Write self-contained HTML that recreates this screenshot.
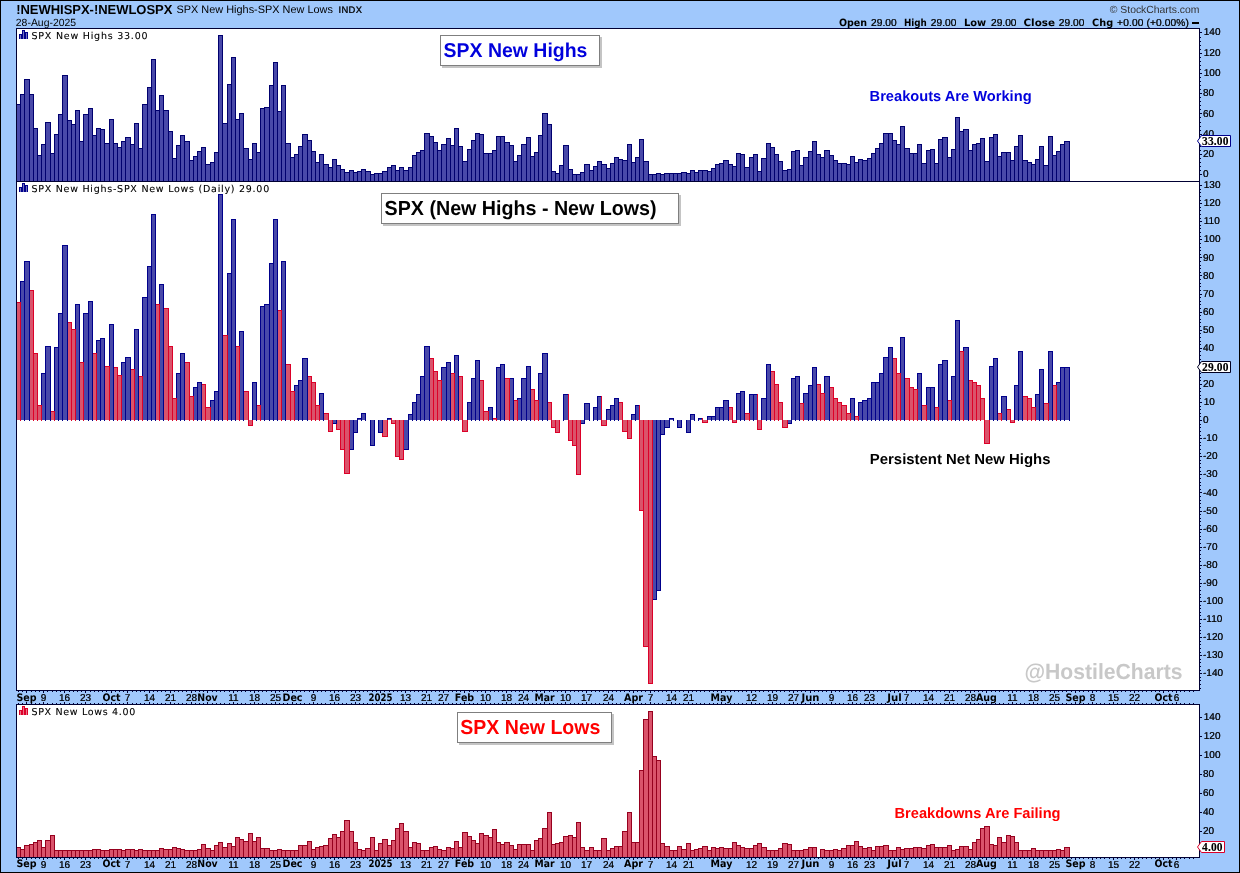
<!DOCTYPE html>
<html lang="en"><head><meta charset="utf-8"><title>SPX New Highs - New Lows</title>
<style>html,body{margin:0;padding:0;background:#fff}body{width:1240px;height:873px;overflow:hidden}svg{display:block}text{white-space:pre}</style>
</head><body>
<svg width="1240" height="873" viewBox="0 0 1240 873" shape-rendering="crispEdges">
<defs><filter id="dl" x="-5%" y="-20%" width="110%" height="140%" color-interpolation-filters="sRGB"><feComponentTransfer><feFuncA type="gamma" amplitude="1" exponent="0.8" offset="0"/></feComponentTransfer></filter><filter id="dk" x="-5%" y="-20%" width="110%" height="140%" color-interpolation-filters="sRGB"><feComponentTransfer><feFuncA type="gamma" amplitude="1" exponent="0.55" offset="0"/></feComponentTransfer></filter></defs>
<rect x="0" y="0" width="1240" height="873" fill="#000"/>
<rect x="1" y="1" width="1238" height="871" fill="#a0c8fc"/>
<rect x="16" y="28" width="1184" height="663" fill="#000033"/>
<rect x="17" y="29" width="1182" height="152" fill="#fff"/>
<rect x="17" y="182" width="1182" height="508" fill="#fff"/>
<rect x="16" y="704" width="1184" height="154" fill="#000033"/>
<rect x="17" y="705" width="1182" height="152" fill="#fff"/>
<g><rect x="1064" y="141" width="6" height="40" fill="#00006e"/><rect x="1065" y="142" width="4" height="39" fill="#4949a9"/><rect x="1060" y="144" width="5" height="37" fill="#00006e"/><rect x="1061" y="145" width="3" height="36" fill="#4949a9"/><rect x="1056" y="151" width="5" height="30" fill="#00006e"/><rect x="1057" y="152" width="3" height="29" fill="#4949a9"/><rect x="1052" y="155" width="5" height="26" fill="#00006e"/><rect x="1053" y="156" width="3" height="25" fill="#4949a9"/><rect x="1048" y="136" width="5" height="45" fill="#00006e"/><rect x="1049" y="137" width="3" height="44" fill="#4949a9"/><rect x="1043" y="165" width="6" height="16" fill="#00006e"/><rect x="1044" y="166" width="4" height="15" fill="#4949a9"/><rect x="1039" y="146" width="5" height="35" fill="#00006e"/><rect x="1040" y="147" width="3" height="34" fill="#4949a9"/><rect x="1035" y="159" width="5" height="22" fill="#00006e"/><rect x="1036" y="160" width="3" height="21" fill="#4949a9"/><rect x="1031" y="164" width="5" height="17" fill="#00006e"/><rect x="1032" y="165" width="3" height="16" fill="#4949a9"/><rect x="1027" y="162" width="5" height="19" fill="#00006e"/><rect x="1028" y="163" width="3" height="18" fill="#4949a9"/><rect x="1022" y="160" width="6" height="21" fill="#00006e"/><rect x="1023" y="161" width="4" height="20" fill="#4949a9"/><rect x="1018" y="135" width="5" height="46" fill="#00006e"/><rect x="1019" y="136" width="3" height="45" fill="#4949a9"/><rect x="1014" y="146" width="5" height="35" fill="#00006e"/><rect x="1015" y="147" width="3" height="34" fill="#4949a9"/><rect x="1010" y="160" width="5" height="21" fill="#00006e"/><rect x="1011" y="161" width="3" height="20" fill="#4949a9"/><rect x="1006" y="152" width="5" height="29" fill="#00006e"/><rect x="1007" y="153" width="3" height="28" fill="#4949a9"/><rect x="1001" y="152" width="6" height="29" fill="#00006e"/><rect x="1002" y="153" width="4" height="28" fill="#4949a9"/><rect x="997" y="156" width="5" height="25" fill="#00006e"/><rect x="998" y="157" width="3" height="24" fill="#4949a9"/><rect x="993" y="134" width="5" height="47" fill="#00006e"/><rect x="994" y="135" width="3" height="46" fill="#4949a9"/><rect x="989" y="137" width="5" height="44" fill="#00006e"/><rect x="990" y="138" width="3" height="43" fill="#4949a9"/><rect x="984" y="161" width="6" height="20" fill="#00006e"/><rect x="985" y="162" width="4" height="19" fill="#4949a9"/><rect x="980" y="138" width="5" height="43" fill="#00006e"/><rect x="981" y="139" width="3" height="42" fill="#4949a9"/><rect x="976" y="143" width="5" height="38" fill="#00006e"/><rect x="977" y="144" width="3" height="37" fill="#4949a9"/><rect x="972" y="144" width="5" height="37" fill="#00006e"/><rect x="973" y="145" width="3" height="36" fill="#4949a9"/><rect x="968" y="150" width="5" height="31" fill="#00006e"/><rect x="969" y="151" width="3" height="30" fill="#4949a9"/><rect x="963" y="129" width="6" height="52" fill="#00006e"/><rect x="964" y="130" width="4" height="51" fill="#4949a9"/><rect x="959" y="131" width="5" height="50" fill="#00006e"/><rect x="960" y="132" width="3" height="49" fill="#4949a9"/><rect x="955" y="117" width="5" height="64" fill="#00006e"/><rect x="956" y="118" width="3" height="63" fill="#4949a9"/><rect x="951" y="149" width="5" height="32" fill="#00006e"/><rect x="952" y="150" width="3" height="31" fill="#4949a9"/><rect x="947" y="157" width="5" height="24" fill="#00006e"/><rect x="948" y="158" width="3" height="23" fill="#4949a9"/><rect x="942" y="137" width="6" height="44" fill="#00006e"/><rect x="943" y="138" width="4" height="43" fill="#4949a9"/><rect x="938" y="139" width="5" height="42" fill="#00006e"/><rect x="939" y="140" width="3" height="41" fill="#4949a9"/><rect x="934" y="163" width="5" height="18" fill="#00006e"/><rect x="935" y="164" width="3" height="17" fill="#4949a9"/><rect x="930" y="149" width="5" height="32" fill="#00006e"/><rect x="931" y="150" width="3" height="31" fill="#4949a9"/><rect x="926" y="150" width="5" height="31" fill="#00006e"/><rect x="927" y="151" width="3" height="30" fill="#4949a9"/><rect x="921" y="163" width="6" height="18" fill="#00006e"/><rect x="922" y="164" width="4" height="17" fill="#4949a9"/><rect x="917" y="144" width="5" height="37" fill="#00006e"/><rect x="918" y="145" width="3" height="36" fill="#4949a9"/><rect x="913" y="153" width="5" height="28" fill="#00006e"/><rect x="914" y="154" width="3" height="27" fill="#4949a9"/><rect x="909" y="153" width="5" height="28" fill="#00006e"/><rect x="910" y="154" width="3" height="27" fill="#4949a9"/><rect x="904" y="148" width="6" height="33" fill="#00006e"/><rect x="905" y="149" width="4" height="32" fill="#4949a9"/><rect x="900" y="126" width="5" height="55" fill="#00006e"/><rect x="901" y="127" width="3" height="54" fill="#4949a9"/><rect x="896" y="144" width="5" height="37" fill="#00006e"/><rect x="897" y="145" width="3" height="36" fill="#4949a9"/><rect x="892" y="140" width="5" height="41" fill="#00006e"/><rect x="893" y="141" width="3" height="40" fill="#4949a9"/><rect x="888" y="133" width="5" height="48" fill="#00006e"/><rect x="889" y="134" width="3" height="47" fill="#4949a9"/><rect x="883" y="133" width="6" height="48" fill="#00006e"/><rect x="884" y="134" width="4" height="47" fill="#4949a9"/><rect x="879" y="143" width="5" height="38" fill="#00006e"/><rect x="880" y="144" width="3" height="37" fill="#4949a9"/><rect x="875" y="148" width="5" height="33" fill="#00006e"/><rect x="876" y="149" width="3" height="32" fill="#4949a9"/><rect x="871" y="153" width="5" height="28" fill="#00006e"/><rect x="872" y="154" width="3" height="27" fill="#4949a9"/><rect x="867" y="158" width="5" height="23" fill="#00006e"/><rect x="868" y="159" width="3" height="22" fill="#4949a9"/><rect x="862" y="160" width="6" height="21" fill="#00006e"/><rect x="863" y="161" width="4" height="20" fill="#4949a9"/><rect x="858" y="159" width="5" height="22" fill="#00006e"/><rect x="859" y="160" width="3" height="21" fill="#4949a9"/><rect x="854" y="162" width="5" height="19" fill="#00006e"/><rect x="855" y="163" width="3" height="18" fill="#4949a9"/><rect x="850" y="156" width="5" height="25" fill="#00006e"/><rect x="851" y="157" width="3" height="24" fill="#4949a9"/><rect x="846" y="164" width="5" height="17" fill="#00006e"/><rect x="847" y="165" width="3" height="16" fill="#4949a9"/><rect x="841" y="163" width="6" height="18" fill="#00006e"/><rect x="842" y="164" width="4" height="17" fill="#4949a9"/><rect x="837" y="163" width="5" height="18" fill="#00006e"/><rect x="838" y="164" width="3" height="17" fill="#4949a9"/><rect x="833" y="160" width="5" height="21" fill="#00006e"/><rect x="834" y="161" width="3" height="20" fill="#4949a9"/><rect x="829" y="155" width="5" height="26" fill="#00006e"/><rect x="830" y="156" width="3" height="25" fill="#4949a9"/><rect x="824" y="150" width="6" height="31" fill="#00006e"/><rect x="825" y="151" width="4" height="30" fill="#4949a9"/><rect x="820" y="157" width="5" height="24" fill="#00006e"/><rect x="821" y="158" width="3" height="23" fill="#4949a9"/><rect x="816" y="154" width="5" height="27" fill="#00006e"/><rect x="817" y="155" width="3" height="26" fill="#4949a9"/><rect x="812" y="141" width="5" height="40" fill="#00006e"/><rect x="813" y="142" width="3" height="39" fill="#4949a9"/><rect x="808" y="151" width="5" height="30" fill="#00006e"/><rect x="809" y="152" width="3" height="29" fill="#4949a9"/><rect x="803" y="157" width="6" height="24" fill="#00006e"/><rect x="804" y="158" width="4" height="23" fill="#4949a9"/><rect x="799" y="165" width="5" height="16" fill="#00006e"/><rect x="800" y="166" width="3" height="15" fill="#4949a9"/><rect x="795" y="150" width="5" height="31" fill="#00006e"/><rect x="796" y="151" width="3" height="30" fill="#4949a9"/><rect x="791" y="151" width="5" height="30" fill="#00006e"/><rect x="792" y="152" width="3" height="29" fill="#4949a9"/><rect x="787" y="169" width="5" height="12" fill="#00006e"/><rect x="788" y="170" width="3" height="11" fill="#4949a9"/><rect x="782" y="170" width="6" height="11" fill="#00006e"/><rect x="783" y="171" width="4" height="10" fill="#4949a9"/><rect x="778" y="161" width="5" height="20" fill="#00006e"/><rect x="779" y="162" width="3" height="19" fill="#4949a9"/><rect x="774" y="154" width="5" height="27" fill="#00006e"/><rect x="775" y="155" width="3" height="26" fill="#4949a9"/><rect x="770" y="147" width="5" height="34" fill="#00006e"/><rect x="771" y="148" width="3" height="33" fill="#4949a9"/><rect x="766" y="143" width="5" height="38" fill="#00006e"/><rect x="767" y="144" width="3" height="37" fill="#4949a9"/><rect x="761" y="158" width="6" height="23" fill="#00006e"/><rect x="762" y="159" width="4" height="22" fill="#4949a9"/><rect x="757" y="171" width="5" height="10" fill="#00006e"/><rect x="758" y="172" width="3" height="9" fill="#4949a9"/><rect x="753" y="154" width="5" height="27" fill="#00006e"/><rect x="754" y="155" width="3" height="26" fill="#4949a9"/><rect x="749" y="157" width="5" height="24" fill="#00006e"/><rect x="750" y="158" width="3" height="23" fill="#4949a9"/><rect x="744" y="167" width="6" height="14" fill="#00006e"/><rect x="745" y="168" width="4" height="13" fill="#4949a9"/><rect x="740" y="154" width="5" height="27" fill="#00006e"/><rect x="741" y="155" width="3" height="26" fill="#4949a9"/><rect x="736" y="153" width="5" height="28" fill="#00006e"/><rect x="737" y="154" width="3" height="27" fill="#4949a9"/><rect x="732" y="166" width="5" height="15" fill="#00006e"/><rect x="733" y="167" width="3" height="14" fill="#4949a9"/><rect x="728" y="164" width="5" height="17" fill="#00006e"/><rect x="729" y="165" width="3" height="16" fill="#4949a9"/><rect x="723" y="160" width="6" height="21" fill="#00006e"/><rect x="724" y="161" width="4" height="20" fill="#4949a9"/><rect x="719" y="163" width="5" height="18" fill="#00006e"/><rect x="720" y="164" width="3" height="17" fill="#4949a9"/><rect x="715" y="164" width="5" height="17" fill="#00006e"/><rect x="716" y="165" width="3" height="16" fill="#4949a9"/><rect x="711" y="168" width="5" height="13" fill="#00006e"/><rect x="712" y="169" width="3" height="12" fill="#4949a9"/><rect x="707" y="171" width="5" height="10" fill="#00006e"/><rect x="708" y="172" width="3" height="9" fill="#4949a9"/><rect x="702" y="170" width="6" height="11" fill="#00006e"/><rect x="703" y="171" width="4" height="10" fill="#4949a9"/><rect x="698" y="170" width="5" height="11" fill="#00006e"/><rect x="699" y="171" width="3" height="10" fill="#4949a9"/><rect x="694" y="172" width="5" height="9" fill="#00006e"/><rect x="695" y="173" width="3" height="8" fill="#4949a9"/><rect x="690" y="170" width="5" height="11" fill="#00006e"/><rect x="691" y="171" width="3" height="10" fill="#4949a9"/><rect x="686" y="173" width="5" height="8" fill="#00006e"/><rect x="687" y="174" width="3" height="7" fill="#4949a9"/><rect x="681" y="172" width="6" height="9" fill="#00006e"/><rect x="682" y="173" width="4" height="8" fill="#4949a9"/><rect x="677" y="173" width="5" height="8" fill="#00006e"/><rect x="678" y="174" width="3" height="7" fill="#4949a9"/><rect x="673" y="173" width="5" height="8" fill="#00006e"/><rect x="674" y="174" width="3" height="7" fill="#4949a9"/><rect x="669" y="173" width="5" height="8" fill="#00006e"/><rect x="670" y="174" width="3" height="7" fill="#4949a9"/><rect x="664" y="173" width="6" height="8" fill="#00006e"/><rect x="665" y="174" width="4" height="7" fill="#4949a9"/><rect x="660" y="174" width="5" height="7" fill="#00006e"/><rect x="661" y="175" width="3" height="6" fill="#4949a9"/><rect x="656" y="173" width="5" height="8" fill="#00006e"/><rect x="657" y="174" width="3" height="7" fill="#4949a9"/><rect x="652" y="174" width="5" height="7" fill="#00006e"/><rect x="653" y="175" width="3" height="6" fill="#4949a9"/><rect x="648" y="174" width="5" height="7" fill="#00006e"/><rect x="649" y="175" width="3" height="6" fill="#4949a9"/><rect x="643" y="161" width="6" height="20" fill="#00006e"/><rect x="644" y="162" width="4" height="19" fill="#4949a9"/><rect x="639" y="139" width="5" height="42" fill="#00006e"/><rect x="640" y="140" width="3" height="41" fill="#4949a9"/><rect x="635" y="157" width="5" height="24" fill="#00006e"/><rect x="636" y="158" width="3" height="23" fill="#4949a9"/><rect x="631" y="162" width="5" height="19" fill="#00006e"/><rect x="632" y="163" width="3" height="18" fill="#4949a9"/><rect x="627" y="144" width="5" height="37" fill="#00006e"/><rect x="628" y="145" width="3" height="36" fill="#4949a9"/><rect x="622" y="160" width="6" height="21" fill="#00006e"/><rect x="623" y="161" width="4" height="20" fill="#4949a9"/><rect x="618" y="159" width="5" height="22" fill="#00006e"/><rect x="619" y="160" width="3" height="21" fill="#4949a9"/><rect x="614" y="157" width="5" height="24" fill="#00006e"/><rect x="615" y="158" width="3" height="23" fill="#4949a9"/><rect x="610" y="163" width="5" height="18" fill="#00006e"/><rect x="611" y="164" width="3" height="17" fill="#4949a9"/><rect x="606" y="168" width="5" height="13" fill="#00006e"/><rect x="607" y="169" width="3" height="12" fill="#4949a9"/><rect x="601" y="164" width="6" height="17" fill="#00006e"/><rect x="602" y="165" width="4" height="16" fill="#4949a9"/><rect x="597" y="161" width="5" height="20" fill="#00006e"/><rect x="598" y="162" width="3" height="19" fill="#4949a9"/><rect x="593" y="166" width="5" height="15" fill="#00006e"/><rect x="594" y="167" width="3" height="14" fill="#4949a9"/><rect x="589" y="170" width="5" height="11" fill="#00006e"/><rect x="590" y="171" width="3" height="10" fill="#4949a9"/><rect x="584" y="164" width="6" height="17" fill="#00006e"/><rect x="585" y="165" width="4" height="16" fill="#4949a9"/><rect x="580" y="172" width="5" height="9" fill="#00006e"/><rect x="581" y="173" width="3" height="8" fill="#4949a9"/><rect x="576" y="174" width="5" height="7" fill="#00006e"/><rect x="577" y="175" width="3" height="6" fill="#4949a9"/><rect x="572" y="174" width="5" height="7" fill="#00006e"/><rect x="573" y="175" width="3" height="6" fill="#4949a9"/><rect x="568" y="169" width="5" height="12" fill="#00006e"/><rect x="569" y="170" width="3" height="11" fill="#4949a9"/><rect x="563" y="145" width="6" height="36" fill="#00006e"/><rect x="564" y="146" width="4" height="35" fill="#4949a9"/><rect x="559" y="165" width="5" height="16" fill="#00006e"/><rect x="560" y="166" width="3" height="15" fill="#4949a9"/><rect x="555" y="173" width="5" height="8" fill="#00006e"/><rect x="556" y="174" width="3" height="7" fill="#4949a9"/><rect x="551" y="171" width="5" height="10" fill="#00006e"/><rect x="552" y="172" width="3" height="9" fill="#4949a9"/><rect x="547" y="124" width="5" height="57" fill="#00006e"/><rect x="548" y="125" width="3" height="56" fill="#4949a9"/><rect x="542" y="113" width="6" height="68" fill="#00006e"/><rect x="543" y="114" width="4" height="67" fill="#4949a9"/><rect x="538" y="135" width="5" height="46" fill="#00006e"/><rect x="539" y="136" width="3" height="45" fill="#4949a9"/><rect x="534" y="152" width="5" height="29" fill="#00006e"/><rect x="535" y="153" width="3" height="28" fill="#4949a9"/><rect x="530" y="156" width="5" height="25" fill="#00006e"/><rect x="531" y="157" width="3" height="24" fill="#4949a9"/><rect x="526" y="137" width="5" height="44" fill="#00006e"/><rect x="527" y="138" width="3" height="43" fill="#4949a9"/><rect x="521" y="144" width="6" height="37" fill="#00006e"/><rect x="522" y="145" width="4" height="36" fill="#4949a9"/><rect x="517" y="155" width="5" height="26" fill="#00006e"/><rect x="518" y="156" width="3" height="25" fill="#4949a9"/><rect x="513" y="161" width="5" height="20" fill="#00006e"/><rect x="514" y="162" width="3" height="19" fill="#4949a9"/><rect x="509" y="145" width="5" height="36" fill="#00006e"/><rect x="510" y="146" width="3" height="35" fill="#4949a9"/><rect x="504" y="142" width="6" height="39" fill="#00006e"/><rect x="505" y="143" width="4" height="38" fill="#4949a9"/><rect x="500" y="136" width="5" height="45" fill="#00006e"/><rect x="501" y="137" width="3" height="44" fill="#4949a9"/><rect x="496" y="136" width="5" height="45" fill="#00006e"/><rect x="497" y="137" width="3" height="44" fill="#4949a9"/><rect x="492" y="150" width="5" height="31" fill="#00006e"/><rect x="493" y="151" width="3" height="30" fill="#4949a9"/><rect x="488" y="153" width="5" height="28" fill="#00006e"/><rect x="489" y="154" width="3" height="27" fill="#4949a9"/><rect x="483" y="153" width="6" height="28" fill="#00006e"/><rect x="484" y="154" width="4" height="27" fill="#4949a9"/><rect x="479" y="134" width="5" height="47" fill="#00006e"/><rect x="480" y="135" width="3" height="46" fill="#4949a9"/><rect x="475" y="133" width="5" height="48" fill="#00006e"/><rect x="476" y="134" width="3" height="47" fill="#4949a9"/><rect x="471" y="140" width="5" height="41" fill="#00006e"/><rect x="472" y="141" width="3" height="40" fill="#4949a9"/><rect x="467" y="149" width="5" height="32" fill="#00006e"/><rect x="468" y="150" width="3" height="31" fill="#4949a9"/><rect x="462" y="161" width="6" height="20" fill="#00006e"/><rect x="463" y="162" width="4" height="19" fill="#4949a9"/><rect x="458" y="146" width="5" height="35" fill="#00006e"/><rect x="459" y="147" width="3" height="34" fill="#4949a9"/><rect x="454" y="128" width="5" height="53" fill="#00006e"/><rect x="455" y="129" width="3" height="52" fill="#4949a9"/><rect x="450" y="145" width="5" height="36" fill="#00006e"/><rect x="451" y="146" width="3" height="35" fill="#4949a9"/><rect x="446" y="138" width="5" height="43" fill="#00006e"/><rect x="447" y="139" width="3" height="42" fill="#4949a9"/><rect x="441" y="144" width="6" height="37" fill="#00006e"/><rect x="442" y="145" width="4" height="36" fill="#4949a9"/><rect x="437" y="150" width="5" height="31" fill="#00006e"/><rect x="438" y="151" width="3" height="30" fill="#4949a9"/><rect x="433" y="142" width="5" height="39" fill="#00006e"/><rect x="434" y="143" width="3" height="38" fill="#4949a9"/><rect x="429" y="136" width="5" height="45" fill="#00006e"/><rect x="430" y="137" width="3" height="44" fill="#4949a9"/><rect x="424" y="133" width="6" height="48" fill="#00006e"/><rect x="425" y="134" width="4" height="47" fill="#4949a9"/><rect x="420" y="150" width="5" height="31" fill="#00006e"/><rect x="421" y="151" width="3" height="30" fill="#4949a9"/><rect x="416" y="152" width="5" height="29" fill="#00006e"/><rect x="417" y="153" width="3" height="28" fill="#4949a9"/><rect x="412" y="155" width="5" height="26" fill="#00006e"/><rect x="413" y="156" width="3" height="25" fill="#4949a9"/><rect x="408" y="167" width="5" height="14" fill="#00006e"/><rect x="409" y="168" width="3" height="13" fill="#4949a9"/><rect x="403" y="170" width="6" height="11" fill="#00006e"/><rect x="404" y="171" width="4" height="10" fill="#4949a9"/><rect x="399" y="167" width="5" height="14" fill="#00006e"/><rect x="400" y="168" width="3" height="13" fill="#4949a9"/><rect x="395" y="170" width="5" height="11" fill="#00006e"/><rect x="396" y="171" width="3" height="10" fill="#4949a9"/><rect x="391" y="165" width="5" height="16" fill="#00006e"/><rect x="392" y="166" width="3" height="15" fill="#4949a9"/><rect x="387" y="167" width="5" height="14" fill="#00006e"/><rect x="388" y="168" width="3" height="13" fill="#4949a9"/><rect x="382" y="171" width="6" height="10" fill="#00006e"/><rect x="383" y="172" width="4" height="9" fill="#4949a9"/><rect x="378" y="173" width="5" height="8" fill="#00006e"/><rect x="379" y="174" width="3" height="7" fill="#4949a9"/><rect x="374" y="173" width="5" height="8" fill="#00006e"/><rect x="375" y="174" width="3" height="7" fill="#4949a9"/><rect x="370" y="174" width="5" height="7" fill="#00006e"/><rect x="371" y="175" width="3" height="6" fill="#4949a9"/><rect x="365" y="171" width="6" height="10" fill="#00006e"/><rect x="366" y="172" width="4" height="9" fill="#4949a9"/><rect x="361" y="169" width="5" height="12" fill="#00006e"/><rect x="362" y="170" width="3" height="11" fill="#4949a9"/><rect x="357" y="171" width="5" height="10" fill="#00006e"/><rect x="358" y="172" width="3" height="9" fill="#4949a9"/><rect x="353" y="172" width="5" height="9" fill="#00006e"/><rect x="354" y="173" width="3" height="8" fill="#4949a9"/><rect x="349" y="170" width="5" height="11" fill="#00006e"/><rect x="350" y="171" width="3" height="10" fill="#4949a9"/><rect x="344" y="172" width="6" height="9" fill="#00006e"/><rect x="345" y="173" width="4" height="8" fill="#4949a9"/><rect x="340" y="169" width="5" height="12" fill="#00006e"/><rect x="341" y="170" width="3" height="11" fill="#4949a9"/><rect x="336" y="165" width="5" height="16" fill="#00006e"/><rect x="337" y="166" width="3" height="15" fill="#4949a9"/><rect x="332" y="159" width="5" height="22" fill="#00006e"/><rect x="333" y="160" width="3" height="21" fill="#4949a9"/><rect x="328" y="167" width="5" height="14" fill="#00006e"/><rect x="329" y="168" width="3" height="13" fill="#4949a9"/><rect x="323" y="164" width="6" height="17" fill="#00006e"/><rect x="324" y="165" width="4" height="16" fill="#4949a9"/><rect x="319" y="154" width="5" height="27" fill="#00006e"/><rect x="320" y="155" width="3" height="26" fill="#4949a9"/><rect x="315" y="162" width="5" height="19" fill="#00006e"/><rect x="316" y="163" width="3" height="18" fill="#4949a9"/><rect x="311" y="151" width="5" height="30" fill="#00006e"/><rect x="312" y="152" width="3" height="29" fill="#4949a9"/><rect x="307" y="140" width="5" height="41" fill="#00006e"/><rect x="308" y="141" width="3" height="40" fill="#4949a9"/><rect x="302" y="134" width="6" height="47" fill="#00006e"/><rect x="303" y="135" width="4" height="46" fill="#4949a9"/><rect x="298" y="146" width="5" height="35" fill="#00006e"/><rect x="299" y="147" width="3" height="34" fill="#4949a9"/><rect x="294" y="154" width="5" height="27" fill="#00006e"/><rect x="295" y="155" width="3" height="26" fill="#4949a9"/><rect x="290" y="157" width="5" height="24" fill="#00006e"/><rect x="291" y="158" width="3" height="23" fill="#4949a9"/><rect x="285" y="143" width="6" height="38" fill="#00006e"/><rect x="286" y="144" width="4" height="37" fill="#4949a9"/><rect x="281" y="85" width="5" height="96" fill="#00006e"/><rect x="282" y="86" width="3" height="95" fill="#4949a9"/><rect x="277" y="111" width="5" height="70" fill="#00006e"/><rect x="278" y="112" width="3" height="69" fill="#4949a9"/><rect x="273" y="62" width="5" height="119" fill="#00006e"/><rect x="274" y="63" width="3" height="118" fill="#4949a9"/><rect x="269" y="85" width="5" height="96" fill="#00006e"/><rect x="270" y="86" width="3" height="95" fill="#4949a9"/><rect x="264" y="107" width="6" height="74" fill="#00006e"/><rect x="265" y="108" width="4" height="73" fill="#4949a9"/><rect x="260" y="108" width="5" height="73" fill="#00006e"/><rect x="261" y="109" width="3" height="72" fill="#4949a9"/><rect x="256" y="152" width="5" height="29" fill="#00006e"/><rect x="257" y="153" width="3" height="28" fill="#4949a9"/><rect x="252" y="143" width="5" height="38" fill="#00006e"/><rect x="253" y="144" width="3" height="37" fill="#4949a9"/><rect x="248" y="159" width="5" height="22" fill="#00006e"/><rect x="249" y="160" width="3" height="21" fill="#4949a9"/><rect x="243" y="148" width="6" height="33" fill="#00006e"/><rect x="244" y="149" width="4" height="32" fill="#4949a9"/><rect x="239" y="113" width="5" height="68" fill="#00006e"/><rect x="240" y="114" width="3" height="67" fill="#4949a9"/><rect x="235" y="119" width="5" height="62" fill="#00006e"/><rect x="236" y="120" width="3" height="61" fill="#4949a9"/><rect x="231" y="57" width="5" height="124" fill="#00006e"/><rect x="232" y="58" width="3" height="123" fill="#4949a9"/><rect x="227" y="84" width="5" height="97" fill="#00006e"/><rect x="228" y="85" width="3" height="96" fill="#4949a9"/><rect x="222" y="123" width="6" height="58" fill="#00006e"/><rect x="223" y="124" width="4" height="57" fill="#4949a9"/><rect x="218" y="35" width="5" height="146" fill="#00006e"/><rect x="219" y="36" width="3" height="145" fill="#4949a9"/><rect x="214" y="152" width="5" height="29" fill="#00006e"/><rect x="215" y="153" width="3" height="28" fill="#4949a9"/><rect x="210" y="162" width="5" height="19" fill="#00006e"/><rect x="211" y="163" width="3" height="18" fill="#4949a9"/><rect x="205" y="164" width="6" height="17" fill="#00006e"/><rect x="206" y="165" width="4" height="16" fill="#4949a9"/><rect x="201" y="147" width="5" height="34" fill="#00006e"/><rect x="202" y="148" width="3" height="33" fill="#4949a9"/><rect x="197" y="151" width="5" height="30" fill="#00006e"/><rect x="198" y="152" width="3" height="29" fill="#4949a9"/><rect x="193" y="156" width="5" height="25" fill="#00006e"/><rect x="194" y="157" width="3" height="24" fill="#4949a9"/><rect x="189" y="160" width="5" height="21" fill="#00006e"/><rect x="190" y="161" width="3" height="20" fill="#4949a9"/><rect x="184" y="141" width="6" height="40" fill="#00006e"/><rect x="185" y="142" width="4" height="39" fill="#4949a9"/><rect x="180" y="135" width="5" height="46" fill="#00006e"/><rect x="181" y="136" width="3" height="45" fill="#4949a9"/><rect x="176" y="145" width="5" height="36" fill="#00006e"/><rect x="177" y="146" width="3" height="35" fill="#4949a9"/><rect x="172" y="158" width="5" height="23" fill="#00006e"/><rect x="173" y="159" width="3" height="22" fill="#4949a9"/><rect x="168" y="131" width="5" height="50" fill="#00006e"/><rect x="169" y="132" width="3" height="49" fill="#4949a9"/><rect x="163" y="110" width="6" height="71" fill="#00006e"/><rect x="164" y="111" width="4" height="70" fill="#4949a9"/><rect x="159" y="95" width="5" height="86" fill="#00006e"/><rect x="160" y="96" width="3" height="85" fill="#4949a9"/><rect x="155" y="110" width="5" height="71" fill="#00006e"/><rect x="156" y="111" width="3" height="70" fill="#4949a9"/><rect x="151" y="59" width="5" height="122" fill="#00006e"/><rect x="152" y="60" width="3" height="121" fill="#4949a9"/><rect x="147" y="87" width="5" height="94" fill="#00006e"/><rect x="148" y="88" width="3" height="93" fill="#4949a9"/><rect x="142" y="104" width="6" height="77" fill="#00006e"/><rect x="143" y="105" width="4" height="76" fill="#4949a9"/><rect x="138" y="148" width="5" height="33" fill="#00006e"/><rect x="139" y="149" width="3" height="32" fill="#4949a9"/><rect x="134" y="123" width="5" height="58" fill="#00006e"/><rect x="135" y="124" width="3" height="57" fill="#4949a9"/><rect x="130" y="144" width="5" height="37" fill="#00006e"/><rect x="131" y="145" width="3" height="36" fill="#4949a9"/><rect x="125" y="137" width="6" height="44" fill="#00006e"/><rect x="126" y="138" width="4" height="43" fill="#4949a9"/><rect x="121" y="141" width="5" height="40" fill="#00006e"/><rect x="122" y="142" width="3" height="39" fill="#4949a9"/><rect x="117" y="147" width="5" height="34" fill="#00006e"/><rect x="118" y="148" width="3" height="33" fill="#4949a9"/><rect x="113" y="143" width="5" height="38" fill="#00006e"/><rect x="114" y="144" width="3" height="37" fill="#4949a9"/><rect x="109" y="119" width="5" height="62" fill="#00006e"/><rect x="110" y="120" width="3" height="61" fill="#4949a9"/><rect x="104" y="143" width="6" height="38" fill="#00006e"/><rect x="105" y="144" width="4" height="37" fill="#4949a9"/><rect x="100" y="129" width="5" height="52" fill="#00006e"/><rect x="101" y="130" width="3" height="51" fill="#4949a9"/><rect x="96" y="128" width="5" height="53" fill="#00006e"/><rect x="97" y="129" width="3" height="52" fill="#4949a9"/><rect x="92" y="135" width="5" height="46" fill="#00006e"/><rect x="93" y="136" width="3" height="45" fill="#4949a9"/><rect x="88" y="108" width="5" height="73" fill="#00006e"/><rect x="89" y="109" width="3" height="72" fill="#4949a9"/><rect x="83" y="114" width="6" height="67" fill="#00006e"/><rect x="84" y="115" width="4" height="66" fill="#4949a9"/><rect x="79" y="141" width="5" height="40" fill="#00006e"/><rect x="80" y="142" width="3" height="39" fill="#4949a9"/><rect x="75" y="110" width="5" height="71" fill="#00006e"/><rect x="76" y="111" width="3" height="70" fill="#4949a9"/><rect x="71" y="124" width="5" height="57" fill="#00006e"/><rect x="72" y="125" width="3" height="56" fill="#4949a9"/><rect x="67" y="120" width="5" height="61" fill="#00006e"/><rect x="68" y="121" width="3" height="60" fill="#4949a9"/><rect x="62" y="75" width="6" height="106" fill="#00006e"/><rect x="63" y="76" width="4" height="105" fill="#4949a9"/><rect x="58" y="114" width="5" height="67" fill="#00006e"/><rect x="59" y="115" width="3" height="66" fill="#4949a9"/><rect x="54" y="134" width="5" height="47" fill="#00006e"/><rect x="55" y="135" width="3" height="46" fill="#4949a9"/><rect x="50" y="153" width="5" height="28" fill="#00006e"/><rect x="51" y="154" width="3" height="27" fill="#4949a9"/><rect x="45" y="122" width="6" height="59" fill="#00006e"/><rect x="46" y="123" width="4" height="58" fill="#4949a9"/><rect x="41" y="144" width="5" height="37" fill="#00006e"/><rect x="42" y="145" width="3" height="36" fill="#4949a9"/><rect x="37" y="155" width="5" height="26" fill="#00006e"/><rect x="38" y="156" width="3" height="25" fill="#4949a9"/><rect x="33" y="128" width="5" height="53" fill="#00006e"/><rect x="34" y="129" width="3" height="52" fill="#4949a9"/><rect x="29" y="94" width="5" height="87" fill="#00006e"/><rect x="30" y="95" width="3" height="86" fill="#4949a9"/><rect x="24" y="79" width="6" height="102" fill="#00006e"/><rect x="25" y="80" width="4" height="101" fill="#4949a9"/><rect x="20" y="94" width="5" height="87" fill="#00006e"/><rect x="21" y="95" width="3" height="86" fill="#4949a9"/><rect x="16" y="104" width="5" height="77" fill="#00006e"/><rect x="17" y="105" width="3" height="76" fill="#4949a9"/></g>
<g><rect x="1064" y="847" width="6" height="10" fill="#96001e"/><rect x="1065" y="848" width="4" height="9" fill="#da536b"/><rect x="1060" y="850" width="5" height="7" fill="#96001e"/><rect x="1061" y="851" width="3" height="6" fill="#da536b"/><rect x="1056" y="849" width="5" height="8" fill="#96001e"/><rect x="1057" y="850" width="3" height="7" fill="#da536b"/><rect x="1052" y="850" width="5" height="7" fill="#96001e"/><rect x="1053" y="851" width="3" height="6" fill="#da536b"/><rect x="1048" y="850" width="5" height="7" fill="#96001e"/><rect x="1049" y="851" width="3" height="6" fill="#da536b"/><rect x="1043" y="850" width="6" height="7" fill="#96001e"/><rect x="1044" y="851" width="4" height="6" fill="#da536b"/><rect x="1039" y="850" width="5" height="7" fill="#96001e"/><rect x="1040" y="851" width="3" height="6" fill="#da536b"/><rect x="1035" y="850" width="5" height="7" fill="#96001e"/><rect x="1036" y="851" width="3" height="6" fill="#da536b"/><rect x="1031" y="848" width="5" height="9" fill="#96001e"/><rect x="1032" y="849" width="3" height="8" fill="#da536b"/><rect x="1027" y="850" width="5" height="7" fill="#96001e"/><rect x="1028" y="851" width="3" height="6" fill="#da536b"/><rect x="1022" y="850" width="6" height="7" fill="#96001e"/><rect x="1023" y="851" width="4" height="6" fill="#da536b"/><rect x="1018" y="850" width="5" height="7" fill="#96001e"/><rect x="1019" y="851" width="3" height="6" fill="#da536b"/><rect x="1014" y="842" width="5" height="15" fill="#96001e"/><rect x="1015" y="843" width="3" height="14" fill="#da536b"/><rect x="1010" y="836" width="5" height="21" fill="#96001e"/><rect x="1011" y="837" width="3" height="20" fill="#da536b"/><rect x="1006" y="835" width="5" height="22" fill="#96001e"/><rect x="1007" y="836" width="3" height="21" fill="#da536b"/><rect x="1001" y="842" width="6" height="15" fill="#96001e"/><rect x="1002" y="843" width="4" height="14" fill="#da536b"/><rect x="997" y="837" width="5" height="20" fill="#96001e"/><rect x="998" y="838" width="3" height="19" fill="#da536b"/><rect x="993" y="845" width="5" height="12" fill="#96001e"/><rect x="994" y="846" width="3" height="11" fill="#da536b"/><rect x="989" y="844" width="5" height="13" fill="#96001e"/><rect x="990" y="845" width="3" height="12" fill="#da536b"/><rect x="984" y="826" width="6" height="31" fill="#96001e"/><rect x="985" y="827" width="4" height="30" fill="#da536b"/><rect x="980" y="828" width="5" height="29" fill="#96001e"/><rect x="981" y="829" width="3" height="28" fill="#da536b"/><rect x="976" y="839" width="5" height="18" fill="#96001e"/><rect x="977" y="840" width="3" height="17" fill="#da536b"/><rect x="972" y="842" width="5" height="15" fill="#96001e"/><rect x="973" y="843" width="3" height="14" fill="#da536b"/><rect x="968" y="849" width="5" height="8" fill="#96001e"/><rect x="969" y="850" width="3" height="7" fill="#da536b"/><rect x="963" y="846" width="6" height="11" fill="#96001e"/><rect x="964" y="847" width="4" height="10" fill="#da536b"/><rect x="959" y="846" width="5" height="11" fill="#96001e"/><rect x="960" y="847" width="3" height="10" fill="#da536b"/><rect x="955" y="849" width="5" height="8" fill="#96001e"/><rect x="956" y="850" width="3" height="7" fill="#da536b"/><rect x="951" y="850" width="5" height="7" fill="#96001e"/><rect x="952" y="851" width="3" height="6" fill="#da536b"/><rect x="947" y="845" width="5" height="12" fill="#96001e"/><rect x="948" y="846" width="3" height="11" fill="#da536b"/><rect x="942" y="847" width="6" height="10" fill="#96001e"/><rect x="943" y="848" width="4" height="9" fill="#da536b"/><rect x="938" y="847" width="5" height="10" fill="#96001e"/><rect x="939" y="848" width="3" height="9" fill="#da536b"/><rect x="934" y="847" width="5" height="10" fill="#96001e"/><rect x="935" y="848" width="3" height="9" fill="#da536b"/><rect x="930" y="844" width="5" height="13" fill="#96001e"/><rect x="931" y="845" width="3" height="12" fill="#da536b"/><rect x="926" y="845" width="5" height="12" fill="#96001e"/><rect x="927" y="846" width="3" height="11" fill="#da536b"/><rect x="921" y="848" width="6" height="9" fill="#96001e"/><rect x="922" y="849" width="4" height="8" fill="#da536b"/><rect x="917" y="847" width="5" height="10" fill="#96001e"/><rect x="918" y="848" width="3" height="9" fill="#da536b"/><rect x="913" y="847" width="5" height="10" fill="#96001e"/><rect x="914" y="848" width="3" height="9" fill="#da536b"/><rect x="909" y="848" width="5" height="9" fill="#96001e"/><rect x="910" y="849" width="3" height="8" fill="#da536b"/><rect x="904" y="848" width="6" height="9" fill="#96001e"/><rect x="905" y="849" width="4" height="8" fill="#da536b"/><rect x="900" y="849" width="5" height="8" fill="#96001e"/><rect x="901" y="850" width="3" height="7" fill="#da536b"/><rect x="896" y="847" width="5" height="10" fill="#96001e"/><rect x="897" y="848" width="3" height="9" fill="#da536b"/><rect x="892" y="850" width="5" height="7" fill="#96001e"/><rect x="893" y="851" width="3" height="6" fill="#da536b"/><rect x="888" y="850" width="5" height="7" fill="#96001e"/><rect x="889" y="851" width="3" height="6" fill="#da536b"/><rect x="883" y="845" width="6" height="12" fill="#96001e"/><rect x="884" y="846" width="4" height="11" fill="#da536b"/><rect x="879" y="846" width="5" height="11" fill="#96001e"/><rect x="880" y="847" width="3" height="10" fill="#da536b"/><rect x="875" y="846" width="5" height="11" fill="#96001e"/><rect x="876" y="847" width="3" height="10" fill="#da536b"/><rect x="871" y="850" width="5" height="7" fill="#96001e"/><rect x="872" y="851" width="3" height="6" fill="#da536b"/><rect x="867" y="847" width="5" height="10" fill="#96001e"/><rect x="868" y="848" width="3" height="9" fill="#da536b"/><rect x="862" y="848" width="6" height="9" fill="#96001e"/><rect x="863" y="849" width="4" height="8" fill="#da536b"/><rect x="858" y="846" width="5" height="11" fill="#96001e"/><rect x="859" y="847" width="3" height="10" fill="#da536b"/><rect x="854" y="841" width="5" height="16" fill="#96001e"/><rect x="855" y="842" width="3" height="15" fill="#da536b"/><rect x="850" y="845" width="5" height="12" fill="#96001e"/><rect x="851" y="846" width="3" height="11" fill="#da536b"/><rect x="846" y="845" width="5" height="12" fill="#96001e"/><rect x="847" y="846" width="3" height="11" fill="#da536b"/><rect x="841" y="848" width="6" height="9" fill="#96001e"/><rect x="842" y="849" width="4" height="8" fill="#da536b"/><rect x="837" y="850" width="5" height="7" fill="#96001e"/><rect x="838" y="851" width="3" height="6" fill="#da536b"/><rect x="833" y="849" width="5" height="8" fill="#96001e"/><rect x="834" y="850" width="3" height="7" fill="#da536b"/><rect x="829" y="850" width="5" height="7" fill="#96001e"/><rect x="830" y="851" width="3" height="6" fill="#da536b"/><rect x="824" y="850" width="6" height="7" fill="#96001e"/><rect x="825" y="851" width="4" height="6" fill="#da536b"/><rect x="820" y="849" width="5" height="8" fill="#96001e"/><rect x="821" y="850" width="3" height="7" fill="#da536b"/><rect x="812" y="847" width="5" height="10" fill="#96001e"/><rect x="813" y="848" width="3" height="9" fill="#da536b"/><rect x="808" y="847" width="5" height="10" fill="#96001e"/><rect x="809" y="848" width="3" height="9" fill="#da536b"/><rect x="803" y="849" width="6" height="8" fill="#96001e"/><rect x="804" y="850" width="4" height="7" fill="#da536b"/><rect x="799" y="850" width="5" height="7" fill="#96001e"/><rect x="800" y="851" width="3" height="6" fill="#da536b"/><rect x="795" y="850" width="5" height="7" fill="#96001e"/><rect x="796" y="851" width="3" height="6" fill="#da536b"/><rect x="791" y="850" width="5" height="7" fill="#96001e"/><rect x="792" y="851" width="3" height="6" fill="#da536b"/><rect x="787" y="844" width="5" height="13" fill="#96001e"/><rect x="788" y="845" width="3" height="12" fill="#da536b"/><rect x="782" y="843" width="6" height="14" fill="#96001e"/><rect x="783" y="844" width="4" height="13" fill="#da536b"/><rect x="778" y="848" width="5" height="9" fill="#96001e"/><rect x="779" y="849" width="3" height="8" fill="#da536b"/><rect x="774" y="850" width="5" height="7" fill="#96001e"/><rect x="775" y="851" width="3" height="6" fill="#da536b"/><rect x="770" y="850" width="5" height="7" fill="#96001e"/><rect x="771" y="851" width="3" height="6" fill="#da536b"/><rect x="766" y="850" width="5" height="7" fill="#96001e"/><rect x="767" y="851" width="3" height="6" fill="#da536b"/><rect x="761" y="847" width="6" height="10" fill="#96001e"/><rect x="762" y="848" width="4" height="9" fill="#da536b"/><rect x="757" y="843" width="5" height="14" fill="#96001e"/><rect x="758" y="844" width="3" height="13" fill="#da536b"/><rect x="753" y="845" width="5" height="12" fill="#96001e"/><rect x="754" y="846" width="3" height="11" fill="#da536b"/><rect x="749" y="848" width="5" height="9" fill="#96001e"/><rect x="750" y="849" width="3" height="8" fill="#da536b"/><rect x="744" y="848" width="6" height="9" fill="#96001e"/><rect x="745" y="849" width="4" height="8" fill="#da536b"/><rect x="740" y="847" width="5" height="10" fill="#96001e"/><rect x="741" y="848" width="3" height="9" fill="#da536b"/><rect x="736" y="845" width="5" height="12" fill="#96001e"/><rect x="737" y="846" width="3" height="11" fill="#da536b"/><rect x="732" y="842" width="5" height="15" fill="#96001e"/><rect x="733" y="843" width="3" height="14" fill="#da536b"/><rect x="728" y="848" width="5" height="9" fill="#96001e"/><rect x="729" y="849" width="3" height="8" fill="#da536b"/><rect x="723" y="848" width="6" height="9" fill="#96001e"/><rect x="724" y="849" width="4" height="8" fill="#da536b"/><rect x="719" y="847" width="5" height="10" fill="#96001e"/><rect x="720" y="848" width="3" height="9" fill="#da536b"/><rect x="715" y="848" width="5" height="9" fill="#96001e"/><rect x="716" y="849" width="3" height="8" fill="#da536b"/><rect x="711" y="847" width="5" height="10" fill="#96001e"/><rect x="712" y="848" width="3" height="9" fill="#da536b"/><rect x="707" y="850" width="5" height="7" fill="#96001e"/><rect x="708" y="851" width="3" height="6" fill="#da536b"/><rect x="702" y="846" width="6" height="11" fill="#96001e"/><rect x="703" y="847" width="4" height="10" fill="#da536b"/><rect x="698" y="848" width="5" height="9" fill="#96001e"/><rect x="699" y="849" width="3" height="8" fill="#da536b"/><rect x="694" y="849" width="5" height="8" fill="#96001e"/><rect x="695" y="850" width="3" height="7" fill="#da536b"/><rect x="690" y="850" width="5" height="7" fill="#96001e"/><rect x="691" y="851" width="3" height="6" fill="#da536b"/><rect x="686" y="843" width="5" height="14" fill="#96001e"/><rect x="687" y="844" width="3" height="13" fill="#da536b"/><rect x="681" y="849" width="6" height="8" fill="#96001e"/><rect x="682" y="850" width="4" height="7" fill="#da536b"/><rect x="677" y="846" width="5" height="11" fill="#96001e"/><rect x="678" y="847" width="3" height="10" fill="#da536b"/><rect x="673" y="850" width="5" height="7" fill="#96001e"/><rect x="674" y="851" width="3" height="6" fill="#da536b"/><rect x="669" y="850" width="5" height="7" fill="#96001e"/><rect x="670" y="851" width="3" height="6" fill="#da536b"/><rect x="664" y="846" width="6" height="11" fill="#96001e"/><rect x="665" y="847" width="4" height="10" fill="#da536b"/><rect x="660" y="843" width="5" height="14" fill="#96001e"/><rect x="661" y="844" width="3" height="13" fill="#da536b"/><rect x="656" y="760" width="5" height="97" fill="#96001e"/><rect x="657" y="761" width="3" height="96" fill="#da536b"/><rect x="652" y="756" width="5" height="101" fill="#96001e"/><rect x="653" y="757" width="3" height="100" fill="#da536b"/><rect x="648" y="711" width="5" height="146" fill="#96001e"/><rect x="649" y="712" width="3" height="145" fill="#da536b"/><rect x="643" y="719" width="6" height="138" fill="#96001e"/><rect x="644" y="720" width="4" height="137" fill="#da536b"/><rect x="639" y="770" width="5" height="87" fill="#96001e"/><rect x="640" y="771" width="3" height="86" fill="#da536b"/><rect x="635" y="842" width="5" height="15" fill="#96001e"/><rect x="636" y="843" width="3" height="14" fill="#da536b"/><rect x="631" y="842" width="5" height="15" fill="#96001e"/><rect x="632" y="843" width="3" height="14" fill="#da536b"/><rect x="627" y="812" width="5" height="45" fill="#96001e"/><rect x="628" y="813" width="3" height="44" fill="#da536b"/><rect x="622" y="831" width="6" height="26" fill="#96001e"/><rect x="623" y="832" width="4" height="25" fill="#da536b"/><rect x="618" y="846" width="5" height="11" fill="#96001e"/><rect x="619" y="847" width="3" height="10" fill="#da536b"/><rect x="614" y="846" width="5" height="11" fill="#96001e"/><rect x="615" y="847" width="3" height="10" fill="#da536b"/><rect x="610" y="848" width="5" height="9" fill="#96001e"/><rect x="611" y="849" width="3" height="8" fill="#da536b"/><rect x="606" y="850" width="5" height="7" fill="#96001e"/><rect x="607" y="851" width="3" height="6" fill="#da536b"/><rect x="601" y="838" width="6" height="19" fill="#96001e"/><rect x="602" y="839" width="4" height="18" fill="#da536b"/><rect x="597" y="850" width="5" height="7" fill="#96001e"/><rect x="598" y="851" width="3" height="6" fill="#da536b"/><rect x="593" y="850" width="5" height="7" fill="#96001e"/><rect x="594" y="851" width="3" height="6" fill="#da536b"/><rect x="589" y="847" width="5" height="10" fill="#96001e"/><rect x="590" y="848" width="3" height="9" fill="#da536b"/><rect x="584" y="850" width="6" height="7" fill="#96001e"/><rect x="585" y="851" width="4" height="6" fill="#da536b"/><rect x="580" y="847" width="5" height="10" fill="#96001e"/><rect x="581" y="848" width="3" height="9" fill="#da536b"/><rect x="576" y="822" width="5" height="35" fill="#96001e"/><rect x="577" y="823" width="3" height="34" fill="#da536b"/><rect x="572" y="837" width="5" height="20" fill="#96001e"/><rect x="573" y="838" width="3" height="19" fill="#da536b"/><rect x="568" y="835" width="5" height="22" fill="#96001e"/><rect x="569" y="836" width="3" height="21" fill="#da536b"/><rect x="563" y="836" width="6" height="21" fill="#96001e"/><rect x="564" y="837" width="4" height="20" fill="#da536b"/><rect x="559" y="842" width="5" height="15" fill="#96001e"/><rect x="560" y="843" width="3" height="14" fill="#da536b"/><rect x="555" y="843" width="5" height="14" fill="#96001e"/><rect x="556" y="844" width="3" height="13" fill="#da536b"/><rect x="551" y="844" width="5" height="13" fill="#96001e"/><rect x="552" y="845" width="3" height="12" fill="#da536b"/><rect x="547" y="812" width="5" height="45" fill="#96001e"/><rect x="548" y="813" width="3" height="44" fill="#da536b"/><rect x="542" y="828" width="6" height="29" fill="#96001e"/><rect x="543" y="829" width="4" height="28" fill="#da536b"/><rect x="538" y="838" width="5" height="19" fill="#96001e"/><rect x="539" y="839" width="3" height="18" fill="#da536b"/><rect x="534" y="840" width="5" height="17" fill="#96001e"/><rect x="535" y="841" width="3" height="16" fill="#da536b"/><rect x="530" y="850" width="5" height="7" fill="#96001e"/><rect x="531" y="851" width="3" height="6" fill="#da536b"/><rect x="526" y="844" width="5" height="13" fill="#96001e"/><rect x="527" y="845" width="3" height="12" fill="#da536b"/><rect x="521" y="844" width="6" height="13" fill="#96001e"/><rect x="522" y="845" width="4" height="12" fill="#da536b"/><rect x="517" y="844" width="5" height="13" fill="#96001e"/><rect x="518" y="845" width="3" height="12" fill="#da536b"/><rect x="513" y="849" width="5" height="8" fill="#96001e"/><rect x="514" y="850" width="3" height="7" fill="#da536b"/><rect x="509" y="845" width="5" height="12" fill="#96001e"/><rect x="510" y="846" width="3" height="11" fill="#da536b"/><rect x="504" y="842" width="6" height="15" fill="#96001e"/><rect x="505" y="843" width="4" height="14" fill="#da536b"/><rect x="500" y="844" width="5" height="13" fill="#96001e"/><rect x="501" y="845" width="3" height="12" fill="#da536b"/><rect x="496" y="842" width="5" height="15" fill="#96001e"/><rect x="497" y="843" width="3" height="14" fill="#da536b"/><rect x="492" y="829" width="5" height="28" fill="#96001e"/><rect x="493" y="830" width="3" height="27" fill="#da536b"/><rect x="488" y="837" width="5" height="20" fill="#96001e"/><rect x="489" y="838" width="3" height="19" fill="#da536b"/><rect x="483" y="835" width="6" height="22" fill="#96001e"/><rect x="484" y="836" width="4" height="21" fill="#da536b"/><rect x="479" y="833" width="5" height="24" fill="#96001e"/><rect x="480" y="834" width="3" height="23" fill="#da536b"/><rect x="475" y="843" width="5" height="14" fill="#96001e"/><rect x="476" y="844" width="3" height="13" fill="#da536b"/><rect x="471" y="840" width="5" height="17" fill="#96001e"/><rect x="472" y="841" width="3" height="16" fill="#da536b"/><rect x="467" y="836" width="5" height="21" fill="#96001e"/><rect x="468" y="837" width="3" height="20" fill="#da536b"/><rect x="462" y="832" width="6" height="25" fill="#96001e"/><rect x="463" y="833" width="4" height="24" fill="#da536b"/><rect x="458" y="847" width="5" height="10" fill="#96001e"/><rect x="459" y="848" width="3" height="9" fill="#da536b"/><rect x="454" y="841" width="5" height="16" fill="#96001e"/><rect x="455" y="842" width="3" height="15" fill="#da536b"/><rect x="450" y="848" width="5" height="9" fill="#96001e"/><rect x="451" y="849" width="3" height="8" fill="#da536b"/><rect x="446" y="847" width="5" height="10" fill="#96001e"/><rect x="447" y="848" width="3" height="9" fill="#da536b"/><rect x="441" y="850" width="6" height="7" fill="#96001e"/><rect x="442" y="851" width="4" height="6" fill="#da536b"/><rect x="437" y="849" width="5" height="8" fill="#96001e"/><rect x="438" y="850" width="3" height="7" fill="#da536b"/><rect x="433" y="846" width="5" height="11" fill="#96001e"/><rect x="434" y="847" width="3" height="10" fill="#da536b"/><rect x="429" y="847" width="5" height="10" fill="#96001e"/><rect x="430" y="848" width="3" height="9" fill="#da536b"/><rect x="424" y="850" width="6" height="7" fill="#96001e"/><rect x="425" y="851" width="4" height="6" fill="#da536b"/><rect x="420" y="850" width="5" height="7" fill="#96001e"/><rect x="421" y="851" width="3" height="6" fill="#da536b"/><rect x="416" y="843" width="5" height="14" fill="#96001e"/><rect x="417" y="844" width="3" height="13" fill="#da536b"/><rect x="412" y="842" width="5" height="15" fill="#96001e"/><rect x="413" y="843" width="3" height="14" fill="#da536b"/><rect x="408" y="847" width="5" height="10" fill="#96001e"/><rect x="409" y="848" width="3" height="9" fill="#da536b"/><rect x="403" y="831" width="6" height="26" fill="#96001e"/><rect x="404" y="832" width="4" height="25" fill="#da536b"/><rect x="399" y="823" width="5" height="34" fill="#96001e"/><rect x="400" y="824" width="3" height="33" fill="#da536b"/><rect x="395" y="828" width="5" height="29" fill="#96001e"/><rect x="396" y="829" width="3" height="28" fill="#da536b"/><rect x="391" y="840" width="5" height="17" fill="#96001e"/><rect x="392" y="841" width="3" height="16" fill="#da536b"/><rect x="387" y="845" width="5" height="12" fill="#96001e"/><rect x="388" y="846" width="3" height="11" fill="#da536b"/><rect x="382" y="839" width="6" height="18" fill="#96001e"/><rect x="383" y="840" width="4" height="17" fill="#da536b"/><rect x="378" y="843" width="5" height="14" fill="#96001e"/><rect x="379" y="844" width="3" height="13" fill="#da536b"/><rect x="374" y="850" width="5" height="7" fill="#96001e"/><rect x="375" y="851" width="3" height="6" fill="#da536b"/><rect x="370" y="837" width="5" height="20" fill="#96001e"/><rect x="371" y="838" width="3" height="19" fill="#da536b"/><rect x="365" y="848" width="6" height="9" fill="#96001e"/><rect x="366" y="849" width="4" height="8" fill="#da536b"/><rect x="361" y="850" width="5" height="7" fill="#96001e"/><rect x="362" y="851" width="3" height="6" fill="#da536b"/><rect x="357" y="849" width="5" height="8" fill="#96001e"/><rect x="358" y="850" width="3" height="7" fill="#da536b"/><rect x="353" y="842" width="5" height="15" fill="#96001e"/><rect x="354" y="843" width="3" height="14" fill="#da536b"/><rect x="349" y="831" width="5" height="26" fill="#96001e"/><rect x="350" y="832" width="3" height="25" fill="#da536b"/><rect x="344" y="820" width="6" height="37" fill="#96001e"/><rect x="345" y="821" width="4" height="36" fill="#da536b"/><rect x="340" y="831" width="5" height="26" fill="#96001e"/><rect x="341" y="832" width="3" height="25" fill="#da536b"/><rect x="336" y="837" width="5" height="20" fill="#96001e"/><rect x="337" y="838" width="3" height="19" fill="#da536b"/><rect x="332" y="834" width="5" height="23" fill="#96001e"/><rect x="333" y="835" width="3" height="22" fill="#da536b"/><rect x="328" y="838" width="5" height="19" fill="#96001e"/><rect x="329" y="839" width="3" height="18" fill="#da536b"/><rect x="323" y="845" width="6" height="12" fill="#96001e"/><rect x="324" y="846" width="4" height="11" fill="#da536b"/><rect x="319" y="846" width="5" height="11" fill="#96001e"/><rect x="320" y="847" width="3" height="10" fill="#da536b"/><rect x="315" y="847" width="5" height="10" fill="#96001e"/><rect x="316" y="848" width="3" height="9" fill="#da536b"/><rect x="311" y="849" width="5" height="8" fill="#96001e"/><rect x="312" y="850" width="3" height="7" fill="#da536b"/><rect x="307" y="841" width="5" height="16" fill="#96001e"/><rect x="308" y="842" width="3" height="15" fill="#da536b"/><rect x="302" y="845" width="6" height="12" fill="#96001e"/><rect x="303" y="846" width="4" height="11" fill="#da536b"/><rect x="298" y="845" width="5" height="12" fill="#96001e"/><rect x="299" y="846" width="3" height="11" fill="#da536b"/><rect x="294" y="850" width="5" height="7" fill="#96001e"/><rect x="295" y="851" width="3" height="6" fill="#da536b"/><rect x="290" y="850" width="5" height="7" fill="#96001e"/><rect x="291" y="851" width="3" height="6" fill="#da536b"/><rect x="285" y="850" width="6" height="7" fill="#96001e"/><rect x="286" y="851" width="4" height="6" fill="#da536b"/><rect x="281" y="850" width="5" height="7" fill="#96001e"/><rect x="282" y="851" width="3" height="6" fill="#da536b"/><rect x="277" y="849" width="5" height="8" fill="#96001e"/><rect x="278" y="850" width="3" height="7" fill="#da536b"/><rect x="273" y="850" width="5" height="7" fill="#96001e"/><rect x="274" y="851" width="3" height="6" fill="#da536b"/><rect x="269" y="850" width="5" height="7" fill="#96001e"/><rect x="270" y="851" width="3" height="6" fill="#da536b"/><rect x="264" y="848" width="6" height="9" fill="#96001e"/><rect x="265" y="849" width="4" height="8" fill="#da536b"/><rect x="260" y="848" width="5" height="9" fill="#96001e"/><rect x="261" y="849" width="3" height="8" fill="#da536b"/><rect x="256" y="837" width="5" height="20" fill="#96001e"/><rect x="257" y="838" width="3" height="19" fill="#da536b"/><rect x="252" y="841" width="5" height="16" fill="#96001e"/><rect x="253" y="842" width="3" height="15" fill="#da536b"/><rect x="248" y="833" width="5" height="24" fill="#96001e"/><rect x="249" y="834" width="3" height="23" fill="#da536b"/><rect x="243" y="841" width="6" height="16" fill="#96001e"/><rect x="244" y="842" width="4" height="15" fill="#da536b"/><rect x="239" y="839" width="5" height="18" fill="#96001e"/><rect x="240" y="840" width="3" height="17" fill="#da536b"/><rect x="235" y="837" width="5" height="20" fill="#96001e"/><rect x="236" y="838" width="3" height="19" fill="#da536b"/><rect x="231" y="846" width="5" height="11" fill="#96001e"/><rect x="232" y="847" width="3" height="10" fill="#da536b"/><rect x="227" y="843" width="5" height="14" fill="#96001e"/><rect x="228" y="844" width="3" height="13" fill="#da536b"/><rect x="222" y="847" width="6" height="10" fill="#96001e"/><rect x="223" y="848" width="4" height="9" fill="#da536b"/><rect x="218" y="842" width="5" height="15" fill="#96001e"/><rect x="219" y="843" width="3" height="14" fill="#da536b"/><rect x="214" y="845" width="5" height="12" fill="#96001e"/><rect x="215" y="846" width="3" height="11" fill="#da536b"/><rect x="210" y="850" width="5" height="7" fill="#96001e"/><rect x="211" y="851" width="3" height="6" fill="#da536b"/><rect x="205" y="848" width="6" height="9" fill="#96001e"/><rect x="206" y="849" width="4" height="8" fill="#da536b"/><rect x="201" y="844" width="5" height="13" fill="#96001e"/><rect x="202" y="845" width="3" height="12" fill="#da536b"/><rect x="197" y="849" width="5" height="8" fill="#96001e"/><rect x="198" y="850" width="3" height="7" fill="#da536b"/><rect x="193" y="850" width="5" height="7" fill="#96001e"/><rect x="194" y="851" width="3" height="6" fill="#da536b"/><rect x="189" y="850" width="5" height="7" fill="#96001e"/><rect x="190" y="851" width="3" height="6" fill="#da536b"/><rect x="184" y="850" width="6" height="7" fill="#96001e"/><rect x="185" y="851" width="4" height="6" fill="#da536b"/><rect x="180" y="849" width="5" height="8" fill="#96001e"/><rect x="181" y="850" width="3" height="7" fill="#da536b"/><rect x="176" y="848" width="5" height="9" fill="#96001e"/><rect x="177" y="849" width="3" height="8" fill="#da536b"/><rect x="172" y="847" width="5" height="10" fill="#96001e"/><rect x="173" y="848" width="3" height="9" fill="#da536b"/><rect x="168" y="849" width="5" height="8" fill="#96001e"/><rect x="169" y="850" width="3" height="7" fill="#da536b"/><rect x="163" y="849" width="6" height="8" fill="#96001e"/><rect x="164" y="850" width="4" height="7" fill="#da536b"/><rect x="159" y="848" width="5" height="9" fill="#96001e"/><rect x="160" y="849" width="3" height="8" fill="#da536b"/><rect x="155" y="850" width="5" height="7" fill="#96001e"/><rect x="156" y="851" width="3" height="6" fill="#da536b"/><rect x="151" y="850" width="5" height="7" fill="#96001e"/><rect x="152" y="851" width="3" height="6" fill="#da536b"/><rect x="147" y="850" width="5" height="7" fill="#96001e"/><rect x="148" y="851" width="3" height="6" fill="#da536b"/><rect x="142" y="850" width="6" height="7" fill="#96001e"/><rect x="143" y="851" width="4" height="6" fill="#da536b"/><rect x="138" y="849" width="5" height="8" fill="#96001e"/><rect x="139" y="850" width="3" height="7" fill="#da536b"/><rect x="134" y="850" width="5" height="7" fill="#96001e"/><rect x="135" y="851" width="3" height="6" fill="#da536b"/><rect x="130" y="849" width="5" height="8" fill="#96001e"/><rect x="131" y="850" width="3" height="7" fill="#da536b"/><rect x="125" y="849" width="6" height="8" fill="#96001e"/><rect x="126" y="850" width="4" height="7" fill="#da536b"/><rect x="121" y="850" width="5" height="7" fill="#96001e"/><rect x="122" y="851" width="3" height="6" fill="#da536b"/><rect x="117" y="849" width="5" height="8" fill="#96001e"/><rect x="118" y="850" width="3" height="7" fill="#da536b"/><rect x="113" y="849" width="5" height="8" fill="#96001e"/><rect x="114" y="850" width="3" height="7" fill="#da536b"/><rect x="109" y="849" width="5" height="8" fill="#96001e"/><rect x="110" y="850" width="3" height="7" fill="#da536b"/><rect x="104" y="850" width="6" height="7" fill="#96001e"/><rect x="105" y="851" width="4" height="6" fill="#da536b"/><rect x="100" y="850" width="5" height="7" fill="#96001e"/><rect x="101" y="851" width="3" height="6" fill="#da536b"/><rect x="96" y="849" width="5" height="8" fill="#96001e"/><rect x="97" y="850" width="3" height="7" fill="#da536b"/><rect x="92" y="849" width="5" height="8" fill="#96001e"/><rect x="93" y="850" width="3" height="7" fill="#da536b"/><rect x="88" y="850" width="5" height="7" fill="#96001e"/><rect x="89" y="851" width="3" height="6" fill="#da536b"/><rect x="83" y="850" width="6" height="7" fill="#96001e"/><rect x="84" y="851" width="4" height="6" fill="#da536b"/><rect x="79" y="850" width="5" height="7" fill="#96001e"/><rect x="80" y="851" width="3" height="6" fill="#da536b"/><rect x="75" y="850" width="5" height="7" fill="#96001e"/><rect x="76" y="851" width="3" height="6" fill="#da536b"/><rect x="71" y="850" width="5" height="7" fill="#96001e"/><rect x="72" y="851" width="3" height="6" fill="#da536b"/><rect x="67" y="850" width="5" height="7" fill="#96001e"/><rect x="68" y="851" width="3" height="6" fill="#da536b"/><rect x="62" y="850" width="6" height="7" fill="#96001e"/><rect x="63" y="851" width="4" height="6" fill="#da536b"/><rect x="58" y="850" width="5" height="7" fill="#96001e"/><rect x="59" y="851" width="3" height="6" fill="#da536b"/><rect x="54" y="850" width="5" height="7" fill="#96001e"/><rect x="55" y="851" width="3" height="6" fill="#da536b"/><rect x="50" y="835" width="5" height="22" fill="#96001e"/><rect x="51" y="836" width="3" height="21" fill="#da536b"/><rect x="45" y="840" width="6" height="17" fill="#96001e"/><rect x="46" y="841" width="4" height="16" fill="#da536b"/><rect x="41" y="847" width="5" height="10" fill="#96001e"/><rect x="42" y="848" width="3" height="9" fill="#da536b"/><rect x="37" y="840" width="5" height="17" fill="#96001e"/><rect x="38" y="841" width="3" height="16" fill="#da536b"/><rect x="33" y="842" width="5" height="15" fill="#96001e"/><rect x="34" y="843" width="3" height="14" fill="#da536b"/><rect x="29" y="844" width="5" height="13" fill="#96001e"/><rect x="30" y="845" width="3" height="12" fill="#da536b"/><rect x="24" y="845" width="6" height="12" fill="#96001e"/><rect x="25" y="846" width="4" height="11" fill="#da536b"/><rect x="20" y="849" width="5" height="8" fill="#96001e"/><rect x="21" y="850" width="3" height="7" fill="#da536b"/><rect x="16" y="847" width="5" height="10" fill="#96001e"/><rect x="17" y="848" width="3" height="9" fill="#da536b"/></g>
<g><rect x="1064" y="367" width="6" height="54" fill="#00008b"/><rect x="1065" y="368" width="4" height="52" fill="#4949a9"/><rect x="1065" y="420" width="4" height="1" fill="#fff"/><rect x="1060" y="367" width="5" height="54" fill="#00008b"/><rect x="1061" y="368" width="3" height="52" fill="#4949a9"/><rect x="1061" y="420" width="3" height="1" fill="#fff"/><rect x="1056" y="382" width="5" height="39" fill="#00008b"/><rect x="1057" y="383" width="3" height="37" fill="#4949a9"/><rect x="1057" y="420" width="3" height="1" fill="#fff"/><rect x="1052" y="385" width="5" height="36" fill="#dc0028"/><rect x="1053" y="386" width="3" height="34" fill="#da536b"/><rect x="1053" y="420" width="3" height="1" fill="#fff"/><rect x="1048" y="351" width="5" height="70" fill="#00008b"/><rect x="1049" y="352" width="3" height="68" fill="#4949a9"/><rect x="1049" y="420" width="3" height="1" fill="#fff"/><rect x="1043" y="403" width="6" height="18" fill="#dc0028"/><rect x="1044" y="404" width="4" height="16" fill="#da536b"/><rect x="1044" y="420" width="4" height="1" fill="#fff"/><rect x="1039" y="369" width="5" height="52" fill="#00008b"/><rect x="1040" y="370" width="3" height="50" fill="#4949a9"/><rect x="1040" y="420" width="3" height="1" fill="#fff"/><rect x="1035" y="394" width="5" height="27" fill="#00008b"/><rect x="1036" y="395" width="3" height="25" fill="#4949a9"/><rect x="1036" y="420" width="3" height="1" fill="#fff"/><rect x="1031" y="407" width="5" height="14" fill="#dc0028"/><rect x="1032" y="408" width="3" height="12" fill="#da536b"/><rect x="1032" y="420" width="3" height="1" fill="#fff"/><rect x="1027" y="398" width="5" height="23" fill="#dc0028"/><rect x="1028" y="399" width="3" height="21" fill="#da536b"/><rect x="1028" y="420" width="3" height="1" fill="#fff"/><rect x="1022" y="396" width="6" height="25" fill="#dc0028"/><rect x="1023" y="397" width="4" height="23" fill="#da536b"/><rect x="1023" y="420" width="4" height="1" fill="#fff"/><rect x="1018" y="351" width="5" height="70" fill="#00008b"/><rect x="1019" y="352" width="3" height="68" fill="#4949a9"/><rect x="1019" y="420" width="3" height="1" fill="#fff"/><rect x="1014" y="385" width="5" height="36" fill="#00008b"/><rect x="1015" y="386" width="3" height="34" fill="#4949a9"/><rect x="1015" y="420" width="3" height="1" fill="#fff"/><rect x="1010" y="420" width="5" height="3" fill="#dc0028"/><rect x="1011" y="420" width="3" height="2" fill="#da536b"/><rect x="1006" y="409" width="5" height="12" fill="#dc0028"/><rect x="1007" y="410" width="3" height="10" fill="#da536b"/><rect x="1007" y="420" width="3" height="1" fill="#fff"/><rect x="1001" y="396" width="6" height="25" fill="#00008b"/><rect x="1002" y="397" width="4" height="23" fill="#4949a9"/><rect x="1002" y="420" width="4" height="1" fill="#fff"/><rect x="997" y="413" width="5" height="8" fill="#dc0028"/><rect x="998" y="414" width="3" height="6" fill="#da536b"/><rect x="998" y="420" width="3" height="1" fill="#fff"/><rect x="993" y="358" width="5" height="63" fill="#00008b"/><rect x="994" y="359" width="3" height="61" fill="#4949a9"/><rect x="994" y="420" width="3" height="1" fill="#fff"/><rect x="989" y="366" width="5" height="55" fill="#00008b"/><rect x="990" y="367" width="3" height="53" fill="#4949a9"/><rect x="990" y="420" width="3" height="1" fill="#fff"/><rect x="984" y="420" width="6" height="24" fill="#dc0028"/><rect x="985" y="420" width="4" height="23" fill="#da536b"/><rect x="980" y="398" width="5" height="23" fill="#dc0028"/><rect x="981" y="399" width="3" height="21" fill="#da536b"/><rect x="981" y="420" width="3" height="1" fill="#fff"/><rect x="976" y="385" width="5" height="36" fill="#dc0028"/><rect x="977" y="386" width="3" height="34" fill="#da536b"/><rect x="977" y="420" width="3" height="1" fill="#fff"/><rect x="972" y="382" width="5" height="39" fill="#dc0028"/><rect x="973" y="383" width="3" height="37" fill="#da536b"/><rect x="973" y="420" width="3" height="1" fill="#fff"/><rect x="968" y="380" width="5" height="41" fill="#dc0028"/><rect x="969" y="381" width="3" height="39" fill="#da536b"/><rect x="969" y="420" width="3" height="1" fill="#fff"/><rect x="963" y="347" width="6" height="74" fill="#00008b"/><rect x="964" y="348" width="4" height="72" fill="#4949a9"/><rect x="964" y="420" width="4" height="1" fill="#fff"/><rect x="959" y="351" width="5" height="70" fill="#dc0028"/><rect x="960" y="352" width="3" height="68" fill="#da536b"/><rect x="960" y="420" width="3" height="1" fill="#fff"/><rect x="955" y="320" width="5" height="101" fill="#00008b"/><rect x="956" y="321" width="3" height="99" fill="#4949a9"/><rect x="956" y="420" width="3" height="1" fill="#fff"/><rect x="951" y="376" width="5" height="45" fill="#00008b"/><rect x="952" y="377" width="3" height="43" fill="#4949a9"/><rect x="952" y="420" width="3" height="1" fill="#fff"/><rect x="947" y="400" width="5" height="21" fill="#dc0028"/><rect x="948" y="401" width="3" height="19" fill="#da536b"/><rect x="948" y="420" width="3" height="1" fill="#fff"/><rect x="942" y="360" width="6" height="61" fill="#00008b"/><rect x="943" y="361" width="4" height="59" fill="#4949a9"/><rect x="943" y="420" width="4" height="1" fill="#fff"/><rect x="938" y="364" width="5" height="57" fill="#00008b"/><rect x="939" y="365" width="3" height="55" fill="#4949a9"/><rect x="939" y="420" width="3" height="1" fill="#fff"/><rect x="934" y="407" width="5" height="14" fill="#dc0028"/><rect x="935" y="408" width="3" height="12" fill="#da536b"/><rect x="935" y="420" width="3" height="1" fill="#fff"/><rect x="930" y="387" width="5" height="34" fill="#00008b"/><rect x="931" y="388" width="3" height="32" fill="#4949a9"/><rect x="931" y="420" width="3" height="1" fill="#fff"/><rect x="926" y="387" width="5" height="34" fill="#00008b"/><rect x="927" y="388" width="3" height="32" fill="#4949a9"/><rect x="927" y="420" width="3" height="1" fill="#fff"/><rect x="921" y="405" width="6" height="16" fill="#dc0028"/><rect x="922" y="406" width="4" height="14" fill="#da536b"/><rect x="922" y="420" width="4" height="1" fill="#fff"/><rect x="917" y="373" width="5" height="48" fill="#00008b"/><rect x="918" y="374" width="3" height="46" fill="#4949a9"/><rect x="918" y="420" width="3" height="1" fill="#fff"/><rect x="913" y="389" width="5" height="32" fill="#dc0028"/><rect x="914" y="390" width="3" height="30" fill="#da536b"/><rect x="914" y="420" width="3" height="1" fill="#fff"/><rect x="909" y="387" width="5" height="34" fill="#dc0028"/><rect x="910" y="388" width="3" height="32" fill="#da536b"/><rect x="910" y="420" width="3" height="1" fill="#fff"/><rect x="904" y="378" width="6" height="43" fill="#dc0028"/><rect x="905" y="379" width="4" height="41" fill="#da536b"/><rect x="905" y="420" width="4" height="1" fill="#fff"/><rect x="900" y="337" width="5" height="84" fill="#00008b"/><rect x="901" y="338" width="3" height="82" fill="#4949a9"/><rect x="901" y="420" width="3" height="1" fill="#fff"/><rect x="896" y="373" width="5" height="48" fill="#dc0028"/><rect x="897" y="374" width="3" height="46" fill="#da536b"/><rect x="897" y="420" width="3" height="1" fill="#fff"/><rect x="892" y="358" width="5" height="63" fill="#dc0028"/><rect x="893" y="359" width="3" height="61" fill="#da536b"/><rect x="893" y="420" width="3" height="1" fill="#fff"/><rect x="888" y="347" width="5" height="74" fill="#00008b"/><rect x="889" y="348" width="3" height="72" fill="#4949a9"/><rect x="889" y="420" width="3" height="1" fill="#fff"/><rect x="883" y="357" width="6" height="64" fill="#00008b"/><rect x="884" y="358" width="4" height="62" fill="#4949a9"/><rect x="884" y="420" width="4" height="1" fill="#fff"/><rect x="879" y="373" width="5" height="48" fill="#00008b"/><rect x="880" y="374" width="3" height="46" fill="#4949a9"/><rect x="880" y="420" width="3" height="1" fill="#fff"/><rect x="875" y="382" width="5" height="39" fill="#00008b"/><rect x="876" y="383" width="3" height="37" fill="#4949a9"/><rect x="876" y="420" width="3" height="1" fill="#fff"/><rect x="871" y="382" width="5" height="39" fill="#00008b"/><rect x="872" y="383" width="3" height="37" fill="#4949a9"/><rect x="872" y="420" width="3" height="1" fill="#fff"/><rect x="867" y="398" width="5" height="23" fill="#00008b"/><rect x="868" y="399" width="3" height="21" fill="#4949a9"/><rect x="868" y="420" width="3" height="1" fill="#fff"/><rect x="862" y="400" width="6" height="21" fill="#00008b"/><rect x="863" y="401" width="4" height="19" fill="#4949a9"/><rect x="863" y="420" width="4" height="1" fill="#fff"/><rect x="858" y="402" width="5" height="19" fill="#00008b"/><rect x="859" y="403" width="3" height="17" fill="#4949a9"/><rect x="859" y="420" width="3" height="1" fill="#fff"/><rect x="854" y="416" width="5" height="5" fill="#dc0028"/><rect x="855" y="417" width="3" height="3" fill="#da536b"/><rect x="855" y="420" width="3" height="1" fill="#fff"/><rect x="850" y="398" width="5" height="23" fill="#00008b"/><rect x="851" y="399" width="3" height="21" fill="#4949a9"/><rect x="851" y="420" width="3" height="1" fill="#fff"/><rect x="846" y="413" width="5" height="8" fill="#dc0028"/><rect x="847" y="414" width="3" height="6" fill="#da536b"/><rect x="847" y="420" width="3" height="1" fill="#fff"/><rect x="841" y="405" width="6" height="16" fill="#dc0028"/><rect x="842" y="406" width="4" height="14" fill="#da536b"/><rect x="842" y="420" width="4" height="1" fill="#fff"/><rect x="837" y="402" width="5" height="19" fill="#dc0028"/><rect x="838" y="403" width="3" height="17" fill="#da536b"/><rect x="838" y="420" width="3" height="1" fill="#fff"/><rect x="833" y="398" width="5" height="23" fill="#dc0028"/><rect x="834" y="399" width="3" height="21" fill="#da536b"/><rect x="834" y="420" width="3" height="1" fill="#fff"/><rect x="829" y="387" width="5" height="34" fill="#dc0028"/><rect x="830" y="388" width="3" height="32" fill="#da536b"/><rect x="830" y="420" width="3" height="1" fill="#fff"/><rect x="824" y="376" width="6" height="45" fill="#00008b"/><rect x="825" y="377" width="4" height="43" fill="#4949a9"/><rect x="825" y="420" width="4" height="1" fill="#fff"/><rect x="820" y="393" width="5" height="28" fill="#dc0028"/><rect x="821" y="394" width="3" height="26" fill="#da536b"/><rect x="821" y="420" width="3" height="1" fill="#fff"/><rect x="816" y="384" width="5" height="37" fill="#dc0028"/><rect x="817" y="385" width="3" height="35" fill="#da536b"/><rect x="817" y="420" width="3" height="1" fill="#fff"/><rect x="812" y="367" width="5" height="54" fill="#00008b"/><rect x="813" y="368" width="3" height="52" fill="#4949a9"/><rect x="813" y="420" width="3" height="1" fill="#fff"/><rect x="808" y="385" width="5" height="36" fill="#00008b"/><rect x="809" y="386" width="3" height="34" fill="#4949a9"/><rect x="809" y="420" width="3" height="1" fill="#fff"/><rect x="803" y="393" width="6" height="28" fill="#00008b"/><rect x="804" y="394" width="4" height="26" fill="#4949a9"/><rect x="804" y="420" width="4" height="1" fill="#fff"/><rect x="799" y="403" width="5" height="18" fill="#dc0028"/><rect x="800" y="404" width="3" height="16" fill="#da536b"/><rect x="800" y="420" width="3" height="1" fill="#fff"/><rect x="795" y="376" width="5" height="45" fill="#00008b"/><rect x="796" y="377" width="3" height="43" fill="#4949a9"/><rect x="796" y="420" width="3" height="1" fill="#fff"/><rect x="791" y="378" width="5" height="43" fill="#00008b"/><rect x="792" y="379" width="3" height="41" fill="#4949a9"/><rect x="792" y="420" width="3" height="1" fill="#fff"/><rect x="787" y="420" width="5" height="4" fill="#00008b"/><rect x="788" y="420" width="3" height="3" fill="#4949a9"/><rect x="782" y="420" width="6" height="8" fill="#dc0028"/><rect x="783" y="420" width="4" height="7" fill="#da536b"/><rect x="778" y="402" width="5" height="19" fill="#dc0028"/><rect x="779" y="403" width="3" height="17" fill="#da536b"/><rect x="779" y="420" width="3" height="1" fill="#fff"/><rect x="774" y="384" width="5" height="37" fill="#dc0028"/><rect x="775" y="385" width="3" height="35" fill="#da536b"/><rect x="775" y="420" width="3" height="1" fill="#fff"/><rect x="770" y="371" width="5" height="50" fill="#dc0028"/><rect x="771" y="372" width="3" height="48" fill="#da536b"/><rect x="771" y="420" width="3" height="1" fill="#fff"/><rect x="766" y="364" width="5" height="57" fill="#00008b"/><rect x="767" y="365" width="3" height="55" fill="#4949a9"/><rect x="767" y="420" width="3" height="1" fill="#fff"/><rect x="761" y="398" width="6" height="23" fill="#00008b"/><rect x="762" y="399" width="4" height="21" fill="#4949a9"/><rect x="762" y="420" width="4" height="1" fill="#fff"/><rect x="757" y="420" width="5" height="10" fill="#dc0028"/><rect x="758" y="420" width="3" height="9" fill="#da536b"/><rect x="753" y="394" width="5" height="27" fill="#00008b"/><rect x="754" y="395" width="3" height="25" fill="#4949a9"/><rect x="754" y="420" width="3" height="1" fill="#fff"/><rect x="749" y="394" width="5" height="27" fill="#00008b"/><rect x="750" y="395" width="3" height="25" fill="#4949a9"/><rect x="750" y="420" width="3" height="1" fill="#fff"/><rect x="744" y="413" width="6" height="8" fill="#dc0028"/><rect x="745" y="414" width="4" height="6" fill="#da536b"/><rect x="745" y="420" width="4" height="1" fill="#fff"/><rect x="740" y="391" width="5" height="30" fill="#00008b"/><rect x="741" y="392" width="3" height="28" fill="#4949a9"/><rect x="741" y="420" width="3" height="1" fill="#fff"/><rect x="736" y="393" width="5" height="28" fill="#00008b"/><rect x="737" y="394" width="3" height="26" fill="#4949a9"/><rect x="737" y="420" width="3" height="1" fill="#fff"/><rect x="732" y="420" width="5" height="3" fill="#dc0028"/><rect x="733" y="420" width="3" height="2" fill="#da536b"/><rect x="728" y="407" width="5" height="14" fill="#dc0028"/><rect x="729" y="408" width="3" height="12" fill="#da536b"/><rect x="729" y="420" width="3" height="1" fill="#fff"/><rect x="723" y="400" width="6" height="21" fill="#00008b"/><rect x="724" y="401" width="4" height="19" fill="#4949a9"/><rect x="724" y="420" width="4" height="1" fill="#fff"/><rect x="719" y="407" width="5" height="14" fill="#00008b"/><rect x="720" y="408" width="3" height="12" fill="#4949a9"/><rect x="720" y="420" width="3" height="1" fill="#fff"/><rect x="715" y="407" width="5" height="14" fill="#00008b"/><rect x="716" y="408" width="3" height="12" fill="#4949a9"/><rect x="716" y="420" width="3" height="1" fill="#fff"/><rect x="711" y="416" width="5" height="5" fill="#00008b"/><rect x="712" y="417" width="3" height="3" fill="#4949a9"/><rect x="712" y="420" width="3" height="1" fill="#fff"/><rect x="707" y="416" width="5" height="5" fill="#00008b"/><rect x="708" y="417" width="3" height="3" fill="#4949a9"/><rect x="708" y="420" width="3" height="1" fill="#fff"/><rect x="702" y="420" width="6" height="3" fill="#dc0028"/><rect x="703" y="420" width="4" height="2" fill="#da536b"/><rect x="698" y="418" width="5" height="3" fill="#00008b"/><rect x="699" y="419" width="3" height="1" fill="#4949a9"/><rect x="699" y="420" width="3" height="1" fill="#fff"/><rect x="690" y="414" width="5" height="7" fill="#00008b"/><rect x="691" y="415" width="3" height="5" fill="#4949a9"/><rect x="691" y="420" width="3" height="1" fill="#fff"/><rect x="686" y="420" width="5" height="13" fill="#00008b"/><rect x="687" y="420" width="3" height="12" fill="#4949a9"/><rect x="677" y="420" width="5" height="8" fill="#00008b"/><rect x="678" y="420" width="3" height="7" fill="#4949a9"/><rect x="669" y="418" width="5" height="3" fill="#00008b"/><rect x="670" y="419" width="3" height="1" fill="#4949a9"/><rect x="670" y="420" width="3" height="1" fill="#fff"/><rect x="664" y="420" width="6" height="8" fill="#00008b"/><rect x="665" y="420" width="4" height="7" fill="#4949a9"/><rect x="660" y="420" width="5" height="15" fill="#00008b"/><rect x="661" y="420" width="3" height="14" fill="#4949a9"/><rect x="656" y="420" width="5" height="171" fill="#00008b"/><rect x="657" y="420" width="3" height="170" fill="#4949a9"/><rect x="652" y="420" width="5" height="180" fill="#00008b"/><rect x="653" y="420" width="3" height="179" fill="#4949a9"/><rect x="648" y="420" width="5" height="264" fill="#dc0028"/><rect x="649" y="420" width="3" height="263" fill="#da536b"/><rect x="643" y="420" width="6" height="227" fill="#dc0028"/><rect x="644" y="420" width="4" height="226" fill="#da536b"/><rect x="639" y="420" width="5" height="91" fill="#dc0028"/><rect x="640" y="420" width="3" height="90" fill="#da536b"/><rect x="635" y="405" width="5" height="16" fill="#00008b"/><rect x="636" y="406" width="3" height="14" fill="#4949a9"/><rect x="636" y="420" width="3" height="1" fill="#fff"/><rect x="631" y="414" width="5" height="7" fill="#00008b"/><rect x="632" y="415" width="3" height="5" fill="#4949a9"/><rect x="632" y="420" width="3" height="1" fill="#fff"/><rect x="627" y="420" width="5" height="19" fill="#dc0028"/><rect x="628" y="420" width="3" height="18" fill="#da536b"/><rect x="622" y="420" width="6" height="12" fill="#dc0028"/><rect x="623" y="420" width="4" height="11" fill="#da536b"/><rect x="618" y="402" width="5" height="19" fill="#dc0028"/><rect x="619" y="403" width="3" height="17" fill="#da536b"/><rect x="619" y="420" width="3" height="1" fill="#fff"/><rect x="614" y="398" width="5" height="23" fill="#00008b"/><rect x="615" y="399" width="3" height="21" fill="#4949a9"/><rect x="615" y="420" width="3" height="1" fill="#fff"/><rect x="610" y="405" width="5" height="16" fill="#00008b"/><rect x="611" y="406" width="3" height="14" fill="#4949a9"/><rect x="611" y="420" width="3" height="1" fill="#fff"/><rect x="606" y="409" width="5" height="12" fill="#00008b"/><rect x="607" y="410" width="3" height="10" fill="#4949a9"/><rect x="607" y="420" width="3" height="1" fill="#fff"/><rect x="601" y="420" width="6" height="6" fill="#dc0028"/><rect x="602" y="420" width="4" height="5" fill="#da536b"/><rect x="597" y="396" width="5" height="25" fill="#00008b"/><rect x="598" y="397" width="3" height="23" fill="#4949a9"/><rect x="598" y="420" width="3" height="1" fill="#fff"/><rect x="593" y="407" width="5" height="14" fill="#00008b"/><rect x="594" y="408" width="3" height="12" fill="#4949a9"/><rect x="594" y="420" width="3" height="1" fill="#fff"/><rect x="584" y="403" width="6" height="18" fill="#00008b"/><rect x="585" y="404" width="4" height="16" fill="#4949a9"/><rect x="585" y="420" width="4" height="1" fill="#fff"/><rect x="580" y="420" width="5" height="4" fill="#00008b"/><rect x="581" y="420" width="3" height="3" fill="#4949a9"/><rect x="576" y="420" width="5" height="55" fill="#dc0028"/><rect x="577" y="420" width="3" height="54" fill="#da536b"/><rect x="572" y="420" width="5" height="26" fill="#dc0028"/><rect x="573" y="420" width="3" height="25" fill="#da536b"/><rect x="568" y="420" width="5" height="21" fill="#dc0028"/><rect x="569" y="420" width="3" height="20" fill="#da536b"/><rect x="563" y="394" width="6" height="27" fill="#00008b"/><rect x="564" y="395" width="4" height="25" fill="#4949a9"/><rect x="564" y="420" width="4" height="1" fill="#fff"/><rect x="555" y="420" width="5" height="13" fill="#dc0028"/><rect x="556" y="420" width="3" height="12" fill="#da536b"/><rect x="551" y="420" width="5" height="8" fill="#dc0028"/><rect x="552" y="420" width="3" height="7" fill="#da536b"/><rect x="547" y="402" width="5" height="19" fill="#dc0028"/><rect x="548" y="403" width="3" height="17" fill="#da536b"/><rect x="548" y="420" width="3" height="1" fill="#fff"/><rect x="542" y="353" width="6" height="68" fill="#00008b"/><rect x="543" y="354" width="4" height="66" fill="#4949a9"/><rect x="543" y="420" width="4" height="1" fill="#fff"/><rect x="538" y="373" width="5" height="48" fill="#00008b"/><rect x="539" y="374" width="3" height="46" fill="#4949a9"/><rect x="539" y="420" width="3" height="1" fill="#fff"/><rect x="534" y="400" width="5" height="21" fill="#dc0028"/><rect x="535" y="401" width="3" height="19" fill="#da536b"/><rect x="535" y="420" width="3" height="1" fill="#fff"/><rect x="530" y="389" width="5" height="32" fill="#dc0028"/><rect x="531" y="390" width="3" height="30" fill="#da536b"/><rect x="531" y="420" width="3" height="1" fill="#fff"/><rect x="526" y="366" width="5" height="55" fill="#00008b"/><rect x="527" y="367" width="3" height="53" fill="#4949a9"/><rect x="527" y="420" width="3" height="1" fill="#fff"/><rect x="521" y="378" width="6" height="43" fill="#00008b"/><rect x="522" y="379" width="4" height="41" fill="#4949a9"/><rect x="522" y="420" width="4" height="1" fill="#fff"/><rect x="517" y="398" width="5" height="23" fill="#00008b"/><rect x="518" y="399" width="3" height="21" fill="#4949a9"/><rect x="518" y="420" width="3" height="1" fill="#fff"/><rect x="513" y="400" width="5" height="21" fill="#dc0028"/><rect x="514" y="401" width="3" height="19" fill="#da536b"/><rect x="514" y="420" width="3" height="1" fill="#fff"/><rect x="509" y="378" width="5" height="43" fill="#00008b"/><rect x="510" y="379" width="3" height="41" fill="#4949a9"/><rect x="510" y="420" width="3" height="1" fill="#fff"/><rect x="504" y="378" width="6" height="43" fill="#dc0028"/><rect x="505" y="379" width="4" height="41" fill="#da536b"/><rect x="505" y="420" width="4" height="1" fill="#fff"/><rect x="500" y="364" width="5" height="57" fill="#00008b"/><rect x="501" y="365" width="3" height="55" fill="#4949a9"/><rect x="501" y="420" width="3" height="1" fill="#fff"/><rect x="496" y="367" width="5" height="54" fill="#00008b"/><rect x="497" y="368" width="3" height="52" fill="#4949a9"/><rect x="497" y="420" width="3" height="1" fill="#fff"/><rect x="492" y="418" width="5" height="3" fill="#dc0028"/><rect x="493" y="419" width="3" height="1" fill="#da536b"/><rect x="493" y="420" width="3" height="1" fill="#fff"/><rect x="488" y="407" width="5" height="14" fill="#00008b"/><rect x="489" y="408" width="3" height="12" fill="#4949a9"/><rect x="489" y="420" width="3" height="1" fill="#fff"/><rect x="483" y="411" width="6" height="10" fill="#dc0028"/><rect x="484" y="412" width="4" height="8" fill="#da536b"/><rect x="484" y="420" width="4" height="1" fill="#fff"/><rect x="479" y="380" width="5" height="41" fill="#dc0028"/><rect x="480" y="381" width="3" height="39" fill="#da536b"/><rect x="480" y="420" width="3" height="1" fill="#fff"/><rect x="475" y="360" width="5" height="61" fill="#00008b"/><rect x="476" y="361" width="3" height="59" fill="#4949a9"/><rect x="476" y="420" width="3" height="1" fill="#fff"/><rect x="471" y="378" width="5" height="43" fill="#00008b"/><rect x="472" y="379" width="3" height="41" fill="#4949a9"/><rect x="472" y="420" width="3" height="1" fill="#fff"/><rect x="467" y="402" width="5" height="19" fill="#00008b"/><rect x="468" y="403" width="3" height="17" fill="#4949a9"/><rect x="468" y="420" width="3" height="1" fill="#fff"/><rect x="462" y="420" width="6" height="12" fill="#dc0028"/><rect x="463" y="420" width="4" height="11" fill="#da536b"/><rect x="458" y="376" width="5" height="45" fill="#dc0028"/><rect x="459" y="377" width="3" height="43" fill="#da536b"/><rect x="459" y="420" width="3" height="1" fill="#fff"/><rect x="454" y="355" width="5" height="66" fill="#00008b"/><rect x="455" y="356" width="3" height="64" fill="#4949a9"/><rect x="455" y="420" width="3" height="1" fill="#fff"/><rect x="450" y="373" width="5" height="48" fill="#dc0028"/><rect x="451" y="374" width="3" height="46" fill="#da536b"/><rect x="451" y="420" width="3" height="1" fill="#fff"/><rect x="446" y="362" width="5" height="59" fill="#00008b"/><rect x="447" y="363" width="3" height="57" fill="#4949a9"/><rect x="447" y="420" width="3" height="1" fill="#fff"/><rect x="441" y="367" width="6" height="54" fill="#00008b"/><rect x="442" y="368" width="4" height="52" fill="#4949a9"/><rect x="442" y="420" width="4" height="1" fill="#fff"/><rect x="437" y="380" width="5" height="41" fill="#dc0028"/><rect x="438" y="381" width="3" height="39" fill="#da536b"/><rect x="438" y="420" width="3" height="1" fill="#fff"/><rect x="433" y="371" width="5" height="50" fill="#dc0028"/><rect x="434" y="372" width="3" height="48" fill="#da536b"/><rect x="434" y="420" width="3" height="1" fill="#fff"/><rect x="429" y="358" width="5" height="63" fill="#dc0028"/><rect x="430" y="359" width="3" height="61" fill="#da536b"/><rect x="430" y="420" width="3" height="1" fill="#fff"/><rect x="424" y="346" width="6" height="75" fill="#00008b"/><rect x="425" y="347" width="4" height="73" fill="#4949a9"/><rect x="425" y="420" width="4" height="1" fill="#fff"/><rect x="420" y="376" width="5" height="45" fill="#00008b"/><rect x="421" y="377" width="3" height="43" fill="#4949a9"/><rect x="421" y="420" width="3" height="1" fill="#fff"/><rect x="416" y="394" width="5" height="27" fill="#00008b"/><rect x="417" y="395" width="3" height="25" fill="#4949a9"/><rect x="417" y="420" width="3" height="1" fill="#fff"/><rect x="412" y="402" width="5" height="19" fill="#00008b"/><rect x="413" y="403" width="3" height="17" fill="#4949a9"/><rect x="413" y="420" width="3" height="1" fill="#fff"/><rect x="408" y="414" width="5" height="7" fill="#00008b"/><rect x="409" y="415" width="3" height="5" fill="#4949a9"/><rect x="409" y="420" width="3" height="1" fill="#fff"/><rect x="403" y="420" width="6" height="30" fill="#00008b"/><rect x="404" y="420" width="4" height="29" fill="#4949a9"/><rect x="399" y="420" width="5" height="40" fill="#dc0028"/><rect x="400" y="420" width="3" height="39" fill="#da536b"/><rect x="395" y="420" width="5" height="37" fill="#dc0028"/><rect x="396" y="420" width="3" height="36" fill="#da536b"/><rect x="391" y="420" width="5" height="4" fill="#dc0028"/><rect x="392" y="420" width="3" height="3" fill="#da536b"/><rect x="387" y="418" width="5" height="3" fill="#00008b"/><rect x="388" y="419" width="3" height="1" fill="#4949a9"/><rect x="388" y="420" width="3" height="1" fill="#fff"/><rect x="382" y="420" width="6" height="17" fill="#dc0028"/><rect x="383" y="420" width="4" height="16" fill="#da536b"/><rect x="378" y="420" width="5" height="13" fill="#00008b"/><rect x="379" y="420" width="3" height="12" fill="#4949a9"/><rect x="370" y="420" width="5" height="26" fill="#00008b"/><rect x="371" y="420" width="3" height="25" fill="#4949a9"/><rect x="361" y="413" width="5" height="8" fill="#00008b"/><rect x="362" y="414" width="3" height="6" fill="#4949a9"/><rect x="362" y="420" width="3" height="1" fill="#fff"/><rect x="357" y="418" width="5" height="3" fill="#00008b"/><rect x="358" y="419" width="3" height="1" fill="#4949a9"/><rect x="358" y="420" width="3" height="1" fill="#fff"/><rect x="353" y="420" width="5" height="13" fill="#00008b"/><rect x="354" y="420" width="3" height="12" fill="#4949a9"/><rect x="349" y="420" width="5" height="30" fill="#00008b"/><rect x="350" y="420" width="3" height="29" fill="#4949a9"/><rect x="344" y="420" width="6" height="54" fill="#dc0028"/><rect x="345" y="420" width="4" height="53" fill="#da536b"/><rect x="340" y="420" width="5" height="30" fill="#dc0028"/><rect x="341" y="420" width="3" height="29" fill="#da536b"/><rect x="336" y="420" width="5" height="10" fill="#dc0028"/><rect x="337" y="420" width="3" height="9" fill="#da536b"/><rect x="332" y="420" width="5" height="4" fill="#00008b"/><rect x="333" y="420" width="3" height="3" fill="#4949a9"/><rect x="328" y="420" width="5" height="12" fill="#dc0028"/><rect x="329" y="420" width="3" height="11" fill="#da536b"/><rect x="323" y="413" width="6" height="8" fill="#dc0028"/><rect x="324" y="414" width="4" height="6" fill="#da536b"/><rect x="324" y="420" width="4" height="1" fill="#fff"/><rect x="319" y="393" width="5" height="28" fill="#00008b"/><rect x="320" y="394" width="3" height="26" fill="#4949a9"/><rect x="320" y="420" width="3" height="1" fill="#fff"/><rect x="315" y="405" width="5" height="16" fill="#dc0028"/><rect x="316" y="406" width="3" height="14" fill="#da536b"/><rect x="316" y="420" width="3" height="1" fill="#fff"/><rect x="311" y="382" width="5" height="39" fill="#dc0028"/><rect x="312" y="383" width="3" height="37" fill="#da536b"/><rect x="312" y="420" width="3" height="1" fill="#fff"/><rect x="307" y="376" width="5" height="45" fill="#dc0028"/><rect x="308" y="377" width="3" height="43" fill="#da536b"/><rect x="308" y="420" width="3" height="1" fill="#fff"/><rect x="302" y="358" width="6" height="63" fill="#00008b"/><rect x="303" y="359" width="4" height="61" fill="#4949a9"/><rect x="303" y="420" width="4" height="1" fill="#fff"/><rect x="298" y="380" width="5" height="41" fill="#00008b"/><rect x="299" y="381" width="3" height="39" fill="#4949a9"/><rect x="299" y="420" width="3" height="1" fill="#fff"/><rect x="294" y="385" width="5" height="36" fill="#00008b"/><rect x="295" y="386" width="3" height="34" fill="#4949a9"/><rect x="295" y="420" width="3" height="1" fill="#fff"/><rect x="290" y="391" width="5" height="30" fill="#dc0028"/><rect x="291" y="392" width="3" height="28" fill="#da536b"/><rect x="291" y="420" width="3" height="1" fill="#fff"/><rect x="285" y="364" width="6" height="57" fill="#dc0028"/><rect x="286" y="365" width="4" height="55" fill="#da536b"/><rect x="286" y="420" width="4" height="1" fill="#fff"/><rect x="281" y="261" width="5" height="160" fill="#00008b"/><rect x="282" y="262" width="3" height="158" fill="#4949a9"/><rect x="282" y="420" width="3" height="1" fill="#fff"/><rect x="277" y="310" width="5" height="111" fill="#dc0028"/><rect x="278" y="311" width="3" height="109" fill="#da536b"/><rect x="278" y="420" width="3" height="1" fill="#fff"/><rect x="273" y="219" width="5" height="202" fill="#00008b"/><rect x="274" y="220" width="3" height="200" fill="#4949a9"/><rect x="274" y="420" width="3" height="1" fill="#fff"/><rect x="269" y="263" width="5" height="158" fill="#00008b"/><rect x="270" y="264" width="3" height="156" fill="#4949a9"/><rect x="270" y="420" width="3" height="1" fill="#fff"/><rect x="264" y="304" width="6" height="117" fill="#00008b"/><rect x="265" y="305" width="4" height="115" fill="#4949a9"/><rect x="265" y="420" width="4" height="1" fill="#fff"/><rect x="260" y="306" width="5" height="115" fill="#00008b"/><rect x="261" y="307" width="3" height="113" fill="#4949a9"/><rect x="261" y="420" width="3" height="1" fill="#fff"/><rect x="256" y="405" width="5" height="16" fill="#dc0028"/><rect x="257" y="406" width="3" height="14" fill="#da536b"/><rect x="257" y="420" width="3" height="1" fill="#fff"/><rect x="252" y="382" width="5" height="39" fill="#00008b"/><rect x="253" y="383" width="3" height="37" fill="#4949a9"/><rect x="253" y="420" width="3" height="1" fill="#fff"/><rect x="248" y="420" width="5" height="6" fill="#dc0028"/><rect x="249" y="420" width="3" height="5" fill="#da536b"/><rect x="243" y="391" width="6" height="30" fill="#dc0028"/><rect x="244" y="392" width="4" height="28" fill="#da536b"/><rect x="244" y="420" width="4" height="1" fill="#fff"/><rect x="239" y="331" width="5" height="90" fill="#00008b"/><rect x="240" y="332" width="3" height="88" fill="#4949a9"/><rect x="240" y="420" width="3" height="1" fill="#fff"/><rect x="235" y="346" width="5" height="75" fill="#dc0028"/><rect x="236" y="347" width="3" height="73" fill="#da536b"/><rect x="236" y="420" width="3" height="1" fill="#fff"/><rect x="231" y="219" width="5" height="202" fill="#00008b"/><rect x="232" y="220" width="3" height="200" fill="#4949a9"/><rect x="232" y="420" width="3" height="1" fill="#fff"/><rect x="227" y="273" width="5" height="148" fill="#00008b"/><rect x="228" y="274" width="3" height="146" fill="#4949a9"/><rect x="228" y="420" width="3" height="1" fill="#fff"/><rect x="222" y="335" width="6" height="86" fill="#dc0028"/><rect x="223" y="336" width="4" height="84" fill="#da536b"/><rect x="223" y="420" width="4" height="1" fill="#fff"/><rect x="218" y="194" width="5" height="227" fill="#00008b"/><rect x="219" y="195" width="3" height="225" fill="#4949a9"/><rect x="219" y="420" width="3" height="1" fill="#fff"/><rect x="214" y="391" width="5" height="30" fill="#00008b"/><rect x="215" y="392" width="3" height="28" fill="#4949a9"/><rect x="215" y="420" width="3" height="1" fill="#fff"/><rect x="210" y="400" width="5" height="21" fill="#00008b"/><rect x="211" y="401" width="3" height="19" fill="#4949a9"/><rect x="211" y="420" width="3" height="1" fill="#fff"/><rect x="205" y="407" width="6" height="14" fill="#dc0028"/><rect x="206" y="408" width="4" height="12" fill="#da536b"/><rect x="206" y="420" width="4" height="1" fill="#fff"/><rect x="201" y="384" width="5" height="37" fill="#dc0028"/><rect x="202" y="385" width="3" height="35" fill="#da536b"/><rect x="202" y="420" width="3" height="1" fill="#fff"/><rect x="197" y="382" width="5" height="39" fill="#00008b"/><rect x="198" y="383" width="3" height="37" fill="#4949a9"/><rect x="198" y="420" width="3" height="1" fill="#fff"/><rect x="193" y="387" width="5" height="34" fill="#00008b"/><rect x="194" y="388" width="3" height="32" fill="#4949a9"/><rect x="194" y="420" width="3" height="1" fill="#fff"/><rect x="189" y="396" width="5" height="25" fill="#dc0028"/><rect x="190" y="397" width="3" height="23" fill="#da536b"/><rect x="190" y="420" width="3" height="1" fill="#fff"/><rect x="184" y="362" width="6" height="59" fill="#dc0028"/><rect x="185" y="363" width="4" height="57" fill="#da536b"/><rect x="185" y="420" width="4" height="1" fill="#fff"/><rect x="180" y="353" width="5" height="68" fill="#00008b"/><rect x="181" y="354" width="3" height="66" fill="#4949a9"/><rect x="181" y="420" width="3" height="1" fill="#fff"/><rect x="176" y="373" width="5" height="48" fill="#00008b"/><rect x="177" y="374" width="3" height="46" fill="#4949a9"/><rect x="177" y="420" width="3" height="1" fill="#fff"/><rect x="172" y="398" width="5" height="23" fill="#dc0028"/><rect x="173" y="399" width="3" height="21" fill="#da536b"/><rect x="173" y="420" width="3" height="1" fill="#fff"/><rect x="168" y="346" width="5" height="75" fill="#dc0028"/><rect x="169" y="347" width="3" height="73" fill="#da536b"/><rect x="169" y="420" width="3" height="1" fill="#fff"/><rect x="163" y="308" width="6" height="113" fill="#dc0028"/><rect x="164" y="309" width="4" height="111" fill="#da536b"/><rect x="164" y="420" width="4" height="1" fill="#fff"/><rect x="159" y="284" width="5" height="137" fill="#00008b"/><rect x="160" y="285" width="3" height="135" fill="#4949a9"/><rect x="160" y="420" width="3" height="1" fill="#fff"/><rect x="155" y="304" width="5" height="117" fill="#dc0028"/><rect x="156" y="305" width="3" height="115" fill="#da536b"/><rect x="156" y="420" width="3" height="1" fill="#fff"/><rect x="151" y="214" width="5" height="207" fill="#00008b"/><rect x="152" y="215" width="3" height="205" fill="#4949a9"/><rect x="152" y="420" width="3" height="1" fill="#fff"/><rect x="147" y="266" width="5" height="155" fill="#00008b"/><rect x="148" y="267" width="3" height="153" fill="#4949a9"/><rect x="148" y="420" width="3" height="1" fill="#fff"/><rect x="142" y="297" width="6" height="124" fill="#00008b"/><rect x="143" y="298" width="4" height="122" fill="#4949a9"/><rect x="143" y="420" width="4" height="1" fill="#fff"/><rect x="138" y="376" width="5" height="45" fill="#dc0028"/><rect x="139" y="377" width="3" height="43" fill="#da536b"/><rect x="139" y="420" width="3" height="1" fill="#fff"/><rect x="134" y="329" width="5" height="92" fill="#00008b"/><rect x="135" y="330" width="3" height="90" fill="#4949a9"/><rect x="135" y="420" width="3" height="1" fill="#fff"/><rect x="130" y="369" width="5" height="52" fill="#dc0028"/><rect x="131" y="370" width="3" height="50" fill="#da536b"/><rect x="131" y="420" width="3" height="1" fill="#fff"/><rect x="125" y="357" width="6" height="64" fill="#00008b"/><rect x="126" y="358" width="4" height="62" fill="#4949a9"/><rect x="126" y="420" width="4" height="1" fill="#fff"/><rect x="121" y="362" width="5" height="59" fill="#00008b"/><rect x="122" y="363" width="3" height="57" fill="#4949a9"/><rect x="122" y="420" width="3" height="1" fill="#fff"/><rect x="117" y="375" width="5" height="46" fill="#dc0028"/><rect x="118" y="376" width="3" height="44" fill="#da536b"/><rect x="118" y="420" width="3" height="1" fill="#fff"/><rect x="113" y="367" width="5" height="54" fill="#dc0028"/><rect x="114" y="368" width="3" height="52" fill="#da536b"/><rect x="114" y="420" width="3" height="1" fill="#fff"/><rect x="109" y="324" width="5" height="97" fill="#00008b"/><rect x="110" y="325" width="3" height="95" fill="#4949a9"/><rect x="110" y="420" width="3" height="1" fill="#fff"/><rect x="104" y="366" width="6" height="55" fill="#dc0028"/><rect x="105" y="367" width="4" height="53" fill="#da536b"/><rect x="105" y="420" width="4" height="1" fill="#fff"/><rect x="100" y="338" width="5" height="83" fill="#00008b"/><rect x="101" y="339" width="3" height="81" fill="#4949a9"/><rect x="101" y="420" width="3" height="1" fill="#fff"/><rect x="96" y="340" width="5" height="81" fill="#00008b"/><rect x="97" y="341" width="3" height="79" fill="#4949a9"/><rect x="97" y="420" width="3" height="1" fill="#fff"/><rect x="92" y="353" width="5" height="68" fill="#dc0028"/><rect x="93" y="354" width="3" height="66" fill="#da536b"/><rect x="93" y="420" width="3" height="1" fill="#fff"/><rect x="88" y="301" width="5" height="120" fill="#00008b"/><rect x="89" y="302" width="3" height="118" fill="#4949a9"/><rect x="89" y="420" width="3" height="1" fill="#fff"/><rect x="83" y="313" width="6" height="108" fill="#00008b"/><rect x="84" y="314" width="4" height="106" fill="#4949a9"/><rect x="84" y="420" width="4" height="1" fill="#fff"/><rect x="79" y="362" width="5" height="59" fill="#dc0028"/><rect x="80" y="363" width="3" height="57" fill="#da536b"/><rect x="80" y="420" width="3" height="1" fill="#fff"/><rect x="75" y="304" width="5" height="117" fill="#00008b"/><rect x="76" y="305" width="3" height="115" fill="#4949a9"/><rect x="76" y="420" width="3" height="1" fill="#fff"/><rect x="71" y="329" width="5" height="92" fill="#dc0028"/><rect x="72" y="330" width="3" height="90" fill="#da536b"/><rect x="72" y="420" width="3" height="1" fill="#fff"/><rect x="67" y="322" width="5" height="99" fill="#dc0028"/><rect x="68" y="323" width="3" height="97" fill="#da536b"/><rect x="68" y="420" width="3" height="1" fill="#fff"/><rect x="62" y="245" width="6" height="176" fill="#00008b"/><rect x="63" y="246" width="4" height="174" fill="#4949a9"/><rect x="63" y="420" width="4" height="1" fill="#fff"/><rect x="58" y="313" width="5" height="108" fill="#00008b"/><rect x="59" y="314" width="3" height="106" fill="#4949a9"/><rect x="59" y="420" width="3" height="1" fill="#fff"/><rect x="54" y="347" width="5" height="74" fill="#00008b"/><rect x="55" y="348" width="3" height="72" fill="#4949a9"/><rect x="55" y="420" width="3" height="1" fill="#fff"/><rect x="50" y="411" width="5" height="10" fill="#dc0028"/><rect x="51" y="412" width="3" height="8" fill="#da536b"/><rect x="51" y="420" width="3" height="1" fill="#fff"/><rect x="45" y="346" width="6" height="75" fill="#00008b"/><rect x="46" y="347" width="4" height="73" fill="#4949a9"/><rect x="46" y="420" width="4" height="1" fill="#fff"/><rect x="41" y="373" width="5" height="48" fill="#00008b"/><rect x="42" y="374" width="3" height="46" fill="#4949a9"/><rect x="42" y="420" width="3" height="1" fill="#fff"/><rect x="37" y="405" width="5" height="16" fill="#dc0028"/><rect x="38" y="406" width="3" height="14" fill="#da536b"/><rect x="38" y="420" width="3" height="1" fill="#fff"/><rect x="33" y="353" width="5" height="68" fill="#dc0028"/><rect x="34" y="354" width="3" height="66" fill="#da536b"/><rect x="34" y="420" width="3" height="1" fill="#fff"/><rect x="29" y="290" width="5" height="131" fill="#dc0028"/><rect x="30" y="291" width="3" height="129" fill="#da536b"/><rect x="30" y="420" width="3" height="1" fill="#fff"/><rect x="24" y="261" width="6" height="160" fill="#00008b"/><rect x="25" y="262" width="4" height="158" fill="#4949a9"/><rect x="25" y="420" width="4" height="1" fill="#fff"/><rect x="20" y="281" width="5" height="140" fill="#00008b"/><rect x="21" y="282" width="3" height="138" fill="#4949a9"/><rect x="21" y="420" width="3" height="1" fill="#fff"/><rect x="16" y="302" width="5" height="119" fill="#dc0028"/><rect x="17" y="303" width="3" height="117" fill="#da536b"/><rect x="17" y="420" width="3" height="1" fill="#fff"/><rect x="248" y="391" width="1" height="30" fill="#dc0028"/><rect x="328" y="413" width="1" height="8" fill="#dc0028"/><rect x="391" y="418" width="1" height="3" fill="#dc0028"/><rect x="462" y="376" width="1" height="45" fill="#dc0028"/><rect x="551" y="402" width="1" height="19" fill="#dc0028"/><rect x="568" y="394" width="1" height="27" fill="#dc0028"/><rect x="601" y="396" width="1" height="25" fill="#dc0028"/><rect x="622" y="402" width="1" height="19" fill="#dc0028"/><rect x="639" y="405" width="1" height="16" fill="#dc0028"/><rect x="702" y="418" width="1" height="3" fill="#dc0028"/><rect x="732" y="407" width="1" height="14" fill="#dc0028"/><rect x="757" y="394" width="1" height="27" fill="#dc0028"/><rect x="782" y="402" width="1" height="19" fill="#dc0028"/><rect x="984" y="398" width="1" height="23" fill="#dc0028"/><rect x="1010" y="409" width="1" height="12" fill="#dc0028"/></g>
<rect x="16" y="28" width="1" height="663" fill="#000033"/>
<rect x="16" y="704" width="1" height="154" fill="#000033"/>
<g text-rendering="geometricPrecision">
<g><rect x="1200" y="174" width="2" height="1" fill="#000033"/><rect x="1200" y="170" width="1" height="1" fill="#000033"/><rect x="1200" y="166" width="1" height="1" fill="#000033"/><rect x="1200" y="162" width="1" height="1" fill="#000033"/><rect x="1200" y="158" width="1" height="1" fill="#000033"/><rect x="1200" y="154" width="2" height="1" fill="#000033"/><rect x="1200" y="150" width="1" height="1" fill="#000033"/><rect x="1200" y="146" width="1" height="1" fill="#000033"/><rect x="1200" y="142" width="1" height="1" fill="#000033"/><rect x="1200" y="138" width="1" height="1" fill="#000033"/><rect x="1200" y="134" width="2" height="1" fill="#000033"/><rect x="1200" y="130" width="1" height="1" fill="#000033"/><rect x="1200" y="126" width="1" height="1" fill="#000033"/><rect x="1200" y="122" width="1" height="1" fill="#000033"/><rect x="1200" y="117" width="1" height="1" fill="#000033"/><rect x="1200" y="113" width="2" height="1" fill="#000033"/><rect x="1200" y="109" width="1" height="1" fill="#000033"/><rect x="1200" y="105" width="1" height="1" fill="#000033"/><rect x="1200" y="101" width="1" height="1" fill="#000033"/><rect x="1200" y="97" width="1" height="1" fill="#000033"/><rect x="1200" y="93" width="2" height="1" fill="#000033"/><rect x="1200" y="89" width="1" height="1" fill="#000033"/><rect x="1200" y="85" width="1" height="1" fill="#000033"/><rect x="1200" y="81" width="1" height="1" fill="#000033"/><rect x="1200" y="77" width="1" height="1" fill="#000033"/><rect x="1200" y="73" width="2" height="1" fill="#000033"/><rect x="1200" y="69" width="1" height="1" fill="#000033"/><rect x="1200" y="65" width="1" height="1" fill="#000033"/><rect x="1200" y="61" width="1" height="1" fill="#000033"/><rect x="1200" y="57" width="1" height="1" fill="#000033"/><rect x="1200" y="53" width="2" height="1" fill="#000033"/><rect x="1200" y="49" width="1" height="1" fill="#000033"/><rect x="1200" y="45" width="1" height="1" fill="#000033"/><rect x="1200" y="41" width="1" height="1" fill="#000033"/><rect x="1200" y="37" width="1" height="1" fill="#000033"/></g>
<text x="1203.0" y="177.0" font-family="'Liberation Sans',Arial,sans-serif" font-size="10" font-weight="normal" fill="#000" text-anchor="start" filter="url(#dk)">0</text>
<text x="1203.0" y="156.8" font-family="'Liberation Sans',Arial,sans-serif" font-size="10" font-weight="normal" fill="#000" text-anchor="start" filter="url(#dk)">20</text>
<text x="1203.0" y="136.7" font-family="'Liberation Sans',Arial,sans-serif" font-size="10" font-weight="normal" fill="#000" text-anchor="start" filter="url(#dk)">40</text>
<text x="1203.0" y="116.5" font-family="'Liberation Sans',Arial,sans-serif" font-size="10" font-weight="normal" fill="#000" text-anchor="start" filter="url(#dk)">60</text>
<text x="1203.0" y="96.4" font-family="'Liberation Sans',Arial,sans-serif" font-size="10" font-weight="normal" fill="#000" text-anchor="start" filter="url(#dk)">80</text>
<text x="1203.8" y="76.2" font-family="'Liberation Sans',Arial,sans-serif" font-size="10" font-weight="normal" fill="#000" text-anchor="start" filter="url(#dk)">100</text>
<text x="1203.8" y="56.1" font-family="'Liberation Sans',Arial,sans-serif" font-size="10" font-weight="normal" fill="#000" text-anchor="start" filter="url(#dk)">120</text>
<rect x="1200" y="32" width="2" height="1" fill="#000033"/>
<text x="1203.8" y="35.2" font-family="'Liberation Sans',Arial,sans-serif" font-size="10" font-weight="normal" fill="#000" text-anchor="start" filter="url(#dk)">140</text>
<g><rect x="1200" y="688" width="1" height="1" fill="#000033"/><rect x="1200" y="684" width="1" height="1" fill="#000033"/><rect x="1200" y="680" width="1" height="1" fill="#000033"/><rect x="1200" y="677" width="1" height="1" fill="#000033"/><rect x="1200" y="673" width="2" height="1" fill="#000033"/><rect x="1200" y="670" width="1" height="1" fill="#000033"/><rect x="1200" y="666" width="1" height="1" fill="#000033"/><rect x="1200" y="662" width="1" height="1" fill="#000033"/><rect x="1200" y="659" width="1" height="1" fill="#000033"/><rect x="1200" y="655" width="2" height="1" fill="#000033"/><rect x="1200" y="652" width="1" height="1" fill="#000033"/><rect x="1200" y="648" width="1" height="1" fill="#000033"/><rect x="1200" y="644" width="1" height="1" fill="#000033"/><rect x="1200" y="641" width="1" height="1" fill="#000033"/><rect x="1200" y="637" width="2" height="1" fill="#000033"/><rect x="1200" y="633" width="1" height="1" fill="#000033"/><rect x="1200" y="630" width="1" height="1" fill="#000033"/><rect x="1200" y="626" width="1" height="1" fill="#000033"/><rect x="1200" y="623" width="1" height="1" fill="#000033"/><rect x="1200" y="619" width="2" height="1" fill="#000033"/><rect x="1200" y="615" width="1" height="1" fill="#000033"/><rect x="1200" y="612" width="1" height="1" fill="#000033"/><rect x="1200" y="608" width="1" height="1" fill="#000033"/><rect x="1200" y="605" width="1" height="1" fill="#000033"/><rect x="1200" y="601" width="2" height="1" fill="#000033"/><rect x="1200" y="597" width="1" height="1" fill="#000033"/><rect x="1200" y="594" width="1" height="1" fill="#000033"/><rect x="1200" y="590" width="1" height="1" fill="#000033"/><rect x="1200" y="586" width="1" height="1" fill="#000033"/><rect x="1200" y="583" width="2" height="1" fill="#000033"/><rect x="1200" y="579" width="1" height="1" fill="#000033"/><rect x="1200" y="576" width="1" height="1" fill="#000033"/><rect x="1200" y="572" width="1" height="1" fill="#000033"/><rect x="1200" y="568" width="1" height="1" fill="#000033"/><rect x="1200" y="565" width="2" height="1" fill="#000033"/><rect x="1200" y="561" width="1" height="1" fill="#000033"/><rect x="1200" y="558" width="1" height="1" fill="#000033"/><rect x="1200" y="554" width="1" height="1" fill="#000033"/><rect x="1200" y="550" width="1" height="1" fill="#000033"/><rect x="1200" y="547" width="2" height="1" fill="#000033"/><rect x="1200" y="543" width="1" height="1" fill="#000033"/><rect x="1200" y="539" width="1" height="1" fill="#000033"/><rect x="1200" y="536" width="1" height="1" fill="#000033"/><rect x="1200" y="532" width="1" height="1" fill="#000033"/><rect x="1200" y="529" width="2" height="1" fill="#000033"/><rect x="1200" y="525" width="1" height="1" fill="#000033"/><rect x="1200" y="521" width="1" height="1" fill="#000033"/><rect x="1200" y="518" width="1" height="1" fill="#000033"/><rect x="1200" y="514" width="1" height="1" fill="#000033"/><rect x="1200" y="511" width="2" height="1" fill="#000033"/><rect x="1200" y="507" width="1" height="1" fill="#000033"/><rect x="1200" y="503" width="1" height="1" fill="#000033"/><rect x="1200" y="500" width="1" height="1" fill="#000033"/><rect x="1200" y="496" width="1" height="1" fill="#000033"/><rect x="1200" y="492" width="2" height="1" fill="#000033"/><rect x="1200" y="489" width="1" height="1" fill="#000033"/><rect x="1200" y="485" width="1" height="1" fill="#000033"/><rect x="1200" y="482" width="1" height="1" fill="#000033"/><rect x="1200" y="478" width="1" height="1" fill="#000033"/><rect x="1200" y="474" width="2" height="1" fill="#000033"/><rect x="1200" y="471" width="1" height="1" fill="#000033"/><rect x="1200" y="467" width="1" height="1" fill="#000033"/><rect x="1200" y="463" width="1" height="1" fill="#000033"/><rect x="1200" y="460" width="1" height="1" fill="#000033"/><rect x="1200" y="456" width="2" height="1" fill="#000033"/><rect x="1200" y="453" width="1" height="1" fill="#000033"/><rect x="1200" y="449" width="1" height="1" fill="#000033"/><rect x="1200" y="445" width="1" height="1" fill="#000033"/><rect x="1200" y="442" width="1" height="1" fill="#000033"/><rect x="1200" y="438" width="2" height="1" fill="#000033"/><rect x="1200" y="435" width="1" height="1" fill="#000033"/><rect x="1200" y="431" width="1" height="1" fill="#000033"/><rect x="1200" y="427" width="1" height="1" fill="#000033"/><rect x="1200" y="424" width="1" height="1" fill="#000033"/><rect x="1200" y="420" width="2" height="1" fill="#000033"/><rect x="1200" y="416" width="1" height="1" fill="#000033"/><rect x="1200" y="413" width="1" height="1" fill="#000033"/><rect x="1200" y="409" width="1" height="1" fill="#000033"/><rect x="1200" y="406" width="1" height="1" fill="#000033"/><rect x="1200" y="402" width="2" height="1" fill="#000033"/><rect x="1200" y="398" width="1" height="1" fill="#000033"/><rect x="1200" y="395" width="1" height="1" fill="#000033"/><rect x="1200" y="391" width="1" height="1" fill="#000033"/><rect x="1200" y="388" width="1" height="1" fill="#000033"/><rect x="1200" y="384" width="2" height="1" fill="#000033"/><rect x="1200" y="380" width="1" height="1" fill="#000033"/><rect x="1200" y="377" width="1" height="1" fill="#000033"/><rect x="1200" y="373" width="1" height="1" fill="#000033"/><rect x="1200" y="369" width="1" height="1" fill="#000033"/><rect x="1200" y="366" width="2" height="1" fill="#000033"/><rect x="1200" y="362" width="1" height="1" fill="#000033"/><rect x="1200" y="359" width="1" height="1" fill="#000033"/><rect x="1200" y="355" width="1" height="1" fill="#000033"/><rect x="1200" y="351" width="1" height="1" fill="#000033"/><rect x="1200" y="348" width="2" height="1" fill="#000033"/><rect x="1200" y="344" width="1" height="1" fill="#000033"/><rect x="1200" y="341" width="1" height="1" fill="#000033"/><rect x="1200" y="337" width="1" height="1" fill="#000033"/><rect x="1200" y="333" width="1" height="1" fill="#000033"/><rect x="1200" y="330" width="2" height="1" fill="#000033"/><rect x="1200" y="326" width="1" height="1" fill="#000033"/><rect x="1200" y="322" width="1" height="1" fill="#000033"/><rect x="1200" y="319" width="1" height="1" fill="#000033"/><rect x="1200" y="315" width="1" height="1" fill="#000033"/><rect x="1200" y="312" width="2" height="1" fill="#000033"/><rect x="1200" y="308" width="1" height="1" fill="#000033"/><rect x="1200" y="304" width="1" height="1" fill="#000033"/><rect x="1200" y="301" width="1" height="1" fill="#000033"/><rect x="1200" y="297" width="1" height="1" fill="#000033"/><rect x="1200" y="294" width="2" height="1" fill="#000033"/><rect x="1200" y="290" width="1" height="1" fill="#000033"/><rect x="1200" y="286" width="1" height="1" fill="#000033"/><rect x="1200" y="283" width="1" height="1" fill="#000033"/><rect x="1200" y="279" width="1" height="1" fill="#000033"/><rect x="1200" y="275" width="2" height="1" fill="#000033"/><rect x="1200" y="272" width="1" height="1" fill="#000033"/><rect x="1200" y="268" width="1" height="1" fill="#000033"/><rect x="1200" y="265" width="1" height="1" fill="#000033"/><rect x="1200" y="261" width="1" height="1" fill="#000033"/><rect x="1200" y="257" width="2" height="1" fill="#000033"/><rect x="1200" y="254" width="1" height="1" fill="#000033"/><rect x="1200" y="250" width="1" height="1" fill="#000033"/><rect x="1200" y="247" width="1" height="1" fill="#000033"/><rect x="1200" y="243" width="1" height="1" fill="#000033"/><rect x="1200" y="239" width="2" height="1" fill="#000033"/><rect x="1200" y="236" width="1" height="1" fill="#000033"/><rect x="1200" y="232" width="1" height="1" fill="#000033"/><rect x="1200" y="228" width="1" height="1" fill="#000033"/><rect x="1200" y="225" width="1" height="1" fill="#000033"/><rect x="1200" y="221" width="2" height="1" fill="#000033"/><rect x="1200" y="218" width="1" height="1" fill="#000033"/><rect x="1200" y="214" width="1" height="1" fill="#000033"/><rect x="1200" y="210" width="1" height="1" fill="#000033"/><rect x="1200" y="207" width="1" height="1" fill="#000033"/><rect x="1200" y="203" width="2" height="1" fill="#000033"/><rect x="1200" y="200" width="1" height="1" fill="#000033"/><rect x="1200" y="196" width="1" height="1" fill="#000033"/><rect x="1200" y="192" width="1" height="1" fill="#000033"/><rect x="1200" y="189" width="1" height="1" fill="#000033"/><rect x="1200" y="185" width="2" height="1" fill="#000033"/></g>
<text x="1203.0" y="676.3" font-family="'Liberation Sans',Arial,sans-serif" font-size="10" font-weight="normal" fill="#000" text-anchor="start" filter="url(#dk)">-140</text>
<text x="1203.0" y="658.2" font-family="'Liberation Sans',Arial,sans-serif" font-size="10" font-weight="normal" fill="#000" text-anchor="start" filter="url(#dk)">-130</text>
<text x="1203.0" y="640.2" font-family="'Liberation Sans',Arial,sans-serif" font-size="10" font-weight="normal" fill="#000" text-anchor="start" filter="url(#dk)">-120</text>
<text x="1203.0" y="622.1" font-family="'Liberation Sans',Arial,sans-serif" font-size="10" font-weight="normal" fill="#000" text-anchor="start" filter="url(#dk)">-110</text>
<text x="1203.0" y="604.0" font-family="'Liberation Sans',Arial,sans-serif" font-size="10" font-weight="normal" fill="#000" text-anchor="start" filter="url(#dk)">-100</text>
<text x="1203.0" y="585.9" font-family="'Liberation Sans',Arial,sans-serif" font-size="10" font-weight="normal" fill="#000" text-anchor="start" filter="url(#dk)">-90</text>
<text x="1203.0" y="567.8" font-family="'Liberation Sans',Arial,sans-serif" font-size="10" font-weight="normal" fill="#000" text-anchor="start" filter="url(#dk)">-80</text>
<text x="1203.0" y="549.8" font-family="'Liberation Sans',Arial,sans-serif" font-size="10" font-weight="normal" fill="#000" text-anchor="start" filter="url(#dk)">-70</text>
<text x="1203.0" y="531.7" font-family="'Liberation Sans',Arial,sans-serif" font-size="10" font-weight="normal" fill="#000" text-anchor="start" filter="url(#dk)">-60</text>
<text x="1203.0" y="513.6" font-family="'Liberation Sans',Arial,sans-serif" font-size="10" font-weight="normal" fill="#000" text-anchor="start" filter="url(#dk)">-50</text>
<text x="1203.0" y="495.5" font-family="'Liberation Sans',Arial,sans-serif" font-size="10" font-weight="normal" fill="#000" text-anchor="start" filter="url(#dk)">-40</text>
<text x="1203.0" y="477.4" font-family="'Liberation Sans',Arial,sans-serif" font-size="10" font-weight="normal" fill="#000" text-anchor="start" filter="url(#dk)">-30</text>
<text x="1203.0" y="459.4" font-family="'Liberation Sans',Arial,sans-serif" font-size="10" font-weight="normal" fill="#000" text-anchor="start" filter="url(#dk)">-20</text>
<text x="1203.0" y="441.3" font-family="'Liberation Sans',Arial,sans-serif" font-size="10" font-weight="normal" fill="#000" text-anchor="start" filter="url(#dk)">-10</text>
<text x="1203.0" y="423.2" font-family="'Liberation Sans',Arial,sans-serif" font-size="10" font-weight="normal" fill="#000" text-anchor="start" filter="url(#dk)">0</text>
<text x="1203.8" y="405.1" font-family="'Liberation Sans',Arial,sans-serif" font-size="10" font-weight="normal" fill="#000" text-anchor="start" filter="url(#dk)">10</text>
<text x="1203.0" y="387.0" font-family="'Liberation Sans',Arial,sans-serif" font-size="10" font-weight="normal" fill="#000" text-anchor="start" filter="url(#dk)">20</text>
<text x="1203.0" y="369.0" font-family="'Liberation Sans',Arial,sans-serif" font-size="10" font-weight="normal" fill="#000" text-anchor="start" filter="url(#dk)">30</text>
<text x="1203.0" y="350.9" font-family="'Liberation Sans',Arial,sans-serif" font-size="10" font-weight="normal" fill="#000" text-anchor="start" filter="url(#dk)">40</text>
<text x="1203.0" y="332.8" font-family="'Liberation Sans',Arial,sans-serif" font-size="10" font-weight="normal" fill="#000" text-anchor="start" filter="url(#dk)">50</text>
<text x="1203.0" y="314.7" font-family="'Liberation Sans',Arial,sans-serif" font-size="10" font-weight="normal" fill="#000" text-anchor="start" filter="url(#dk)">60</text>
<text x="1203.0" y="296.6" font-family="'Liberation Sans',Arial,sans-serif" font-size="10" font-weight="normal" fill="#000" text-anchor="start" filter="url(#dk)">70</text>
<text x="1203.0" y="278.6" font-family="'Liberation Sans',Arial,sans-serif" font-size="10" font-weight="normal" fill="#000" text-anchor="start" filter="url(#dk)">80</text>
<text x="1203.0" y="260.5" font-family="'Liberation Sans',Arial,sans-serif" font-size="10" font-weight="normal" fill="#000" text-anchor="start" filter="url(#dk)">90</text>
<text x="1203.8" y="242.4" font-family="'Liberation Sans',Arial,sans-serif" font-size="10" font-weight="normal" fill="#000" text-anchor="start" filter="url(#dk)">100</text>
<text x="1203.8" y="224.3" font-family="'Liberation Sans',Arial,sans-serif" font-size="10" font-weight="normal" fill="#000" text-anchor="start" filter="url(#dk)">110</text>
<text x="1203.8" y="206.2" font-family="'Liberation Sans',Arial,sans-serif" font-size="10" font-weight="normal" fill="#000" text-anchor="start" filter="url(#dk)">120</text>
<text x="1203.8" y="188.2" font-family="'Liberation Sans',Arial,sans-serif" font-size="10" font-weight="normal" fill="#000" text-anchor="start" filter="url(#dk)">130</text>
<g><rect x="1200" y="850" width="2" height="1" fill="#000033"/><rect x="1200" y="831" width="2" height="1" fill="#000033"/><rect x="1200" y="812" width="2" height="1" fill="#000033"/><rect x="1200" y="793" width="2" height="1" fill="#000033"/><rect x="1200" y="774" width="2" height="1" fill="#000033"/><rect x="1200" y="755" width="2" height="1" fill="#000033"/><rect x="1200" y="736" width="2" height="1" fill="#000033"/><rect x="1200" y="717" width="2" height="1" fill="#000033"/></g>
<text x="1203.0" y="852.6" font-family="'Liberation Sans',Arial,sans-serif" font-size="10" font-weight="normal" fill="#000" text-anchor="start" filter="url(#dk)">0</text>
<text x="1203.0" y="833.6" font-family="'Liberation Sans',Arial,sans-serif" font-size="10" font-weight="normal" fill="#000" text-anchor="start" filter="url(#dk)">20</text>
<text x="1203.0" y="814.7" font-family="'Liberation Sans',Arial,sans-serif" font-size="10" font-weight="normal" fill="#000" text-anchor="start" filter="url(#dk)">40</text>
<text x="1203.0" y="795.7" font-family="'Liberation Sans',Arial,sans-serif" font-size="10" font-weight="normal" fill="#000" text-anchor="start" filter="url(#dk)">60</text>
<text x="1203.0" y="776.8" font-family="'Liberation Sans',Arial,sans-serif" font-size="10" font-weight="normal" fill="#000" text-anchor="start" filter="url(#dk)">80</text>
<text x="1203.8" y="757.8" font-family="'Liberation Sans',Arial,sans-serif" font-size="10" font-weight="normal" fill="#000" text-anchor="start" filter="url(#dk)">100</text>
<text x="1203.8" y="738.8" font-family="'Liberation Sans',Arial,sans-serif" font-size="10" font-weight="normal" fill="#000" text-anchor="start" filter="url(#dk)">120</text>
<text x="1203.8" y="719.9" font-family="'Liberation Sans',Arial,sans-serif" font-size="10" font-weight="normal" fill="#000" text-anchor="start" filter="url(#dk)">140</text>
<g><rect x="18" y="691" width="1" height="1" fill="#000033"/><rect x="18" y="703" width="1" height="1" fill="#000033"/><rect x="22" y="691" width="1" height="1" fill="#000033"/><rect x="22" y="703" width="1" height="1" fill="#000033"/><rect x="26" y="691" width="1" height="2" fill="#000033"/><rect x="26" y="702" width="1" height="2" fill="#000033"/><rect x="31" y="691" width="1" height="1" fill="#000033"/><rect x="31" y="703" width="1" height="1" fill="#000033"/><rect x="35" y="691" width="1" height="1" fill="#000033"/><rect x="35" y="703" width="1" height="1" fill="#000033"/><rect x="39" y="691" width="1" height="1" fill="#000033"/><rect x="39" y="703" width="1" height="1" fill="#000033"/><rect x="43" y="691" width="1" height="2" fill="#000033"/><rect x="43" y="702" width="1" height="2" fill="#000033"/><rect x="47" y="691" width="1" height="1" fill="#000033"/><rect x="47" y="703" width="1" height="1" fill="#000033"/><rect x="52" y="691" width="1" height="1" fill="#000033"/><rect x="52" y="703" width="1" height="1" fill="#000033"/><rect x="56" y="691" width="1" height="1" fill="#000033"/><rect x="56" y="703" width="1" height="1" fill="#000033"/><rect x="60" y="691" width="1" height="1" fill="#000033"/><rect x="60" y="703" width="1" height="1" fill="#000033"/><rect x="64" y="691" width="1" height="2" fill="#000033"/><rect x="64" y="702" width="1" height="2" fill="#000033"/><rect x="69" y="691" width="1" height="1" fill="#000033"/><rect x="69" y="703" width="1" height="1" fill="#000033"/><rect x="73" y="691" width="1" height="1" fill="#000033"/><rect x="73" y="703" width="1" height="1" fill="#000033"/><rect x="77" y="691" width="1" height="1" fill="#000033"/><rect x="77" y="703" width="1" height="1" fill="#000033"/><rect x="81" y="691" width="1" height="1" fill="#000033"/><rect x="81" y="703" width="1" height="1" fill="#000033"/><rect x="85" y="691" width="1" height="2" fill="#000033"/><rect x="85" y="702" width="1" height="2" fill="#000033"/><rect x="90" y="691" width="1" height="1" fill="#000033"/><rect x="90" y="703" width="1" height="1" fill="#000033"/><rect x="94" y="691" width="1" height="1" fill="#000033"/><rect x="94" y="703" width="1" height="1" fill="#000033"/><rect x="98" y="691" width="1" height="1" fill="#000033"/><rect x="98" y="703" width="1" height="1" fill="#000033"/><rect x="102" y="691" width="1" height="1" fill="#000033"/><rect x="102" y="703" width="1" height="1" fill="#000033"/><rect x="106" y="691" width="1" height="1" fill="#000033"/><rect x="106" y="703" width="1" height="1" fill="#000033"/><rect x="111" y="691" width="1" height="2" fill="#000033"/><rect x="111" y="702" width="1" height="2" fill="#000033"/><rect x="115" y="691" width="1" height="1" fill="#000033"/><rect x="115" y="703" width="1" height="1" fill="#000033"/><rect x="119" y="691" width="1" height="1" fill="#000033"/><rect x="119" y="703" width="1" height="1" fill="#000033"/><rect x="123" y="691" width="1" height="1" fill="#000033"/><rect x="123" y="703" width="1" height="1" fill="#000033"/><rect x="127" y="691" width="1" height="2" fill="#000033"/><rect x="127" y="702" width="1" height="2" fill="#000033"/><rect x="132" y="691" width="1" height="1" fill="#000033"/><rect x="132" y="703" width="1" height="1" fill="#000033"/><rect x="136" y="691" width="1" height="1" fill="#000033"/><rect x="136" y="703" width="1" height="1" fill="#000033"/><rect x="140" y="691" width="1" height="1" fill="#000033"/><rect x="140" y="703" width="1" height="1" fill="#000033"/><rect x="144" y="691" width="1" height="1" fill="#000033"/><rect x="144" y="703" width="1" height="1" fill="#000033"/><rect x="149" y="691" width="1" height="2" fill="#000033"/><rect x="149" y="702" width="1" height="2" fill="#000033"/><rect x="153" y="691" width="1" height="1" fill="#000033"/><rect x="153" y="703" width="1" height="1" fill="#000033"/><rect x="157" y="691" width="1" height="1" fill="#000033"/><rect x="157" y="703" width="1" height="1" fill="#000033"/><rect x="161" y="691" width="1" height="1" fill="#000033"/><rect x="161" y="703" width="1" height="1" fill="#000033"/><rect x="165" y="691" width="1" height="1" fill="#000033"/><rect x="165" y="703" width="1" height="1" fill="#000033"/><rect x="170" y="691" width="1" height="2" fill="#000033"/><rect x="170" y="702" width="1" height="2" fill="#000033"/><rect x="174" y="691" width="1" height="1" fill="#000033"/><rect x="174" y="703" width="1" height="1" fill="#000033"/><rect x="178" y="691" width="1" height="1" fill="#000033"/><rect x="178" y="703" width="1" height="1" fill="#000033"/><rect x="182" y="691" width="1" height="1" fill="#000033"/><rect x="182" y="703" width="1" height="1" fill="#000033"/><rect x="186" y="691" width="1" height="1" fill="#000033"/><rect x="186" y="703" width="1" height="1" fill="#000033"/><rect x="191" y="691" width="1" height="2" fill="#000033"/><rect x="191" y="702" width="1" height="2" fill="#000033"/><rect x="195" y="691" width="1" height="1" fill="#000033"/><rect x="195" y="703" width="1" height="1" fill="#000033"/><rect x="199" y="691" width="1" height="1" fill="#000033"/><rect x="199" y="703" width="1" height="1" fill="#000033"/><rect x="203" y="691" width="1" height="1" fill="#000033"/><rect x="203" y="703" width="1" height="1" fill="#000033"/><rect x="207" y="691" width="1" height="2" fill="#000033"/><rect x="207" y="702" width="1" height="2" fill="#000033"/><rect x="212" y="691" width="1" height="1" fill="#000033"/><rect x="212" y="703" width="1" height="1" fill="#000033"/><rect x="216" y="691" width="1" height="1" fill="#000033"/><rect x="216" y="703" width="1" height="1" fill="#000033"/><rect x="220" y="691" width="1" height="1" fill="#000033"/><rect x="220" y="703" width="1" height="1" fill="#000033"/><rect x="224" y="691" width="1" height="1" fill="#000033"/><rect x="224" y="703" width="1" height="1" fill="#000033"/><rect x="229" y="691" width="1" height="1" fill="#000033"/><rect x="229" y="703" width="1" height="1" fill="#000033"/><rect x="233" y="691" width="1" height="2" fill="#000033"/><rect x="233" y="702" width="1" height="2" fill="#000033"/><rect x="237" y="691" width="1" height="1" fill="#000033"/><rect x="237" y="703" width="1" height="1" fill="#000033"/><rect x="241" y="691" width="1" height="1" fill="#000033"/><rect x="241" y="703" width="1" height="1" fill="#000033"/><rect x="245" y="691" width="1" height="1" fill="#000033"/><rect x="245" y="703" width="1" height="1" fill="#000033"/><rect x="250" y="691" width="1" height="1" fill="#000033"/><rect x="250" y="703" width="1" height="1" fill="#000033"/><rect x="254" y="691" width="1" height="2" fill="#000033"/><rect x="254" y="702" width="1" height="2" fill="#000033"/><rect x="258" y="691" width="1" height="1" fill="#000033"/><rect x="258" y="703" width="1" height="1" fill="#000033"/><rect x="262" y="691" width="1" height="1" fill="#000033"/><rect x="262" y="703" width="1" height="1" fill="#000033"/><rect x="266" y="691" width="1" height="1" fill="#000033"/><rect x="266" y="703" width="1" height="1" fill="#000033"/><rect x="271" y="691" width="1" height="1" fill="#000033"/><rect x="271" y="703" width="1" height="1" fill="#000033"/><rect x="275" y="691" width="1" height="2" fill="#000033"/><rect x="275" y="702" width="1" height="2" fill="#000033"/><rect x="279" y="691" width="1" height="1" fill="#000033"/><rect x="279" y="703" width="1" height="1" fill="#000033"/><rect x="283" y="691" width="1" height="1" fill="#000033"/><rect x="283" y="703" width="1" height="1" fill="#000033"/><rect x="287" y="691" width="1" height="1" fill="#000033"/><rect x="287" y="703" width="1" height="1" fill="#000033"/><rect x="292" y="691" width="1" height="2" fill="#000033"/><rect x="292" y="702" width="1" height="2" fill="#000033"/><rect x="296" y="691" width="1" height="1" fill="#000033"/><rect x="296" y="703" width="1" height="1" fill="#000033"/><rect x="300" y="691" width="1" height="1" fill="#000033"/><rect x="300" y="703" width="1" height="1" fill="#000033"/><rect x="304" y="691" width="1" height="1" fill="#000033"/><rect x="304" y="703" width="1" height="1" fill="#000033"/><rect x="309" y="691" width="1" height="1" fill="#000033"/><rect x="309" y="703" width="1" height="1" fill="#000033"/><rect x="313" y="691" width="1" height="2" fill="#000033"/><rect x="313" y="702" width="1" height="2" fill="#000033"/><rect x="317" y="691" width="1" height="1" fill="#000033"/><rect x="317" y="703" width="1" height="1" fill="#000033"/><rect x="321" y="691" width="1" height="1" fill="#000033"/><rect x="321" y="703" width="1" height="1" fill="#000033"/><rect x="325" y="691" width="1" height="1" fill="#000033"/><rect x="325" y="703" width="1" height="1" fill="#000033"/><rect x="330" y="691" width="1" height="1" fill="#000033"/><rect x="330" y="703" width="1" height="1" fill="#000033"/><rect x="334" y="691" width="1" height="2" fill="#000033"/><rect x="334" y="702" width="1" height="2" fill="#000033"/><rect x="338" y="691" width="1" height="1" fill="#000033"/><rect x="338" y="703" width="1" height="1" fill="#000033"/><rect x="342" y="691" width="1" height="1" fill="#000033"/><rect x="342" y="703" width="1" height="1" fill="#000033"/><rect x="346" y="691" width="1" height="1" fill="#000033"/><rect x="346" y="703" width="1" height="1" fill="#000033"/><rect x="351" y="691" width="1" height="1" fill="#000033"/><rect x="351" y="703" width="1" height="1" fill="#000033"/><rect x="355" y="691" width="1" height="2" fill="#000033"/><rect x="355" y="702" width="1" height="2" fill="#000033"/><rect x="359" y="691" width="1" height="1" fill="#000033"/><rect x="359" y="703" width="1" height="1" fill="#000033"/><rect x="363" y="691" width="1" height="1" fill="#000033"/><rect x="363" y="703" width="1" height="1" fill="#000033"/><rect x="367" y="691" width="1" height="1" fill="#000033"/><rect x="367" y="703" width="1" height="1" fill="#000033"/><rect x="372" y="691" width="1" height="1" fill="#000033"/><rect x="372" y="703" width="1" height="1" fill="#000033"/><rect x="376" y="691" width="1" height="1" fill="#000033"/><rect x="376" y="703" width="1" height="1" fill="#000033"/><rect x="380" y="691" width="1" height="2" fill="#000033"/><rect x="380" y="702" width="1" height="2" fill="#000033"/><rect x="384" y="691" width="1" height="1" fill="#000033"/><rect x="384" y="703" width="1" height="1" fill="#000033"/><rect x="389" y="691" width="1" height="1" fill="#000033"/><rect x="389" y="703" width="1" height="1" fill="#000033"/><rect x="393" y="691" width="1" height="1" fill="#000033"/><rect x="393" y="703" width="1" height="1" fill="#000033"/><rect x="397" y="691" width="1" height="1" fill="#000033"/><rect x="397" y="703" width="1" height="1" fill="#000033"/><rect x="401" y="691" width="1" height="1" fill="#000033"/><rect x="401" y="703" width="1" height="1" fill="#000033"/><rect x="405" y="691" width="1" height="2" fill="#000033"/><rect x="405" y="702" width="1" height="2" fill="#000033"/><rect x="410" y="691" width="1" height="1" fill="#000033"/><rect x="410" y="703" width="1" height="1" fill="#000033"/><rect x="414" y="691" width="1" height="1" fill="#000033"/><rect x="414" y="703" width="1" height="1" fill="#000033"/><rect x="418" y="691" width="1" height="1" fill="#000033"/><rect x="418" y="703" width="1" height="1" fill="#000033"/><rect x="422" y="691" width="1" height="1" fill="#000033"/><rect x="422" y="703" width="1" height="1" fill="#000033"/><rect x="426" y="691" width="1" height="2" fill="#000033"/><rect x="426" y="702" width="1" height="2" fill="#000033"/><rect x="431" y="691" width="1" height="1" fill="#000033"/><rect x="431" y="703" width="1" height="1" fill="#000033"/><rect x="435" y="691" width="1" height="1" fill="#000033"/><rect x="435" y="703" width="1" height="1" fill="#000033"/><rect x="439" y="691" width="1" height="1" fill="#000033"/><rect x="439" y="703" width="1" height="1" fill="#000033"/><rect x="443" y="691" width="1" height="2" fill="#000033"/><rect x="443" y="702" width="1" height="2" fill="#000033"/><rect x="448" y="691" width="1" height="1" fill="#000033"/><rect x="448" y="703" width="1" height="1" fill="#000033"/><rect x="452" y="691" width="1" height="1" fill="#000033"/><rect x="452" y="703" width="1" height="1" fill="#000033"/><rect x="456" y="691" width="1" height="1" fill="#000033"/><rect x="456" y="703" width="1" height="1" fill="#000033"/><rect x="460" y="691" width="1" height="1" fill="#000033"/><rect x="460" y="703" width="1" height="1" fill="#000033"/><rect x="464" y="691" width="1" height="2" fill="#000033"/><rect x="464" y="702" width="1" height="2" fill="#000033"/><rect x="469" y="691" width="1" height="1" fill="#000033"/><rect x="469" y="703" width="1" height="1" fill="#000033"/><rect x="473" y="691" width="1" height="1" fill="#000033"/><rect x="473" y="703" width="1" height="1" fill="#000033"/><rect x="477" y="691" width="1" height="1" fill="#000033"/><rect x="477" y="703" width="1" height="1" fill="#000033"/><rect x="481" y="691" width="1" height="1" fill="#000033"/><rect x="481" y="703" width="1" height="1" fill="#000033"/><rect x="485" y="691" width="1" height="2" fill="#000033"/><rect x="485" y="702" width="1" height="2" fill="#000033"/><rect x="490" y="691" width="1" height="1" fill="#000033"/><rect x="490" y="703" width="1" height="1" fill="#000033"/><rect x="494" y="691" width="1" height="1" fill="#000033"/><rect x="494" y="703" width="1" height="1" fill="#000033"/><rect x="498" y="691" width="1" height="1" fill="#000033"/><rect x="498" y="703" width="1" height="1" fill="#000033"/><rect x="502" y="691" width="1" height="1" fill="#000033"/><rect x="502" y="703" width="1" height="1" fill="#000033"/><rect x="506" y="691" width="1" height="2" fill="#000033"/><rect x="506" y="702" width="1" height="2" fill="#000033"/><rect x="511" y="691" width="1" height="1" fill="#000033"/><rect x="511" y="703" width="1" height="1" fill="#000033"/><rect x="515" y="691" width="1" height="1" fill="#000033"/><rect x="515" y="703" width="1" height="1" fill="#000033"/><rect x="519" y="691" width="1" height="1" fill="#000033"/><rect x="519" y="703" width="1" height="1" fill="#000033"/><rect x="523" y="691" width="1" height="2" fill="#000033"/><rect x="523" y="702" width="1" height="2" fill="#000033"/><rect x="528" y="691" width="1" height="1" fill="#000033"/><rect x="528" y="703" width="1" height="1" fill="#000033"/><rect x="532" y="691" width="1" height="1" fill="#000033"/><rect x="532" y="703" width="1" height="1" fill="#000033"/><rect x="536" y="691" width="1" height="1" fill="#000033"/><rect x="536" y="703" width="1" height="1" fill="#000033"/><rect x="540" y="691" width="1" height="1" fill="#000033"/><rect x="540" y="703" width="1" height="1" fill="#000033"/><rect x="544" y="691" width="1" height="2" fill="#000033"/><rect x="544" y="702" width="1" height="2" fill="#000033"/><rect x="549" y="691" width="1" height="1" fill="#000033"/><rect x="549" y="703" width="1" height="1" fill="#000033"/><rect x="553" y="691" width="1" height="1" fill="#000033"/><rect x="553" y="703" width="1" height="1" fill="#000033"/><rect x="557" y="691" width="1" height="1" fill="#000033"/><rect x="557" y="703" width="1" height="1" fill="#000033"/><rect x="561" y="691" width="1" height="1" fill="#000033"/><rect x="561" y="703" width="1" height="1" fill="#000033"/><rect x="565" y="691" width="1" height="2" fill="#000033"/><rect x="565" y="702" width="1" height="2" fill="#000033"/><rect x="570" y="691" width="1" height="1" fill="#000033"/><rect x="570" y="703" width="1" height="1" fill="#000033"/><rect x="574" y="691" width="1" height="1" fill="#000033"/><rect x="574" y="703" width="1" height="1" fill="#000033"/><rect x="578" y="691" width="1" height="1" fill="#000033"/><rect x="578" y="703" width="1" height="1" fill="#000033"/><rect x="582" y="691" width="1" height="1" fill="#000033"/><rect x="582" y="703" width="1" height="1" fill="#000033"/><rect x="586" y="691" width="1" height="2" fill="#000033"/><rect x="586" y="702" width="1" height="2" fill="#000033"/><rect x="591" y="691" width="1" height="1" fill="#000033"/><rect x="591" y="703" width="1" height="1" fill="#000033"/><rect x="595" y="691" width="1" height="1" fill="#000033"/><rect x="595" y="703" width="1" height="1" fill="#000033"/><rect x="599" y="691" width="1" height="1" fill="#000033"/><rect x="599" y="703" width="1" height="1" fill="#000033"/><rect x="603" y="691" width="1" height="1" fill="#000033"/><rect x="603" y="703" width="1" height="1" fill="#000033"/><rect x="608" y="691" width="1" height="2" fill="#000033"/><rect x="608" y="702" width="1" height="2" fill="#000033"/><rect x="612" y="691" width="1" height="1" fill="#000033"/><rect x="612" y="703" width="1" height="1" fill="#000033"/><rect x="616" y="691" width="1" height="1" fill="#000033"/><rect x="616" y="703" width="1" height="1" fill="#000033"/><rect x="620" y="691" width="1" height="1" fill="#000033"/><rect x="620" y="703" width="1" height="1" fill="#000033"/><rect x="624" y="691" width="1" height="1" fill="#000033"/><rect x="624" y="703" width="1" height="1" fill="#000033"/><rect x="629" y="691" width="1" height="1" fill="#000033"/><rect x="629" y="703" width="1" height="1" fill="#000033"/><rect x="633" y="691" width="1" height="2" fill="#000033"/><rect x="633" y="702" width="1" height="2" fill="#000033"/><rect x="637" y="691" width="1" height="1" fill="#000033"/><rect x="637" y="703" width="1" height="1" fill="#000033"/><rect x="641" y="691" width="1" height="1" fill="#000033"/><rect x="641" y="703" width="1" height="1" fill="#000033"/><rect x="645" y="691" width="1" height="1" fill="#000033"/><rect x="645" y="703" width="1" height="1" fill="#000033"/><rect x="650" y="691" width="1" height="2" fill="#000033"/><rect x="650" y="702" width="1" height="2" fill="#000033"/><rect x="654" y="691" width="1" height="1" fill="#000033"/><rect x="654" y="703" width="1" height="1" fill="#000033"/><rect x="658" y="691" width="1" height="1" fill="#000033"/><rect x="658" y="703" width="1" height="1" fill="#000033"/><rect x="662" y="691" width="1" height="1" fill="#000033"/><rect x="662" y="703" width="1" height="1" fill="#000033"/><rect x="666" y="691" width="1" height="1" fill="#000033"/><rect x="666" y="703" width="1" height="1" fill="#000033"/><rect x="671" y="691" width="1" height="2" fill="#000033"/><rect x="671" y="702" width="1" height="2" fill="#000033"/><rect x="675" y="691" width="1" height="1" fill="#000033"/><rect x="675" y="703" width="1" height="1" fill="#000033"/><rect x="679" y="691" width="1" height="1" fill="#000033"/><rect x="679" y="703" width="1" height="1" fill="#000033"/><rect x="683" y="691" width="1" height="1" fill="#000033"/><rect x="683" y="703" width="1" height="1" fill="#000033"/><rect x="688" y="691" width="1" height="2" fill="#000033"/><rect x="688" y="702" width="1" height="2" fill="#000033"/><rect x="692" y="691" width="1" height="1" fill="#000033"/><rect x="692" y="703" width="1" height="1" fill="#000033"/><rect x="696" y="691" width="1" height="1" fill="#000033"/><rect x="696" y="703" width="1" height="1" fill="#000033"/><rect x="700" y="691" width="1" height="1" fill="#000033"/><rect x="700" y="703" width="1" height="1" fill="#000033"/><rect x="704" y="691" width="1" height="1" fill="#000033"/><rect x="704" y="703" width="1" height="1" fill="#000033"/><rect x="709" y="691" width="1" height="1" fill="#000033"/><rect x="709" y="703" width="1" height="1" fill="#000033"/><rect x="713" y="691" width="1" height="1" fill="#000033"/><rect x="713" y="703" width="1" height="1" fill="#000033"/><rect x="717" y="691" width="1" height="1" fill="#000033"/><rect x="717" y="703" width="1" height="1" fill="#000033"/><rect x="721" y="691" width="1" height="2" fill="#000033"/><rect x="721" y="702" width="1" height="2" fill="#000033"/><rect x="725" y="691" width="1" height="1" fill="#000033"/><rect x="725" y="703" width="1" height="1" fill="#000033"/><rect x="730" y="691" width="1" height="1" fill="#000033"/><rect x="730" y="703" width="1" height="1" fill="#000033"/><rect x="734" y="691" width="1" height="1" fill="#000033"/><rect x="734" y="703" width="1" height="1" fill="#000033"/><rect x="738" y="691" width="1" height="1" fill="#000033"/><rect x="738" y="703" width="1" height="1" fill="#000033"/><rect x="742" y="691" width="1" height="1" fill="#000033"/><rect x="742" y="703" width="1" height="1" fill="#000033"/><rect x="746" y="691" width="1" height="1" fill="#000033"/><rect x="746" y="703" width="1" height="1" fill="#000033"/><rect x="751" y="691" width="1" height="2" fill="#000033"/><rect x="751" y="702" width="1" height="2" fill="#000033"/><rect x="755" y="691" width="1" height="1" fill="#000033"/><rect x="755" y="703" width="1" height="1" fill="#000033"/><rect x="759" y="691" width="1" height="1" fill="#000033"/><rect x="759" y="703" width="1" height="1" fill="#000033"/><rect x="763" y="691" width="1" height="1" fill="#000033"/><rect x="763" y="703" width="1" height="1" fill="#000033"/><rect x="768" y="691" width="1" height="1" fill="#000033"/><rect x="768" y="703" width="1" height="1" fill="#000033"/><rect x="772" y="691" width="1" height="2" fill="#000033"/><rect x="772" y="702" width="1" height="2" fill="#000033"/><rect x="776" y="691" width="1" height="1" fill="#000033"/><rect x="776" y="703" width="1" height="1" fill="#000033"/><rect x="780" y="691" width="1" height="1" fill="#000033"/><rect x="780" y="703" width="1" height="1" fill="#000033"/><rect x="784" y="691" width="1" height="1" fill="#000033"/><rect x="784" y="703" width="1" height="1" fill="#000033"/><rect x="789" y="691" width="1" height="1" fill="#000033"/><rect x="789" y="703" width="1" height="1" fill="#000033"/><rect x="793" y="691" width="1" height="2" fill="#000033"/><rect x="793" y="702" width="1" height="2" fill="#000033"/><rect x="797" y="691" width="1" height="1" fill="#000033"/><rect x="797" y="703" width="1" height="1" fill="#000033"/><rect x="801" y="691" width="1" height="1" fill="#000033"/><rect x="801" y="703" width="1" height="1" fill="#000033"/><rect x="805" y="691" width="1" height="1" fill="#000033"/><rect x="805" y="703" width="1" height="1" fill="#000033"/><rect x="810" y="691" width="1" height="2" fill="#000033"/><rect x="810" y="702" width="1" height="2" fill="#000033"/><rect x="814" y="691" width="1" height="1" fill="#000033"/><rect x="814" y="703" width="1" height="1" fill="#000033"/><rect x="818" y="691" width="1" height="1" fill="#000033"/><rect x="818" y="703" width="1" height="1" fill="#000033"/><rect x="822" y="691" width="1" height="1" fill="#000033"/><rect x="822" y="703" width="1" height="1" fill="#000033"/><rect x="826" y="691" width="1" height="1" fill="#000033"/><rect x="826" y="703" width="1" height="1" fill="#000033"/><rect x="831" y="691" width="1" height="2" fill="#000033"/><rect x="831" y="702" width="1" height="2" fill="#000033"/><rect x="835" y="691" width="1" height="1" fill="#000033"/><rect x="835" y="703" width="1" height="1" fill="#000033"/><rect x="839" y="691" width="1" height="1" fill="#000033"/><rect x="839" y="703" width="1" height="1" fill="#000033"/><rect x="843" y="691" width="1" height="1" fill="#000033"/><rect x="843" y="703" width="1" height="1" fill="#000033"/><rect x="848" y="691" width="1" height="1" fill="#000033"/><rect x="848" y="703" width="1" height="1" fill="#000033"/><rect x="852" y="691" width="1" height="2" fill="#000033"/><rect x="852" y="702" width="1" height="2" fill="#000033"/><rect x="856" y="691" width="1" height="1" fill="#000033"/><rect x="856" y="703" width="1" height="1" fill="#000033"/><rect x="860" y="691" width="1" height="1" fill="#000033"/><rect x="860" y="703" width="1" height="1" fill="#000033"/><rect x="864" y="691" width="1" height="1" fill="#000033"/><rect x="864" y="703" width="1" height="1" fill="#000033"/><rect x="869" y="691" width="1" height="2" fill="#000033"/><rect x="869" y="702" width="1" height="2" fill="#000033"/><rect x="873" y="691" width="1" height="1" fill="#000033"/><rect x="873" y="703" width="1" height="1" fill="#000033"/><rect x="877" y="691" width="1" height="1" fill="#000033"/><rect x="877" y="703" width="1" height="1" fill="#000033"/><rect x="881" y="691" width="1" height="1" fill="#000033"/><rect x="881" y="703" width="1" height="1" fill="#000033"/><rect x="885" y="691" width="1" height="1" fill="#000033"/><rect x="885" y="703" width="1" height="1" fill="#000033"/><rect x="890" y="691" width="1" height="1" fill="#000033"/><rect x="890" y="703" width="1" height="1" fill="#000033"/><rect x="894" y="691" width="1" height="2" fill="#000033"/><rect x="894" y="702" width="1" height="2" fill="#000033"/><rect x="898" y="691" width="1" height="1" fill="#000033"/><rect x="898" y="703" width="1" height="1" fill="#000033"/><rect x="902" y="691" width="1" height="1" fill="#000033"/><rect x="902" y="703" width="1" height="1" fill="#000033"/><rect x="906" y="691" width="1" height="2" fill="#000033"/><rect x="906" y="702" width="1" height="2" fill="#000033"/><rect x="911" y="691" width="1" height="1" fill="#000033"/><rect x="911" y="703" width="1" height="1" fill="#000033"/><rect x="915" y="691" width="1" height="1" fill="#000033"/><rect x="915" y="703" width="1" height="1" fill="#000033"/><rect x="919" y="691" width="1" height="1" fill="#000033"/><rect x="919" y="703" width="1" height="1" fill="#000033"/><rect x="923" y="691" width="1" height="1" fill="#000033"/><rect x="923" y="703" width="1" height="1" fill="#000033"/><rect x="928" y="691" width="1" height="2" fill="#000033"/><rect x="928" y="702" width="1" height="2" fill="#000033"/><rect x="932" y="691" width="1" height="1" fill="#000033"/><rect x="932" y="703" width="1" height="1" fill="#000033"/><rect x="936" y="691" width="1" height="1" fill="#000033"/><rect x="936" y="703" width="1" height="1" fill="#000033"/><rect x="940" y="691" width="1" height="1" fill="#000033"/><rect x="940" y="703" width="1" height="1" fill="#000033"/><rect x="944" y="691" width="1" height="1" fill="#000033"/><rect x="944" y="703" width="1" height="1" fill="#000033"/><rect x="949" y="691" width="1" height="2" fill="#000033"/><rect x="949" y="702" width="1" height="2" fill="#000033"/><rect x="953" y="691" width="1" height="1" fill="#000033"/><rect x="953" y="703" width="1" height="1" fill="#000033"/><rect x="957" y="691" width="1" height="1" fill="#000033"/><rect x="957" y="703" width="1" height="1" fill="#000033"/><rect x="961" y="691" width="1" height="1" fill="#000033"/><rect x="961" y="703" width="1" height="1" fill="#000033"/><rect x="965" y="691" width="1" height="1" fill="#000033"/><rect x="965" y="703" width="1" height="1" fill="#000033"/><rect x="970" y="691" width="1" height="2" fill="#000033"/><rect x="970" y="702" width="1" height="2" fill="#000033"/><rect x="974" y="691" width="1" height="1" fill="#000033"/><rect x="974" y="703" width="1" height="1" fill="#000033"/><rect x="978" y="691" width="1" height="1" fill="#000033"/><rect x="978" y="703" width="1" height="1" fill="#000033"/><rect x="982" y="691" width="1" height="1" fill="#000033"/><rect x="982" y="703" width="1" height="1" fill="#000033"/><rect x="986" y="691" width="1" height="2" fill="#000033"/><rect x="986" y="702" width="1" height="2" fill="#000033"/><rect x="991" y="691" width="1" height="1" fill="#000033"/><rect x="991" y="703" width="1" height="1" fill="#000033"/><rect x="995" y="691" width="1" height="1" fill="#000033"/><rect x="995" y="703" width="1" height="1" fill="#000033"/><rect x="999" y="691" width="1" height="1" fill="#000033"/><rect x="999" y="703" width="1" height="1" fill="#000033"/><rect x="1003" y="691" width="1" height="1" fill="#000033"/><rect x="1003" y="703" width="1" height="1" fill="#000033"/><rect x="1008" y="691" width="1" height="1" fill="#000033"/><rect x="1008" y="703" width="1" height="1" fill="#000033"/><rect x="1012" y="691" width="1" height="2" fill="#000033"/><rect x="1012" y="702" width="1" height="2" fill="#000033"/><rect x="1016" y="691" width="1" height="1" fill="#000033"/><rect x="1016" y="703" width="1" height="1" fill="#000033"/><rect x="1020" y="691" width="1" height="1" fill="#000033"/><rect x="1020" y="703" width="1" height="1" fill="#000033"/><rect x="1024" y="691" width="1" height="1" fill="#000033"/><rect x="1024" y="703" width="1" height="1" fill="#000033"/><rect x="1029" y="691" width="1" height="1" fill="#000033"/><rect x="1029" y="703" width="1" height="1" fill="#000033"/><rect x="1033" y="691" width="1" height="2" fill="#000033"/><rect x="1033" y="702" width="1" height="2" fill="#000033"/><rect x="1037" y="691" width="1" height="1" fill="#000033"/><rect x="1037" y="703" width="1" height="1" fill="#000033"/><rect x="1041" y="691" width="1" height="1" fill="#000033"/><rect x="1041" y="703" width="1" height="1" fill="#000033"/><rect x="1045" y="691" width="1" height="1" fill="#000033"/><rect x="1045" y="703" width="1" height="1" fill="#000033"/><rect x="1050" y="691" width="1" height="1" fill="#000033"/><rect x="1050" y="703" width="1" height="1" fill="#000033"/><rect x="1054" y="691" width="1" height="2" fill="#000033"/><rect x="1054" y="702" width="1" height="2" fill="#000033"/><rect x="1058" y="691" width="1" height="1" fill="#000033"/><rect x="1058" y="703" width="1" height="1" fill="#000033"/><rect x="1062" y="691" width="1" height="1" fill="#000033"/><rect x="1062" y="703" width="1" height="1" fill="#000033"/><rect x="1066" y="691" width="1" height="1" fill="#000033"/><rect x="1066" y="703" width="1" height="1" fill="#000033"/><rect x="1071" y="691" width="1" height="1" fill="#000033"/><rect x="1071" y="703" width="1" height="1" fill="#000033"/><rect x="1075" y="691" width="1" height="2" fill="#000033"/><rect x="1075" y="702" width="1" height="2" fill="#000033"/><rect x="1079" y="691" width="1" height="1" fill="#000033"/><rect x="1079" y="703" width="1" height="1" fill="#000033"/><rect x="1083" y="691" width="1" height="1" fill="#000033"/><rect x="1083" y="703" width="1" height="1" fill="#000033"/><rect x="1088" y="691" width="1" height="1" fill="#000033"/><rect x="1088" y="703" width="1" height="1" fill="#000033"/><rect x="1092" y="691" width="1" height="2" fill="#000033"/><rect x="1092" y="702" width="1" height="2" fill="#000033"/><rect x="1096" y="691" width="1" height="1" fill="#000033"/><rect x="1096" y="703" width="1" height="1" fill="#000033"/><rect x="1100" y="691" width="1" height="1" fill="#000033"/><rect x="1100" y="703" width="1" height="1" fill="#000033"/><rect x="1104" y="691" width="1" height="1" fill="#000033"/><rect x="1104" y="703" width="1" height="1" fill="#000033"/><rect x="1109" y="691" width="1" height="1" fill="#000033"/><rect x="1109" y="703" width="1" height="1" fill="#000033"/><rect x="1113" y="691" width="1" height="2" fill="#000033"/><rect x="1113" y="702" width="1" height="2" fill="#000033"/><rect x="1117" y="691" width="1" height="1" fill="#000033"/><rect x="1117" y="703" width="1" height="1" fill="#000033"/><rect x="1121" y="691" width="1" height="1" fill="#000033"/><rect x="1121" y="703" width="1" height="1" fill="#000033"/><rect x="1125" y="691" width="1" height="1" fill="#000033"/><rect x="1125" y="703" width="1" height="1" fill="#000033"/><rect x="1130" y="691" width="1" height="1" fill="#000033"/><rect x="1130" y="703" width="1" height="1" fill="#000033"/><rect x="1134" y="691" width="1" height="2" fill="#000033"/><rect x="1134" y="702" width="1" height="2" fill="#000033"/><rect x="1138" y="691" width="1" height="1" fill="#000033"/><rect x="1138" y="703" width="1" height="1" fill="#000033"/><rect x="1142" y="691" width="1" height="1" fill="#000033"/><rect x="1142" y="703" width="1" height="1" fill="#000033"/><rect x="1146" y="691" width="1" height="1" fill="#000033"/><rect x="1146" y="703" width="1" height="1" fill="#000033"/><rect x="1151" y="691" width="1" height="1" fill="#000033"/><rect x="1151" y="703" width="1" height="1" fill="#000033"/><rect x="1155" y="691" width="1" height="1" fill="#000033"/><rect x="1155" y="703" width="1" height="1" fill="#000033"/><rect x="1159" y="691" width="1" height="1" fill="#000033"/><rect x="1159" y="703" width="1" height="1" fill="#000033"/><rect x="1163" y="691" width="1" height="2" fill="#000033"/><rect x="1163" y="702" width="1" height="2" fill="#000033"/><rect x="1168" y="691" width="1" height="1" fill="#000033"/><rect x="1168" y="703" width="1" height="1" fill="#000033"/><rect x="1172" y="691" width="1" height="1" fill="#000033"/><rect x="1172" y="703" width="1" height="1" fill="#000033"/><rect x="1176" y="691" width="1" height="2" fill="#000033"/><rect x="1176" y="702" width="1" height="2" fill="#000033"/><rect x="1180" y="691" width="1" height="1" fill="#000033"/><rect x="1180" y="703" width="1" height="1" fill="#000033"/><rect x="1184" y="691" width="1" height="1" fill="#000033"/><rect x="1184" y="703" width="1" height="1" fill="#000033"/><rect x="1189" y="691" width="1" height="1" fill="#000033"/><rect x="1189" y="703" width="1" height="1" fill="#000033"/><rect x="1193" y="691" width="1" height="1" fill="#000033"/><rect x="1193" y="703" width="1" height="1" fill="#000033"/></g>
<text x="16.4" y="700.9" font-family="'DejaVu Sans',Verdana,sans-serif" font-size="10.3" font-weight="bold" fill="#000" text-anchor="start" textLength="20.1" lengthAdjust="spacingAndGlyphs">Sep</text>
<text x="43.5" y="701" font-family="'Liberation Sans',Arial,sans-serif" font-size="10" font-weight="normal" fill="#000" text-anchor="middle" filter="url(#dk)">9</text>
<text x="64.5" y="701" font-family="'Liberation Sans',Arial,sans-serif" font-size="10" font-weight="normal" fill="#000" text-anchor="middle" filter="url(#dk)">16</text>
<text x="85.5" y="701" font-family="'Liberation Sans',Arial,sans-serif" font-size="10" font-weight="normal" fill="#000" text-anchor="middle" filter="url(#dk)">23</text>
<text x="102.5" y="700.9" font-family="'DejaVu Sans',Verdana,sans-serif" font-size="10.3" font-weight="bold" fill="#000" text-anchor="start" textLength="18.0" lengthAdjust="spacingAndGlyphs">Oct</text>
<text x="127.5" y="701" font-family="'Liberation Sans',Arial,sans-serif" font-size="10" font-weight="normal" fill="#000" text-anchor="middle" filter="url(#dk)">7</text>
<text x="149.5" y="701" font-family="'Liberation Sans',Arial,sans-serif" font-size="10" font-weight="normal" fill="#000" text-anchor="middle" filter="url(#dk)">14</text>
<text x="170.5" y="701" font-family="'Liberation Sans',Arial,sans-serif" font-size="10" font-weight="normal" fill="#000" text-anchor="middle" filter="url(#dk)">21</text>
<text x="191.5" y="701" font-family="'Liberation Sans',Arial,sans-serif" font-size="10" font-weight="normal" fill="#000" text-anchor="middle" filter="url(#dk)">28</text>
<text x="197.3" y="700.9" font-family="'DejaVu Sans',Verdana,sans-serif" font-size="10.3" font-weight="bold" fill="#000" text-anchor="start" textLength="20.4" lengthAdjust="spacingAndGlyphs">Nov</text>
<text x="233.5" y="701" font-family="'Liberation Sans',Arial,sans-serif" font-size="10" font-weight="normal" fill="#000" text-anchor="middle" filter="url(#dk)">11</text>
<text x="254.5" y="701" font-family="'Liberation Sans',Arial,sans-serif" font-size="10" font-weight="normal" fill="#000" text-anchor="middle" filter="url(#dk)">18</text>
<text x="275.5" y="701" font-family="'Liberation Sans',Arial,sans-serif" font-size="10" font-weight="normal" fill="#000" text-anchor="middle" filter="url(#dk)">25</text>
<text x="282.5" y="700.9" font-family="'DejaVu Sans',Verdana,sans-serif" font-size="10.3" font-weight="bold" fill="#000" text-anchor="start" textLength="20.0" lengthAdjust="spacingAndGlyphs">Dec</text>
<text x="313.5" y="701" font-family="'Liberation Sans',Arial,sans-serif" font-size="10" font-weight="normal" fill="#000" text-anchor="middle" filter="url(#dk)">9</text>
<text x="334.5" y="701" font-family="'Liberation Sans',Arial,sans-serif" font-size="10" font-weight="normal" fill="#000" text-anchor="middle" filter="url(#dk)">16</text>
<text x="355.5" y="701" font-family="'Liberation Sans',Arial,sans-serif" font-size="10" font-weight="normal" fill="#000" text-anchor="middle" filter="url(#dk)">23</text>
<text x="368.5" y="700.9" font-family="'DejaVu Sans',Verdana,sans-serif" font-size="10.3" font-weight="bold" fill="#000" text-anchor="start" textLength="24.0" lengthAdjust="spacingAndGlyphs">2025</text>
<text x="405.5" y="701" font-family="'Liberation Sans',Arial,sans-serif" font-size="10" font-weight="normal" fill="#000" text-anchor="middle" filter="url(#dk)">13</text>
<text x="426.5" y="701" font-family="'Liberation Sans',Arial,sans-serif" font-size="10" font-weight="normal" fill="#000" text-anchor="middle" filter="url(#dk)">21</text>
<text x="443.5" y="701" font-family="'Liberation Sans',Arial,sans-serif" font-size="10" font-weight="normal" fill="#000" text-anchor="middle" filter="url(#dk)">27</text>
<text x="454.8" y="700.9" font-family="'DejaVu Sans',Verdana,sans-serif" font-size="10.3" font-weight="bold" fill="#000" text-anchor="start" textLength="19.4" lengthAdjust="spacingAndGlyphs">Feb</text>
<text x="485.5" y="701" font-family="'Liberation Sans',Arial,sans-serif" font-size="10" font-weight="normal" fill="#000" text-anchor="middle" filter="url(#dk)">10</text>
<text x="506.5" y="701" font-family="'Liberation Sans',Arial,sans-serif" font-size="10" font-weight="normal" fill="#000" text-anchor="middle" filter="url(#dk)">18</text>
<text x="523.5" y="701" font-family="'Liberation Sans',Arial,sans-serif" font-size="10" font-weight="normal" fill="#000" text-anchor="middle" filter="url(#dk)">24</text>
<text x="534.5" y="700.9" font-family="'DejaVu Sans',Verdana,sans-serif" font-size="10.3" font-weight="bold" fill="#000" text-anchor="start" textLength="20.0" lengthAdjust="spacingAndGlyphs">Mar</text>
<text x="565.5" y="701" font-family="'Liberation Sans',Arial,sans-serif" font-size="10" font-weight="normal" fill="#000" text-anchor="middle" filter="url(#dk)">10</text>
<text x="586.5" y="701" font-family="'Liberation Sans',Arial,sans-serif" font-size="10" font-weight="normal" fill="#000" text-anchor="middle" filter="url(#dk)">17</text>
<text x="608.5" y="701" font-family="'Liberation Sans',Arial,sans-serif" font-size="10" font-weight="normal" fill="#000" text-anchor="middle" filter="url(#dk)">24</text>
<text x="624.0" y="700.9" font-family="'DejaVu Sans',Verdana,sans-serif" font-size="10.3" font-weight="bold" fill="#000" text-anchor="start" textLength="19.0" lengthAdjust="spacingAndGlyphs">Apr</text>
<text x="650.5" y="701" font-family="'Liberation Sans',Arial,sans-serif" font-size="10" font-weight="normal" fill="#000" text-anchor="middle" filter="url(#dk)">7</text>
<text x="671.5" y="701" font-family="'Liberation Sans',Arial,sans-serif" font-size="10" font-weight="normal" fill="#000" text-anchor="middle" filter="url(#dk)">14</text>
<text x="688.5" y="701" font-family="'Liberation Sans',Arial,sans-serif" font-size="10" font-weight="normal" fill="#000" text-anchor="middle" filter="url(#dk)">21</text>
<text x="710.6" y="700.9" font-family="'DejaVu Sans',Verdana,sans-serif" font-size="10.3" font-weight="bold" fill="#000" text-anchor="start" textLength="21.8" lengthAdjust="spacingAndGlyphs">May</text>
<text x="751.5" y="701" font-family="'Liberation Sans',Arial,sans-serif" font-size="10" font-weight="normal" fill="#000" text-anchor="middle" filter="url(#dk)">12</text>
<text x="772.5" y="701" font-family="'Liberation Sans',Arial,sans-serif" font-size="10" font-weight="normal" fill="#000" text-anchor="middle" filter="url(#dk)">19</text>
<text x="793.5" y="701" font-family="'Liberation Sans',Arial,sans-serif" font-size="10" font-weight="normal" fill="#000" text-anchor="middle" filter="url(#dk)">27</text>
<text x="801.5" y="700.9" font-family="'DejaVu Sans',Verdana,sans-serif" font-size="10.3" font-weight="bold" fill="#000" text-anchor="start" textLength="18.0" lengthAdjust="spacingAndGlyphs">Jun</text>
<text x="831.5" y="701" font-family="'Liberation Sans',Arial,sans-serif" font-size="10" font-weight="normal" fill="#000" text-anchor="middle" filter="url(#dk)">9</text>
<text x="852.5" y="701" font-family="'Liberation Sans',Arial,sans-serif" font-size="10" font-weight="normal" fill="#000" text-anchor="middle" filter="url(#dk)">16</text>
<text x="869.5" y="701" font-family="'Liberation Sans',Arial,sans-serif" font-size="10" font-weight="normal" fill="#000" text-anchor="middle" filter="url(#dk)">23</text>
<text x="887.2" y="700.9" font-family="'DejaVu Sans',Verdana,sans-serif" font-size="10.3" font-weight="bold" fill="#000" text-anchor="start" textLength="14.5" lengthAdjust="spacingAndGlyphs">Jul</text>
<text x="906.5" y="701" font-family="'Liberation Sans',Arial,sans-serif" font-size="10" font-weight="normal" fill="#000" text-anchor="middle" filter="url(#dk)">7</text>
<text x="928.5" y="701" font-family="'Liberation Sans',Arial,sans-serif" font-size="10" font-weight="normal" fill="#000" text-anchor="middle" filter="url(#dk)">14</text>
<text x="949.5" y="701" font-family="'Liberation Sans',Arial,sans-serif" font-size="10" font-weight="normal" fill="#000" text-anchor="middle" filter="url(#dk)">21</text>
<text x="970.5" y="701" font-family="'Liberation Sans',Arial,sans-serif" font-size="10" font-weight="normal" fill="#000" text-anchor="middle" filter="url(#dk)">28</text>
<text x="976.0" y="700.9" font-family="'DejaVu Sans',Verdana,sans-serif" font-size="10.3" font-weight="bold" fill="#000" text-anchor="start" textLength="20.9" lengthAdjust="spacingAndGlyphs">Aug</text>
<text x="1012.5" y="701" font-family="'Liberation Sans',Arial,sans-serif" font-size="10" font-weight="normal" fill="#000" text-anchor="middle" filter="url(#dk)">11</text>
<text x="1033.5" y="701" font-family="'Liberation Sans',Arial,sans-serif" font-size="10" font-weight="normal" fill="#000" text-anchor="middle" filter="url(#dk)">18</text>
<text x="1054.5" y="701" font-family="'Liberation Sans',Arial,sans-serif" font-size="10" font-weight="normal" fill="#000" text-anchor="middle" filter="url(#dk)">25</text>
<text x="1065.5" y="700.9" font-family="'DejaVu Sans',Verdana,sans-serif" font-size="10.3" font-weight="bold" fill="#000" text-anchor="start" textLength="20.1" lengthAdjust="spacingAndGlyphs">Sep</text>
<text x="1092.5" y="701" font-family="'Liberation Sans',Arial,sans-serif" font-size="10" font-weight="normal" fill="#000" text-anchor="middle" filter="url(#dk)">8</text>
<text x="1113.5" y="701" font-family="'Liberation Sans',Arial,sans-serif" font-size="10" font-weight="normal" fill="#000" text-anchor="middle" filter="url(#dk)">15</text>
<text x="1134.5" y="701" font-family="'Liberation Sans',Arial,sans-serif" font-size="10" font-weight="normal" fill="#000" text-anchor="middle" filter="url(#dk)">22</text>
<text x="1154.5" y="700.9" font-family="'DejaVu Sans',Verdana,sans-serif" font-size="10.3" font-weight="bold" fill="#000" text-anchor="start" textLength="18.0" lengthAdjust="spacingAndGlyphs">Oct</text>
<text x="1176.5" y="701" font-family="'Liberation Sans',Arial,sans-serif" font-size="10" font-weight="normal" fill="#000" text-anchor="middle" filter="url(#dk)">6</text>
<g><rect x="18" y="858" width="1" height="1" fill="#000033"/><rect x="22" y="858" width="1" height="1" fill="#000033"/><rect x="26" y="858" width="1" height="2" fill="#000033"/><rect x="31" y="858" width="1" height="1" fill="#000033"/><rect x="35" y="858" width="1" height="1" fill="#000033"/><rect x="39" y="858" width="1" height="1" fill="#000033"/><rect x="43" y="858" width="1" height="2" fill="#000033"/><rect x="47" y="858" width="1" height="1" fill="#000033"/><rect x="52" y="858" width="1" height="1" fill="#000033"/><rect x="56" y="858" width="1" height="1" fill="#000033"/><rect x="60" y="858" width="1" height="1" fill="#000033"/><rect x="64" y="858" width="1" height="2" fill="#000033"/><rect x="69" y="858" width="1" height="1" fill="#000033"/><rect x="73" y="858" width="1" height="1" fill="#000033"/><rect x="77" y="858" width="1" height="1" fill="#000033"/><rect x="81" y="858" width="1" height="1" fill="#000033"/><rect x="85" y="858" width="1" height="2" fill="#000033"/><rect x="90" y="858" width="1" height="1" fill="#000033"/><rect x="94" y="858" width="1" height="1" fill="#000033"/><rect x="98" y="858" width="1" height="1" fill="#000033"/><rect x="102" y="858" width="1" height="1" fill="#000033"/><rect x="106" y="858" width="1" height="1" fill="#000033"/><rect x="111" y="858" width="1" height="2" fill="#000033"/><rect x="115" y="858" width="1" height="1" fill="#000033"/><rect x="119" y="858" width="1" height="1" fill="#000033"/><rect x="123" y="858" width="1" height="1" fill="#000033"/><rect x="127" y="858" width="1" height="2" fill="#000033"/><rect x="132" y="858" width="1" height="1" fill="#000033"/><rect x="136" y="858" width="1" height="1" fill="#000033"/><rect x="140" y="858" width="1" height="1" fill="#000033"/><rect x="144" y="858" width="1" height="1" fill="#000033"/><rect x="149" y="858" width="1" height="2" fill="#000033"/><rect x="153" y="858" width="1" height="1" fill="#000033"/><rect x="157" y="858" width="1" height="1" fill="#000033"/><rect x="161" y="858" width="1" height="1" fill="#000033"/><rect x="165" y="858" width="1" height="1" fill="#000033"/><rect x="170" y="858" width="1" height="2" fill="#000033"/><rect x="174" y="858" width="1" height="1" fill="#000033"/><rect x="178" y="858" width="1" height="1" fill="#000033"/><rect x="182" y="858" width="1" height="1" fill="#000033"/><rect x="186" y="858" width="1" height="1" fill="#000033"/><rect x="191" y="858" width="1" height="2" fill="#000033"/><rect x="195" y="858" width="1" height="1" fill="#000033"/><rect x="199" y="858" width="1" height="1" fill="#000033"/><rect x="203" y="858" width="1" height="1" fill="#000033"/><rect x="207" y="858" width="1" height="2" fill="#000033"/><rect x="212" y="858" width="1" height="1" fill="#000033"/><rect x="216" y="858" width="1" height="1" fill="#000033"/><rect x="220" y="858" width="1" height="1" fill="#000033"/><rect x="224" y="858" width="1" height="1" fill="#000033"/><rect x="229" y="858" width="1" height="1" fill="#000033"/><rect x="233" y="858" width="1" height="2" fill="#000033"/><rect x="237" y="858" width="1" height="1" fill="#000033"/><rect x="241" y="858" width="1" height="1" fill="#000033"/><rect x="245" y="858" width="1" height="1" fill="#000033"/><rect x="250" y="858" width="1" height="1" fill="#000033"/><rect x="254" y="858" width="1" height="2" fill="#000033"/><rect x="258" y="858" width="1" height="1" fill="#000033"/><rect x="262" y="858" width="1" height="1" fill="#000033"/><rect x="266" y="858" width="1" height="1" fill="#000033"/><rect x="271" y="858" width="1" height="1" fill="#000033"/><rect x="275" y="858" width="1" height="2" fill="#000033"/><rect x="279" y="858" width="1" height="1" fill="#000033"/><rect x="283" y="858" width="1" height="1" fill="#000033"/><rect x="287" y="858" width="1" height="1" fill="#000033"/><rect x="292" y="858" width="1" height="2" fill="#000033"/><rect x="296" y="858" width="1" height="1" fill="#000033"/><rect x="300" y="858" width="1" height="1" fill="#000033"/><rect x="304" y="858" width="1" height="1" fill="#000033"/><rect x="309" y="858" width="1" height="1" fill="#000033"/><rect x="313" y="858" width="1" height="2" fill="#000033"/><rect x="317" y="858" width="1" height="1" fill="#000033"/><rect x="321" y="858" width="1" height="1" fill="#000033"/><rect x="325" y="858" width="1" height="1" fill="#000033"/><rect x="330" y="858" width="1" height="1" fill="#000033"/><rect x="334" y="858" width="1" height="2" fill="#000033"/><rect x="338" y="858" width="1" height="1" fill="#000033"/><rect x="342" y="858" width="1" height="1" fill="#000033"/><rect x="346" y="858" width="1" height="1" fill="#000033"/><rect x="351" y="858" width="1" height="1" fill="#000033"/><rect x="355" y="858" width="1" height="2" fill="#000033"/><rect x="359" y="858" width="1" height="1" fill="#000033"/><rect x="363" y="858" width="1" height="1" fill="#000033"/><rect x="367" y="858" width="1" height="1" fill="#000033"/><rect x="372" y="858" width="1" height="1" fill="#000033"/><rect x="376" y="858" width="1" height="1" fill="#000033"/><rect x="380" y="858" width="1" height="2" fill="#000033"/><rect x="384" y="858" width="1" height="1" fill="#000033"/><rect x="389" y="858" width="1" height="1" fill="#000033"/><rect x="393" y="858" width="1" height="1" fill="#000033"/><rect x="397" y="858" width="1" height="1" fill="#000033"/><rect x="401" y="858" width="1" height="1" fill="#000033"/><rect x="405" y="858" width="1" height="2" fill="#000033"/><rect x="410" y="858" width="1" height="1" fill="#000033"/><rect x="414" y="858" width="1" height="1" fill="#000033"/><rect x="418" y="858" width="1" height="1" fill="#000033"/><rect x="422" y="858" width="1" height="1" fill="#000033"/><rect x="426" y="858" width="1" height="2" fill="#000033"/><rect x="431" y="858" width="1" height="1" fill="#000033"/><rect x="435" y="858" width="1" height="1" fill="#000033"/><rect x="439" y="858" width="1" height="1" fill="#000033"/><rect x="443" y="858" width="1" height="2" fill="#000033"/><rect x="448" y="858" width="1" height="1" fill="#000033"/><rect x="452" y="858" width="1" height="1" fill="#000033"/><rect x="456" y="858" width="1" height="1" fill="#000033"/><rect x="460" y="858" width="1" height="1" fill="#000033"/><rect x="464" y="858" width="1" height="2" fill="#000033"/><rect x="469" y="858" width="1" height="1" fill="#000033"/><rect x="473" y="858" width="1" height="1" fill="#000033"/><rect x="477" y="858" width="1" height="1" fill="#000033"/><rect x="481" y="858" width="1" height="1" fill="#000033"/><rect x="485" y="858" width="1" height="2" fill="#000033"/><rect x="490" y="858" width="1" height="1" fill="#000033"/><rect x="494" y="858" width="1" height="1" fill="#000033"/><rect x="498" y="858" width="1" height="1" fill="#000033"/><rect x="502" y="858" width="1" height="1" fill="#000033"/><rect x="506" y="858" width="1" height="2" fill="#000033"/><rect x="511" y="858" width="1" height="1" fill="#000033"/><rect x="515" y="858" width="1" height="1" fill="#000033"/><rect x="519" y="858" width="1" height="1" fill="#000033"/><rect x="523" y="858" width="1" height="2" fill="#000033"/><rect x="528" y="858" width="1" height="1" fill="#000033"/><rect x="532" y="858" width="1" height="1" fill="#000033"/><rect x="536" y="858" width="1" height="1" fill="#000033"/><rect x="540" y="858" width="1" height="1" fill="#000033"/><rect x="544" y="858" width="1" height="2" fill="#000033"/><rect x="549" y="858" width="1" height="1" fill="#000033"/><rect x="553" y="858" width="1" height="1" fill="#000033"/><rect x="557" y="858" width="1" height="1" fill="#000033"/><rect x="561" y="858" width="1" height="1" fill="#000033"/><rect x="565" y="858" width="1" height="2" fill="#000033"/><rect x="570" y="858" width="1" height="1" fill="#000033"/><rect x="574" y="858" width="1" height="1" fill="#000033"/><rect x="578" y="858" width="1" height="1" fill="#000033"/><rect x="582" y="858" width="1" height="1" fill="#000033"/><rect x="586" y="858" width="1" height="2" fill="#000033"/><rect x="591" y="858" width="1" height="1" fill="#000033"/><rect x="595" y="858" width="1" height="1" fill="#000033"/><rect x="599" y="858" width="1" height="1" fill="#000033"/><rect x="603" y="858" width="1" height="1" fill="#000033"/><rect x="608" y="858" width="1" height="2" fill="#000033"/><rect x="612" y="858" width="1" height="1" fill="#000033"/><rect x="616" y="858" width="1" height="1" fill="#000033"/><rect x="620" y="858" width="1" height="1" fill="#000033"/><rect x="624" y="858" width="1" height="1" fill="#000033"/><rect x="629" y="858" width="1" height="1" fill="#000033"/><rect x="633" y="858" width="1" height="2" fill="#000033"/><rect x="637" y="858" width="1" height="1" fill="#000033"/><rect x="641" y="858" width="1" height="1" fill="#000033"/><rect x="645" y="858" width="1" height="1" fill="#000033"/><rect x="650" y="858" width="1" height="2" fill="#000033"/><rect x="654" y="858" width="1" height="1" fill="#000033"/><rect x="658" y="858" width="1" height="1" fill="#000033"/><rect x="662" y="858" width="1" height="1" fill="#000033"/><rect x="666" y="858" width="1" height="1" fill="#000033"/><rect x="671" y="858" width="1" height="2" fill="#000033"/><rect x="675" y="858" width="1" height="1" fill="#000033"/><rect x="679" y="858" width="1" height="1" fill="#000033"/><rect x="683" y="858" width="1" height="1" fill="#000033"/><rect x="688" y="858" width="1" height="2" fill="#000033"/><rect x="692" y="858" width="1" height="1" fill="#000033"/><rect x="696" y="858" width="1" height="1" fill="#000033"/><rect x="700" y="858" width="1" height="1" fill="#000033"/><rect x="704" y="858" width="1" height="1" fill="#000033"/><rect x="709" y="858" width="1" height="1" fill="#000033"/><rect x="713" y="858" width="1" height="1" fill="#000033"/><rect x="717" y="858" width="1" height="1" fill="#000033"/><rect x="721" y="858" width="1" height="2" fill="#000033"/><rect x="725" y="858" width="1" height="1" fill="#000033"/><rect x="730" y="858" width="1" height="1" fill="#000033"/><rect x="734" y="858" width="1" height="1" fill="#000033"/><rect x="738" y="858" width="1" height="1" fill="#000033"/><rect x="742" y="858" width="1" height="1" fill="#000033"/><rect x="746" y="858" width="1" height="1" fill="#000033"/><rect x="751" y="858" width="1" height="2" fill="#000033"/><rect x="755" y="858" width="1" height="1" fill="#000033"/><rect x="759" y="858" width="1" height="1" fill="#000033"/><rect x="763" y="858" width="1" height="1" fill="#000033"/><rect x="768" y="858" width="1" height="1" fill="#000033"/><rect x="772" y="858" width="1" height="2" fill="#000033"/><rect x="776" y="858" width="1" height="1" fill="#000033"/><rect x="780" y="858" width="1" height="1" fill="#000033"/><rect x="784" y="858" width="1" height="1" fill="#000033"/><rect x="789" y="858" width="1" height="1" fill="#000033"/><rect x="793" y="858" width="1" height="2" fill="#000033"/><rect x="797" y="858" width="1" height="1" fill="#000033"/><rect x="801" y="858" width="1" height="1" fill="#000033"/><rect x="805" y="858" width="1" height="1" fill="#000033"/><rect x="810" y="858" width="1" height="2" fill="#000033"/><rect x="814" y="858" width="1" height="1" fill="#000033"/><rect x="818" y="858" width="1" height="1" fill="#000033"/><rect x="822" y="858" width="1" height="1" fill="#000033"/><rect x="826" y="858" width="1" height="1" fill="#000033"/><rect x="831" y="858" width="1" height="2" fill="#000033"/><rect x="835" y="858" width="1" height="1" fill="#000033"/><rect x="839" y="858" width="1" height="1" fill="#000033"/><rect x="843" y="858" width="1" height="1" fill="#000033"/><rect x="848" y="858" width="1" height="1" fill="#000033"/><rect x="852" y="858" width="1" height="2" fill="#000033"/><rect x="856" y="858" width="1" height="1" fill="#000033"/><rect x="860" y="858" width="1" height="1" fill="#000033"/><rect x="864" y="858" width="1" height="1" fill="#000033"/><rect x="869" y="858" width="1" height="2" fill="#000033"/><rect x="873" y="858" width="1" height="1" fill="#000033"/><rect x="877" y="858" width="1" height="1" fill="#000033"/><rect x="881" y="858" width="1" height="1" fill="#000033"/><rect x="885" y="858" width="1" height="1" fill="#000033"/><rect x="890" y="858" width="1" height="1" fill="#000033"/><rect x="894" y="858" width="1" height="2" fill="#000033"/><rect x="898" y="858" width="1" height="1" fill="#000033"/><rect x="902" y="858" width="1" height="1" fill="#000033"/><rect x="906" y="858" width="1" height="2" fill="#000033"/><rect x="911" y="858" width="1" height="1" fill="#000033"/><rect x="915" y="858" width="1" height="1" fill="#000033"/><rect x="919" y="858" width="1" height="1" fill="#000033"/><rect x="923" y="858" width="1" height="1" fill="#000033"/><rect x="928" y="858" width="1" height="2" fill="#000033"/><rect x="932" y="858" width="1" height="1" fill="#000033"/><rect x="936" y="858" width="1" height="1" fill="#000033"/><rect x="940" y="858" width="1" height="1" fill="#000033"/><rect x="944" y="858" width="1" height="1" fill="#000033"/><rect x="949" y="858" width="1" height="2" fill="#000033"/><rect x="953" y="858" width="1" height="1" fill="#000033"/><rect x="957" y="858" width="1" height="1" fill="#000033"/><rect x="961" y="858" width="1" height="1" fill="#000033"/><rect x="965" y="858" width="1" height="1" fill="#000033"/><rect x="970" y="858" width="1" height="2" fill="#000033"/><rect x="974" y="858" width="1" height="1" fill="#000033"/><rect x="978" y="858" width="1" height="1" fill="#000033"/><rect x="982" y="858" width="1" height="1" fill="#000033"/><rect x="986" y="858" width="1" height="2" fill="#000033"/><rect x="991" y="858" width="1" height="1" fill="#000033"/><rect x="995" y="858" width="1" height="1" fill="#000033"/><rect x="999" y="858" width="1" height="1" fill="#000033"/><rect x="1003" y="858" width="1" height="1" fill="#000033"/><rect x="1008" y="858" width="1" height="1" fill="#000033"/><rect x="1012" y="858" width="1" height="2" fill="#000033"/><rect x="1016" y="858" width="1" height="1" fill="#000033"/><rect x="1020" y="858" width="1" height="1" fill="#000033"/><rect x="1024" y="858" width="1" height="1" fill="#000033"/><rect x="1029" y="858" width="1" height="1" fill="#000033"/><rect x="1033" y="858" width="1" height="2" fill="#000033"/><rect x="1037" y="858" width="1" height="1" fill="#000033"/><rect x="1041" y="858" width="1" height="1" fill="#000033"/><rect x="1045" y="858" width="1" height="1" fill="#000033"/><rect x="1050" y="858" width="1" height="1" fill="#000033"/><rect x="1054" y="858" width="1" height="2" fill="#000033"/><rect x="1058" y="858" width="1" height="1" fill="#000033"/><rect x="1062" y="858" width="1" height="1" fill="#000033"/><rect x="1066" y="858" width="1" height="1" fill="#000033"/><rect x="1071" y="858" width="1" height="1" fill="#000033"/><rect x="1075" y="858" width="1" height="2" fill="#000033"/><rect x="1079" y="858" width="1" height="1" fill="#000033"/><rect x="1083" y="858" width="1" height="1" fill="#000033"/><rect x="1088" y="858" width="1" height="1" fill="#000033"/><rect x="1092" y="858" width="1" height="2" fill="#000033"/><rect x="1096" y="858" width="1" height="1" fill="#000033"/><rect x="1100" y="858" width="1" height="1" fill="#000033"/><rect x="1104" y="858" width="1" height="1" fill="#000033"/><rect x="1109" y="858" width="1" height="1" fill="#000033"/><rect x="1113" y="858" width="1" height="2" fill="#000033"/><rect x="1117" y="858" width="1" height="1" fill="#000033"/><rect x="1121" y="858" width="1" height="1" fill="#000033"/><rect x="1125" y="858" width="1" height="1" fill="#000033"/><rect x="1130" y="858" width="1" height="1" fill="#000033"/><rect x="1134" y="858" width="1" height="2" fill="#000033"/><rect x="1138" y="858" width="1" height="1" fill="#000033"/><rect x="1142" y="858" width="1" height="1" fill="#000033"/><rect x="1146" y="858" width="1" height="1" fill="#000033"/><rect x="1151" y="858" width="1" height="1" fill="#000033"/><rect x="1155" y="858" width="1" height="1" fill="#000033"/><rect x="1159" y="858" width="1" height="1" fill="#000033"/><rect x="1163" y="858" width="1" height="2" fill="#000033"/><rect x="1168" y="858" width="1" height="1" fill="#000033"/><rect x="1172" y="858" width="1" height="1" fill="#000033"/><rect x="1176" y="858" width="1" height="2" fill="#000033"/><rect x="1180" y="858" width="1" height="1" fill="#000033"/><rect x="1184" y="858" width="1" height="1" fill="#000033"/><rect x="1189" y="858" width="1" height="1" fill="#000033"/><rect x="1193" y="858" width="1" height="1" fill="#000033"/></g>
<text x="16.4" y="867.4" font-family="'DejaVu Sans',Verdana,sans-serif" font-size="10.3" font-weight="bold" fill="#000" text-anchor="start" textLength="20.1" lengthAdjust="spacingAndGlyphs">Sep</text>
<text x="43.5" y="867.5" font-family="'Liberation Sans',Arial,sans-serif" font-size="10" font-weight="normal" fill="#000" text-anchor="middle" filter="url(#dk)">9</text>
<text x="64.5" y="867.5" font-family="'Liberation Sans',Arial,sans-serif" font-size="10" font-weight="normal" fill="#000" text-anchor="middle" filter="url(#dk)">16</text>
<text x="85.5" y="867.5" font-family="'Liberation Sans',Arial,sans-serif" font-size="10" font-weight="normal" fill="#000" text-anchor="middle" filter="url(#dk)">23</text>
<text x="102.5" y="867.4" font-family="'DejaVu Sans',Verdana,sans-serif" font-size="10.3" font-weight="bold" fill="#000" text-anchor="start" textLength="18.0" lengthAdjust="spacingAndGlyphs">Oct</text>
<text x="127.5" y="867.5" font-family="'Liberation Sans',Arial,sans-serif" font-size="10" font-weight="normal" fill="#000" text-anchor="middle" filter="url(#dk)">7</text>
<text x="149.5" y="867.5" font-family="'Liberation Sans',Arial,sans-serif" font-size="10" font-weight="normal" fill="#000" text-anchor="middle" filter="url(#dk)">14</text>
<text x="170.5" y="867.5" font-family="'Liberation Sans',Arial,sans-serif" font-size="10" font-weight="normal" fill="#000" text-anchor="middle" filter="url(#dk)">21</text>
<text x="191.5" y="867.5" font-family="'Liberation Sans',Arial,sans-serif" font-size="10" font-weight="normal" fill="#000" text-anchor="middle" filter="url(#dk)">28</text>
<text x="197.3" y="867.4" font-family="'DejaVu Sans',Verdana,sans-serif" font-size="10.3" font-weight="bold" fill="#000" text-anchor="start" textLength="20.4" lengthAdjust="spacingAndGlyphs">Nov</text>
<text x="233.5" y="867.5" font-family="'Liberation Sans',Arial,sans-serif" font-size="10" font-weight="normal" fill="#000" text-anchor="middle" filter="url(#dk)">11</text>
<text x="254.5" y="867.5" font-family="'Liberation Sans',Arial,sans-serif" font-size="10" font-weight="normal" fill="#000" text-anchor="middle" filter="url(#dk)">18</text>
<text x="275.5" y="867.5" font-family="'Liberation Sans',Arial,sans-serif" font-size="10" font-weight="normal" fill="#000" text-anchor="middle" filter="url(#dk)">25</text>
<text x="282.5" y="867.4" font-family="'DejaVu Sans',Verdana,sans-serif" font-size="10.3" font-weight="bold" fill="#000" text-anchor="start" textLength="20.0" lengthAdjust="spacingAndGlyphs">Dec</text>
<text x="313.5" y="867.5" font-family="'Liberation Sans',Arial,sans-serif" font-size="10" font-weight="normal" fill="#000" text-anchor="middle" filter="url(#dk)">9</text>
<text x="334.5" y="867.5" font-family="'Liberation Sans',Arial,sans-serif" font-size="10" font-weight="normal" fill="#000" text-anchor="middle" filter="url(#dk)">16</text>
<text x="355.5" y="867.5" font-family="'Liberation Sans',Arial,sans-serif" font-size="10" font-weight="normal" fill="#000" text-anchor="middle" filter="url(#dk)">23</text>
<text x="368.5" y="867.4" font-family="'DejaVu Sans',Verdana,sans-serif" font-size="10.3" font-weight="bold" fill="#000" text-anchor="start" textLength="24.0" lengthAdjust="spacingAndGlyphs">2025</text>
<text x="405.5" y="867.5" font-family="'Liberation Sans',Arial,sans-serif" font-size="10" font-weight="normal" fill="#000" text-anchor="middle" filter="url(#dk)">13</text>
<text x="426.5" y="867.5" font-family="'Liberation Sans',Arial,sans-serif" font-size="10" font-weight="normal" fill="#000" text-anchor="middle" filter="url(#dk)">21</text>
<text x="443.5" y="867.5" font-family="'Liberation Sans',Arial,sans-serif" font-size="10" font-weight="normal" fill="#000" text-anchor="middle" filter="url(#dk)">27</text>
<text x="454.8" y="867.4" font-family="'DejaVu Sans',Verdana,sans-serif" font-size="10.3" font-weight="bold" fill="#000" text-anchor="start" textLength="19.4" lengthAdjust="spacingAndGlyphs">Feb</text>
<text x="485.5" y="867.5" font-family="'Liberation Sans',Arial,sans-serif" font-size="10" font-weight="normal" fill="#000" text-anchor="middle" filter="url(#dk)">10</text>
<text x="506.5" y="867.5" font-family="'Liberation Sans',Arial,sans-serif" font-size="10" font-weight="normal" fill="#000" text-anchor="middle" filter="url(#dk)">18</text>
<text x="523.5" y="867.5" font-family="'Liberation Sans',Arial,sans-serif" font-size="10" font-weight="normal" fill="#000" text-anchor="middle" filter="url(#dk)">24</text>
<text x="534.5" y="867.4" font-family="'DejaVu Sans',Verdana,sans-serif" font-size="10.3" font-weight="bold" fill="#000" text-anchor="start" textLength="20.0" lengthAdjust="spacingAndGlyphs">Mar</text>
<text x="565.5" y="867.5" font-family="'Liberation Sans',Arial,sans-serif" font-size="10" font-weight="normal" fill="#000" text-anchor="middle" filter="url(#dk)">10</text>
<text x="586.5" y="867.5" font-family="'Liberation Sans',Arial,sans-serif" font-size="10" font-weight="normal" fill="#000" text-anchor="middle" filter="url(#dk)">17</text>
<text x="608.5" y="867.5" font-family="'Liberation Sans',Arial,sans-serif" font-size="10" font-weight="normal" fill="#000" text-anchor="middle" filter="url(#dk)">24</text>
<text x="624.0" y="867.4" font-family="'DejaVu Sans',Verdana,sans-serif" font-size="10.3" font-weight="bold" fill="#000" text-anchor="start" textLength="19.0" lengthAdjust="spacingAndGlyphs">Apr</text>
<text x="650.5" y="867.5" font-family="'Liberation Sans',Arial,sans-serif" font-size="10" font-weight="normal" fill="#000" text-anchor="middle" filter="url(#dk)">7</text>
<text x="671.5" y="867.5" font-family="'Liberation Sans',Arial,sans-serif" font-size="10" font-weight="normal" fill="#000" text-anchor="middle" filter="url(#dk)">14</text>
<text x="688.5" y="867.5" font-family="'Liberation Sans',Arial,sans-serif" font-size="10" font-weight="normal" fill="#000" text-anchor="middle" filter="url(#dk)">21</text>
<text x="710.6" y="867.4" font-family="'DejaVu Sans',Verdana,sans-serif" font-size="10.3" font-weight="bold" fill="#000" text-anchor="start" textLength="21.8" lengthAdjust="spacingAndGlyphs">May</text>
<text x="751.5" y="867.5" font-family="'Liberation Sans',Arial,sans-serif" font-size="10" font-weight="normal" fill="#000" text-anchor="middle" filter="url(#dk)">12</text>
<text x="772.5" y="867.5" font-family="'Liberation Sans',Arial,sans-serif" font-size="10" font-weight="normal" fill="#000" text-anchor="middle" filter="url(#dk)">19</text>
<text x="793.5" y="867.5" font-family="'Liberation Sans',Arial,sans-serif" font-size="10" font-weight="normal" fill="#000" text-anchor="middle" filter="url(#dk)">27</text>
<text x="801.5" y="867.4" font-family="'DejaVu Sans',Verdana,sans-serif" font-size="10.3" font-weight="bold" fill="#000" text-anchor="start" textLength="18.0" lengthAdjust="spacingAndGlyphs">Jun</text>
<text x="831.5" y="867.5" font-family="'Liberation Sans',Arial,sans-serif" font-size="10" font-weight="normal" fill="#000" text-anchor="middle" filter="url(#dk)">9</text>
<text x="852.5" y="867.5" font-family="'Liberation Sans',Arial,sans-serif" font-size="10" font-weight="normal" fill="#000" text-anchor="middle" filter="url(#dk)">16</text>
<text x="869.5" y="867.5" font-family="'Liberation Sans',Arial,sans-serif" font-size="10" font-weight="normal" fill="#000" text-anchor="middle" filter="url(#dk)">23</text>
<text x="887.2" y="867.4" font-family="'DejaVu Sans',Verdana,sans-serif" font-size="10.3" font-weight="bold" fill="#000" text-anchor="start" textLength="14.5" lengthAdjust="spacingAndGlyphs">Jul</text>
<text x="906.5" y="867.5" font-family="'Liberation Sans',Arial,sans-serif" font-size="10" font-weight="normal" fill="#000" text-anchor="middle" filter="url(#dk)">7</text>
<text x="928.5" y="867.5" font-family="'Liberation Sans',Arial,sans-serif" font-size="10" font-weight="normal" fill="#000" text-anchor="middle" filter="url(#dk)">14</text>
<text x="949.5" y="867.5" font-family="'Liberation Sans',Arial,sans-serif" font-size="10" font-weight="normal" fill="#000" text-anchor="middle" filter="url(#dk)">21</text>
<text x="970.5" y="867.5" font-family="'Liberation Sans',Arial,sans-serif" font-size="10" font-weight="normal" fill="#000" text-anchor="middle" filter="url(#dk)">28</text>
<text x="976.0" y="867.4" font-family="'DejaVu Sans',Verdana,sans-serif" font-size="10.3" font-weight="bold" fill="#000" text-anchor="start" textLength="20.9" lengthAdjust="spacingAndGlyphs">Aug</text>
<text x="1012.5" y="867.5" font-family="'Liberation Sans',Arial,sans-serif" font-size="10" font-weight="normal" fill="#000" text-anchor="middle" filter="url(#dk)">11</text>
<text x="1033.5" y="867.5" font-family="'Liberation Sans',Arial,sans-serif" font-size="10" font-weight="normal" fill="#000" text-anchor="middle" filter="url(#dk)">18</text>
<text x="1054.5" y="867.5" font-family="'Liberation Sans',Arial,sans-serif" font-size="10" font-weight="normal" fill="#000" text-anchor="middle" filter="url(#dk)">25</text>
<text x="1065.5" y="867.4" font-family="'DejaVu Sans',Verdana,sans-serif" font-size="10.3" font-weight="bold" fill="#000" text-anchor="start" textLength="20.1" lengthAdjust="spacingAndGlyphs">Sep</text>
<text x="1092.5" y="867.5" font-family="'Liberation Sans',Arial,sans-serif" font-size="10" font-weight="normal" fill="#000" text-anchor="middle" filter="url(#dk)">8</text>
<text x="1113.5" y="867.5" font-family="'Liberation Sans',Arial,sans-serif" font-size="10" font-weight="normal" fill="#000" text-anchor="middle" filter="url(#dk)">15</text>
<text x="1134.5" y="867.5" font-family="'Liberation Sans',Arial,sans-serif" font-size="10" font-weight="normal" fill="#000" text-anchor="middle" filter="url(#dk)">22</text>
<text x="1154.5" y="867.4" font-family="'DejaVu Sans',Verdana,sans-serif" font-size="10.3" font-weight="bold" fill="#000" text-anchor="start" textLength="18.0" lengthAdjust="spacingAndGlyphs">Oct</text>
<text x="1176.5" y="867.5" font-family="'Liberation Sans',Arial,sans-serif" font-size="10" font-weight="normal" fill="#000" text-anchor="middle" filter="url(#dk)">6</text>
<text x="16.2" y="13.7" font-family="'Liberation Sans',Arial,sans-serif" font-size="13" font-weight="bold" fill="#000" text-anchor="start" textLength="156.2" lengthAdjust="spacing">!NEWHISPX-!NEWLOSPX</text>
<text x="176.5" y="12.9" font-family="'Liberation Sans',Arial,sans-serif" font-size="10.9" font-weight="normal" fill="#000" text-anchor="start" textLength="156.4" lengthAdjust="spacing">SPX New Highs-SPX New Lows</text>
<text x="338.5" y="12.9" font-family="'Liberation Sans',Arial,sans-serif" font-size="9.4" font-weight="normal" fill="#000" text-anchor="start" textLength="23.5" lengthAdjust="spacing" filter="url(#dk)">INDX</text>
<text x="15.8" y="25.8" font-family="'Liberation Sans',Arial,sans-serif" font-size="10.4" font-weight="normal" fill="#000" text-anchor="start" textLength="60.3" lengthAdjust="spacing">28-Aug-2025</text>
<text x="1109.8" y="12.6" font-family="'Liberation Sans',Arial,sans-serif" font-size="10.4" font-weight="normal" fill="#333" text-anchor="start" textLength="89.6" lengthAdjust="spacing">© StockCharts.com</text>
<text x="838.9" y="25.8" font-family="'DejaVu Sans',Verdana,sans-serif" font-size="10" font-weight="bold" fill="#000" text-anchor="start" textLength="28.2" lengthAdjust="spacingAndGlyphs">Open</text>
<text x="871.1" y="25.8" font-family="'Liberation Sans',Arial,sans-serif" font-size="10.2" font-weight="normal" fill="#000" text-anchor="start" textLength="25.5" lengthAdjust="spacing" filter="url(#dk)">29.00</text>
<text x="903.9" y="25.8" font-family="'DejaVu Sans',Verdana,sans-serif" font-size="10" font-weight="bold" fill="#000" text-anchor="start" textLength="22.9" lengthAdjust="spacingAndGlyphs">High</text>
<text x="930.8" y="25.8" font-family="'Liberation Sans',Arial,sans-serif" font-size="10.2" font-weight="normal" fill="#000" text-anchor="start" textLength="25.5" lengthAdjust="spacing" filter="url(#dk)">29.00</text>
<text x="963.9" y="25.8" font-family="'DejaVu Sans',Verdana,sans-serif" font-size="10" font-weight="bold" fill="#000" text-anchor="start" textLength="22.2" lengthAdjust="spacingAndGlyphs">Low</text>
<text x="991" y="25.8" font-family="'Liberation Sans',Arial,sans-serif" font-size="10.2" font-weight="normal" fill="#000" text-anchor="start" textLength="25.5" lengthAdjust="spacing" filter="url(#dk)">29.00</text>
<text x="1023.5" y="25.8" font-family="'DejaVu Sans',Verdana,sans-serif" font-size="10" font-weight="bold" fill="#000" text-anchor="start" textLength="31.5" lengthAdjust="spacingAndGlyphs">Close</text>
<text x="1058.7" y="25.8" font-family="'Liberation Sans',Arial,sans-serif" font-size="10.2" font-weight="normal" fill="#000" text-anchor="start" textLength="25.8" lengthAdjust="spacing" filter="url(#dk)">29.00</text>
<text x="1092.1" y="25.8" font-family="'DejaVu Sans',Verdana,sans-serif" font-size="10" font-weight="bold" fill="#000" text-anchor="start" textLength="21" lengthAdjust="spacingAndGlyphs">Chg</text>
<text x="1117.1" y="25.8" font-family="'Liberation Sans',Arial,sans-serif" font-size="10.2" font-weight="normal" fill="#000" text-anchor="start" textLength="71.8" lengthAdjust="spacing" filter="url(#dk)">+0.00 (+0.00%)</text>
</g>
<rect x="1192" y="22" width="7" height="2" fill="#000"/>
<g text-rendering="geometricPrecision">
<g fill="#00008b"><rect x="19" y="34" width="3" height="5"/><rect x="22" y="30" width="3" height="9"/><rect x="25" y="32" width="3" height="7"/></g>
<g fill="#fff" opacity="0.45"><rect x="20" y="35" width="1" height="4"/><rect x="23" y="31" width="1" height="8"/><rect x="26" y="33" width="1" height="6"/></g>
<text x="31.5" y="39" font-family="'DejaVu Sans',Verdana,sans-serif" font-size="9.5" font-weight="normal" fill="#000" text-anchor="start" textLength="116" lengthAdjust="spacing" filter="url(#dl)">SPX New Highs 33.00</text>
<g fill="#00008b"><rect x="19" y="187" width="3" height="5"/><rect x="22" y="183" width="3" height="9"/><rect x="25" y="185" width="3" height="7"/></g>
<g fill="#fff" opacity="0.45"><rect x="20" y="188" width="1" height="4"/><rect x="23" y="184" width="1" height="8"/><rect x="26" y="186" width="1" height="6"/></g>
<text x="31.4" y="192" font-family="'DejaVu Sans',Verdana,sans-serif" font-size="9.5" font-weight="normal" fill="#000" text-anchor="start" textLength="237.8" lengthAdjust="spacing" filter="url(#dl)">SPX New Highs-SPX New Lows (Daily) 29.00</text>
<g fill="#dc0028"><rect x="19" y="710" width="3" height="5"/><rect x="22" y="706" width="3" height="9"/><rect x="25" y="708" width="3" height="7"/></g>
<g fill="#fff" opacity="0.45"><rect x="20" y="711" width="1" height="4"/><rect x="23" y="707" width="1" height="8"/><rect x="26" y="709" width="1" height="6"/></g>
<text x="31.5" y="715" font-family="'DejaVu Sans',Verdana,sans-serif" font-size="9.5" font-weight="normal" fill="#000" text-anchor="start" textLength="103.8" lengthAdjust="spacing" filter="url(#dl)">SPX New Lows 4.00</text>
<rect x="442" y="37" width="160" height="31" fill="#c4c4c4"/>
<rect x="440" y="35" width="160" height="31" fill="#7f7f7f"/>
<rect x="441" y="36" width="158" height="29" fill="#fff"/>
<text x="443.6" y="56.7" font-family="'Liberation Sans',Arial,sans-serif" font-size="20.0" font-weight="bold" fill="#0000dc" text-anchor="start" textLength="143.8" lengthAdjust="spacingAndGlyphs">SPX New Highs</text>
<rect x="383" y="195" width="298" height="31" fill="#c4c4c4"/>
<rect x="381" y="193" width="298" height="31" fill="#7f7f7f"/>
<rect x="382" y="194" width="296" height="29" fill="#fff"/>
<text x="384.6" y="215.1" font-family="'Liberation Sans',Arial,sans-serif" font-size="20.3" font-weight="bold" fill="#000" text-anchor="start" textLength="272" lengthAdjust="spacingAndGlyphs">SPX (New Highs - New Lows)</text>
<rect x="459" y="714" width="155" height="31" fill="#c4c4c4"/>
<rect x="457" y="712" width="155" height="31" fill="#7f7f7f"/>
<rect x="458" y="713" width="153" height="29" fill="#fff"/>
<text x="460.3" y="733.9" font-family="'Liberation Sans',Arial,sans-serif" font-size="20.3" font-weight="bold" fill="#ff0000" text-anchor="start" textLength="140" lengthAdjust="spacingAndGlyphs">SPX New Lows</text>
<text x="869.6" y="100.7" font-family="'Liberation Sans',Arial,sans-serif" font-size="14.7" font-weight="bold" fill="#0000dc" text-anchor="start" textLength="162" lengthAdjust="spacingAndGlyphs">Breakouts Are Working</text>
<text x="869.8" y="463.7" font-family="'Liberation Sans',Arial,sans-serif" font-size="14.7" font-weight="bold" fill="#000" text-anchor="start" textLength="180.7" lengthAdjust="spacingAndGlyphs">Persistent Net New Highs</text>
<text x="894.5" y="817.9" font-family="'Liberation Sans',Arial,sans-serif" font-size="14.7" font-weight="bold" fill="#ff0000" text-anchor="start" textLength="166" lengthAdjust="spacingAndGlyphs">Breakdowns Are Failing</text>
<text x="1024.5" y="678.9" font-family="'Liberation Sans',Arial,sans-serif" font-size="22" font-weight="bold" fill="#c8c8c8" text-anchor="start" textLength="158" lengthAdjust="spacingAndGlyphs">@HostileCharts</text>
</g>
<polygon points="1197.5,141 1201.5,135.5 1230.5,135.5 1230.5,146.5 1201.5,146.5" fill="#fff" stroke="#00008b" stroke-width="1" shape-rendering="geometricPrecision"/>
<text x="1202.0" y="144.9" font-family="'Liberation Serif','Times New Roman',serif" font-size="11.5" font-weight="bold" fill="#000" text-anchor="start" textLength="26.5" lengthAdjust="spacing" filter="url(#dl)">33.00</text>
<polygon points="1197.5,367 1201.5,361.5 1230.5,361.5 1230.5,372.5 1201.5,372.5" fill="#fff" stroke="#000022" stroke-width="1" shape-rendering="geometricPrecision"/>
<text x="1202.0" y="370.9" font-family="'Liberation Serif','Times New Roman',serif" font-size="11.5" font-weight="bold" fill="#000" text-anchor="start" textLength="26.5" lengthAdjust="spacing" filter="url(#dl)">29.00</text>
<polygon points="1197.5,847 1201.5,841.5 1224.5,841.5 1224.5,852.5 1201.5,852.5" fill="#fff" stroke="#dc0028" stroke-width="1" shape-rendering="geometricPrecision"/>
<text x="1202.0" y="850.9" font-family="'Liberation Serif','Times New Roman',serif" font-size="11.5" font-weight="bold" fill="#000" text-anchor="start" textLength="20.5" lengthAdjust="spacing" filter="url(#dl)">4.00</text>
</svg>
</body></html>
